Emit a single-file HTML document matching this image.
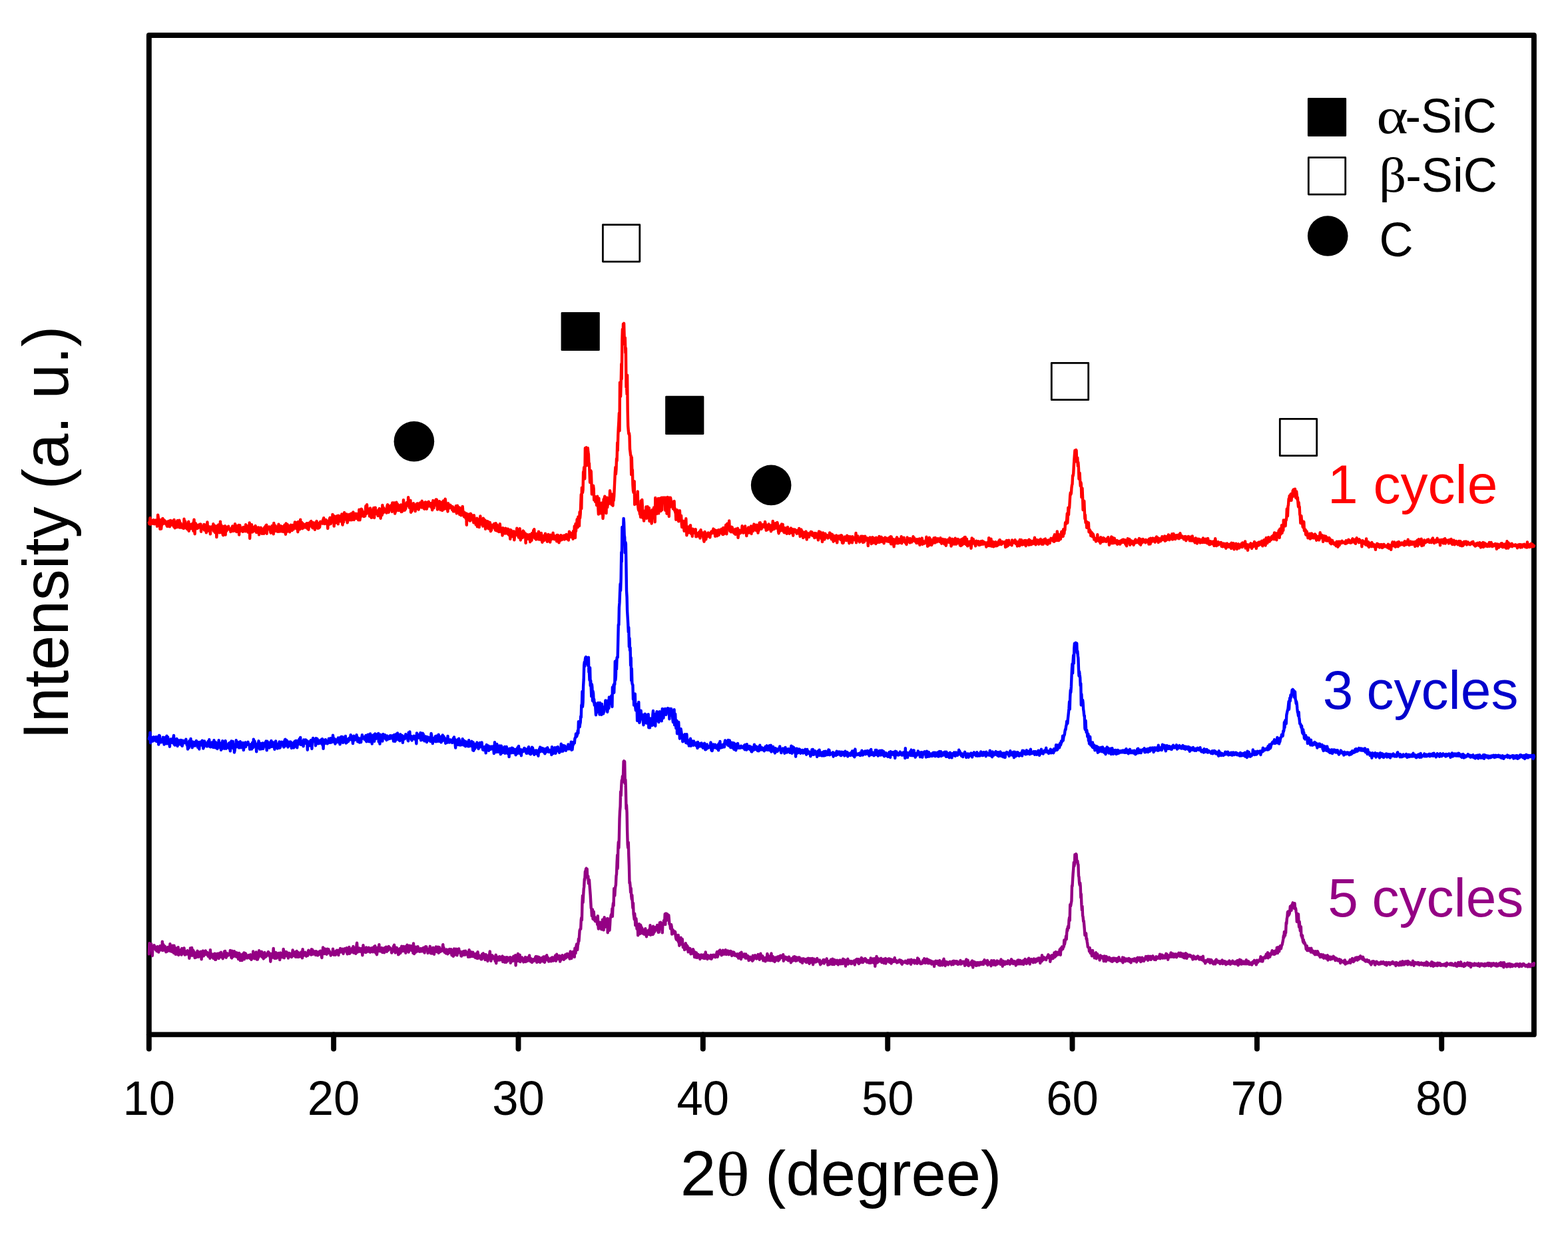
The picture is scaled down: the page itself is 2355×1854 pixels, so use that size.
<!DOCTYPE html>
<html lang="en">
<head>
<meta charset="utf-8">
<title>XRD patterns</title>
<style>
html,body{margin:0;padding:0;background:#fff;}
body{width:2355px;height:1854px;overflow:hidden;}
svg{display:block;}
text{font-family:'Liberation Sans', sans-serif;fill:#000;}
.sym{font-family:'Liberation Serif', serif;}
</style>
</head>
<body>
<svg width="2355" height="1854" viewBox="0 0 2355 1854">
<rect width="2355" height="1854" fill="#fff"/>

<g fill="none" stroke="#000" stroke-width="7.9" stroke-linecap="round" stroke-linejoin="round">
<rect x="223.8" y="53.0" width="2080.1" height="1501.4"/>
<line x1="223.8" y1="1554.4" x2="223.8" y2="1575.8"/>
<line x1="501.1" y1="1554.4" x2="501.1" y2="1575.8"/>
<line x1="778.5" y1="1554.4" x2="778.5" y2="1575.8"/>
<line x1="1055.8" y1="1554.4" x2="1055.8" y2="1575.8"/>
<line x1="1333.2" y1="1554.4" x2="1333.2" y2="1575.8"/>
<line x1="1610.5" y1="1554.4" x2="1610.5" y2="1575.8"/>
<line x1="1887.9" y1="1554.4" x2="1887.9" y2="1575.8"/>
<line x1="2165.2" y1="1554.4" x2="2165.2" y2="1575.8"/>
</g>
<g>
<text transform="translate(223.8,1674.8) scale(1,1.035)" font-size="70.7" text-anchor="middle">10</text>
<text transform="translate(501.1,1674.8) scale(1,1.035)" font-size="70.7" text-anchor="middle">20</text>
<text transform="translate(778.5,1674.8) scale(1,1.035)" font-size="70.7" text-anchor="middle">30</text>
<text transform="translate(1055.8,1674.8) scale(1,1.035)" font-size="70.7" text-anchor="middle">40</text>
<text transform="translate(1333.2,1674.8) scale(1,1.035)" font-size="70.7" text-anchor="middle">50</text>
<text transform="translate(1610.5,1674.8) scale(1,1.035)" font-size="70.7" text-anchor="middle">60</text>
<text transform="translate(1887.9,1674.8) scale(1,1.035)" font-size="70.7" text-anchor="middle">70</text>
<text transform="translate(2165.2,1674.8) scale(1,1.035)" font-size="70.7" text-anchor="middle">80</text>
</g>
<text transform="translate(1021.7,1796.2)" font-size="94"><tspan font-size="96.6">2</tspan><tspan class="sym" x="53.6" y="0.2" font-size="92.9" textLength="50.8" lengthAdjust="spacingAndGlyphs">θ</tspan><tspan x="101.3" y="0"> (degree)</tspan></text>
<text transform="translate(101.5,800.5) rotate(-90) scale(1,1.02)" font-size="94" text-anchor="middle">Intensity (a. u.)</text>
<g>
<path d="M223.8,1433.4 224.4,1417.3 224.9,1427.4 225.5,1423.8 226.0,1424.0 226.6,1424.6 227.1,1418.1 227.7,1424.1 228.2,1421.7 228.8,1436.0 229.3,1425.1 229.9,1422.9 230.5,1423.0 231.0,1421.6 231.6,1420.2 232.1,1422.4 232.7,1425.4 233.2,1422.9 233.8,1427.0 234.3,1423.0 234.9,1423.8 235.4,1429.1 236.0,1425.7 236.6,1422.1 237.1,1423.2 237.7,1425.7 238.2,1430.6 238.8,1423.0 239.3,1423.2 239.9,1427.5 240.4,1421.1 241.0,1423.2 241.6,1427.3 242.1,1426.3 242.7,1424.7 243.2,1426.8 243.8,1414.8 244.3,1428.1 244.9,1421.4 245.4,1419.1 246.0,1425.9 246.5,1427.4 247.1,1423.6 247.7,1421.5 248.2,1425.4 248.8,1425.2 249.3,1430.3 249.9,1428.2 250.4,1426.4 251.0,1429.6 251.5,1425.2 252.1,1422.9 252.6,1428.1 253.2,1428.3 253.8,1425.6 254.3,1423.8 254.9,1427.4 255.4,1418.2 256.0,1429.2 256.5,1428.6 257.1,1421.4 257.6,1427.4 258.2,1424.0 258.7,1430.0 259.3,1420.6 259.9,1424.5 260.4,1430.2 261.0,1431.8 261.5,1420.6 262.1,1426.4 262.6,1429.3 263.2,1426.2 263.7,1433.9 264.3,1424.5 264.8,1429.8 265.4,1425.2 266.0,1433.6 266.5,1428.9 267.1,1427.8 267.6,1423.3 268.2,1435.0 268.7,1431.9 269.3,1432.0 269.8,1433.4 270.4,1430.8 270.9,1427.5 271.5,1427.0 272.1,1427.1 272.6,1434.5 273.2,1425.0 273.7,1428.0 274.3,1429.0 274.8,1430.9 275.4,1432.1 275.9,1426.0 276.5,1424.4 277.1,1430.4 277.6,1434.6 278.2,1433.1 278.7,1431.3 279.3,1429.5 279.8,1431.7 280.4,1429.9 280.9,1433.6 281.5,1428.2 282.0,1431.4 282.6,1430.6 283.2,1432.9 283.7,1431.9 284.3,1439.9 284.8,1436.3 285.4,1436.4 285.9,1424.4 286.5,1430.3 287.0,1429.4 287.6,1433.4 288.1,1423.9 288.7,1435.7 289.3,1435.3 289.8,1427.4 290.4,1428.5 290.9,1429.2 291.5,1432.1 292.0,1434.2 292.6,1439.0 293.1,1431.5 293.7,1434.8 294.2,1432.8 294.8,1438.3 295.4,1434.9 295.9,1437.1 296.5,1428.8 297.0,1431.9 297.6,1429.8 298.1,1437.7 298.7,1434.9 299.2,1431.7 299.8,1431.3 300.3,1434.5 300.9,1430.5 301.5,1429.8 302.0,1434.6 302.6,1441.4 303.1,1432.3 303.7,1431.3 304.2,1429.2 304.8,1428.7 305.3,1435.1 305.9,1436.2 306.4,1433.4 307.0,1434.6 307.6,1433.9 308.1,1434.0 308.7,1428.4 309.2,1432.1 309.8,1434.1 310.3,1431.1 310.9,1432.1 311.4,1431.0 312.0,1432.7 312.6,1436.8 313.1,1432.5 313.7,1433.4 314.2,1436.7 314.8,1436.2 315.3,1439.8 315.9,1427.1 316.4,1437.0 317.0,1432.5 317.5,1434.7 318.1,1437.1 318.7,1437.9 319.2,1437.8 319.8,1434.9 320.3,1439.8 320.9,1433.4 321.4,1433.9 322.0,1437.1 322.5,1432.6 323.1,1441.8 323.6,1438.0 324.2,1441.9 324.8,1434.5 325.3,1433.3 325.9,1435.2 326.4,1437.1 327.0,1432.7 327.5,1435.9 328.1,1434.6 328.6,1440.1 329.2,1432.5 329.7,1438.2 330.3,1432.6 330.9,1431.5 331.4,1432.4 332.0,1430.8 332.5,1435.3 333.1,1438.3 333.6,1435.4 334.2,1436.9 334.7,1440.3 335.3,1435.8 335.8,1435.5 336.4,1434.0 337.0,1429.5 337.5,1437.4 338.1,1429.0 338.6,1437.1 339.2,1434.9 339.7,1438.7 340.3,1434.7 340.8,1432.2 341.4,1436.2 341.9,1433.1 342.5,1434.4 343.1,1435.2 343.6,1434.6 344.2,1434.4 344.7,1432.3 345.3,1434.4 345.8,1427.9 346.4,1434.6 346.9,1431.1 347.5,1438.9 348.1,1439.4 348.6,1428.6 349.2,1435.6 349.7,1434.7 350.3,1431.7 350.8,1437.0 351.4,1433.6 351.9,1429.3 352.5,1434.3 353.0,1434.7 353.6,1435.6 354.2,1431.1 354.7,1437.3 355.3,1437.7 355.8,1431.4 356.4,1433.1 356.9,1435.0 357.5,1433.4 358.0,1441.1 358.6,1436.0 359.1,1431.9 359.7,1432.7 360.3,1435.1 360.8,1443.0 361.4,1434.7 361.9,1435.8 362.5,1437.1 363.0,1435.2 363.6,1443.0 364.1,1433.6 364.7,1437.9 365.2,1435.9 365.8,1437.5 366.4,1431.5 366.9,1441.3 367.5,1435.0 368.0,1435.5 368.6,1432.3 369.1,1433.0 369.7,1437.3 370.2,1438.7 370.8,1437.9 371.3,1439.5 371.9,1437.8 372.5,1435.6 373.0,1438.2 373.6,1437.4 374.1,1435.1 374.7,1437.9 375.2,1439.7 375.8,1436.3 376.3,1434.3 376.9,1437.9 377.5,1441.8 378.0,1434.8 378.6,1435.2 379.1,1435.0 379.7,1439.5 380.2,1429.4 380.8,1436.7 381.3,1439.4 381.9,1432.8 382.4,1440.4 383.0,1437.3 383.6,1433.7 384.1,1436.2 384.7,1430.4 385.2,1433.6 385.8,1441.5 386.3,1432.5 386.9,1441.6 387.4,1435.2 388.0,1438.8 388.5,1435.6 389.1,1428.1 389.7,1433.6 390.2,1436.1 390.8,1431.7 391.3,1431.0 391.9,1436.6 392.4,1433.3 393.0,1429.8 393.5,1433.2 394.1,1438.2 394.6,1433.8 395.2,1438.5 395.8,1440.4 396.3,1435.5 396.9,1431.6 397.4,1431.0 398.0,1435.2 398.5,1438.2 399.1,1436.2 399.6,1437.1 400.2,1433.8 400.7,1436.2 401.3,1433.7 401.9,1434.1 402.4,1430.9 403.0,1430.0 403.5,1433.6 404.1,1431.5 404.6,1432.0 405.2,1437.3 405.7,1434.7 406.3,1444.7 406.8,1438.1 407.4,1432.9 408.0,1437.6 408.5,1436.2 409.1,1432.7 409.6,1438.6 410.2,1432.4 410.7,1424.9 411.3,1437.5 411.8,1432.8 412.4,1439.7 413.0,1432.7 413.5,1430.9 414.1,1439.9 414.6,1431.2 415.2,1435.4 415.7,1439.5 416.3,1435.1 416.8,1434.4 417.4,1435.0 417.9,1437.4 418.5,1431.9 419.1,1436.6 419.6,1436.4 420.2,1442.1 420.7,1433.4 421.3,1431.5 421.8,1436.8 422.4,1433.1 422.9,1435.3 423.5,1434.8 424.0,1438.2 424.6,1432.1 425.2,1434.0 425.7,1425.9 426.3,1431.3 426.8,1439.2 427.4,1431.9 427.9,1431.8 428.5,1430.1 429.0,1436.0 429.6,1434.6 430.1,1430.2 430.7,1436.2 431.3,1434.8 431.8,1436.4 432.4,1431.8 432.9,1439.6 433.5,1435.2 434.0,1433.5 434.6,1432.1 435.1,1433.0 435.7,1436.6 436.2,1432.9 436.8,1437.2 437.4,1435.6 437.9,1438.1 438.5,1436.3 439.0,1433.4 439.6,1427.4 440.1,1434.5 440.7,1436.1 441.2,1434.1 441.8,1435.3 442.3,1431.9 442.9,1432.2 443.5,1430.3 444.0,1437.8 444.6,1433.9 445.1,1431.7 445.7,1429.0 446.2,1432.8 446.8,1437.9 447.3,1434.7 447.9,1430.8 448.5,1437.8 449.0,1437.8 449.6,1436.3 450.1,1435.6 450.7,1436.8 451.2,1434.8 451.8,1435.5 452.3,1430.4 452.9,1437.8 453.4,1433.6 454.0,1439.4 454.6,1426.2 455.1,1435.1 455.7,1435.9 456.2,1431.6 456.8,1434.1 457.3,1435.1 457.9,1434.5 458.4,1430.8 459.0,1432.1 459.5,1435.8 460.1,1436.6 460.7,1432.7 461.2,1432.6 461.8,1433.0 462.3,1435.7 462.9,1428.8 463.4,1427.9 464.0,1432.6 464.5,1428.6 465.1,1430.2 465.6,1432.4 466.2,1433.6 466.8,1428.5 467.3,1434.6 467.9,1426.2 468.4,1433.6 469.0,1426.7 469.5,1427.7 470.1,1433.8 470.6,1430.4 471.2,1429.1 471.7,1430.2 472.3,1433.1 472.9,1431.4 473.4,1431.4 474.0,1434.9 474.5,1429.1 475.1,1429.9 475.6,1429.7 476.2,1435.1 476.7,1434.5 477.3,1435.4 477.8,1431.1 478.4,1430.7 479.0,1433.9 479.5,1429.8 480.1,1433.7 480.6,1433.3 481.2,1428.7 481.7,1430.7 482.3,1430.5 482.8,1436.4 483.4,1439.1 484.0,1430.5 484.5,1430.8 485.1,1423.4 485.6,1431.3 486.2,1430.6 486.7,1427.1 487.3,1433.1 487.8,1425.5 488.4,1429.8 488.9,1430.9 489.5,1426.4 490.1,1433.1 490.6,1433.7 491.2,1425.8 491.7,1425.7 492.3,1432.1 492.8,1430.1 493.4,1426.2 493.9,1429.1 494.5,1429.7 495.0,1429.5 495.6,1432.6 496.2,1431.2 496.7,1435.6 497.3,1434.2 497.8,1432.0 498.4,1433.2 498.9,1434.0 499.5,1431.9 500.0,1425.7 500.6,1432.3 501.1,1429.8 501.7,1434.7 502.3,1429.7 502.8,1431.1 503.4,1430.4 503.9,1434.7 504.5,1429.8 505.0,1428.4 505.6,1430.2 506.1,1427.7 506.7,1429.6 507.2,1429.0 507.8,1429.9 508.4,1435.1 508.9,1427.6 509.5,1429.0 510.0,1428.2 510.6,1430.9 511.1,1424.9 511.7,1426.4 512.2,1428.5 512.8,1430.3 513.3,1428.4 513.9,1426.9 514.5,1425.7 515.0,1430.0 515.6,1432.9 516.1,1429.3 516.7,1428.8 517.2,1429.6 517.8,1425.2 518.3,1427.1 518.9,1427.2 519.5,1429.0 520.0,1427.9 520.6,1424.1 521.1,1431.5 521.7,1433.3 522.2,1427.0 522.8,1429.1 523.3,1428.6 523.9,1430.2 524.4,1423.0 525.0,1432.8 525.6,1426.2 526.1,1431.6 526.7,1427.9 527.2,1426.3 527.8,1427.1 528.3,1430.4 528.9,1424.8 529.4,1426.3 530.0,1425.9 530.5,1422.0 531.1,1431.6 531.7,1429.2 532.2,1427.3 532.8,1431.1 533.3,1424.3 533.9,1427.1 534.4,1432.8 535.0,1430.4 535.5,1420.2 536.1,1416.7 536.6,1424.0 537.2,1430.6 537.8,1425.7 538.3,1426.5 538.9,1429.1 539.4,1424.4 540.0,1427.9 540.5,1429.7 541.1,1428.6 541.6,1428.4 542.2,1425.2 542.7,1428.8 543.3,1425.8 543.9,1431.2 544.4,1435.2 545.0,1424.7 545.5,1420.2 546.1,1425.7 546.6,1428.2 547.2,1430.3 547.7,1430.4 548.3,1424.5 548.9,1424.5 549.4,1431.0 550.0,1423.5 550.5,1430.4 551.1,1426.2 551.6,1429.3 552.2,1429.1 552.7,1429.4 553.3,1429.5 553.8,1423.8 554.4,1427.8 555.0,1426.9 555.5,1427.8 556.1,1430.7 556.6,1426.0 557.2,1424.6 557.7,1424.5 558.3,1425.8 558.8,1429.1 559.4,1424.2 559.9,1430.4 560.5,1427.7 561.1,1426.0 561.6,1422.5 562.2,1427.5 562.7,1428.9 563.3,1421.1 563.8,1430.4 564.4,1431.9 564.9,1427.7 565.5,1428.2 566.0,1434.2 566.6,1430.5 567.2,1423.8 567.7,1426.6 568.3,1426.1 568.8,1426.1 569.4,1419.2 569.9,1429.0 570.5,1424.6 571.0,1427.1 571.6,1426.1 572.1,1429.3 572.7,1425.6 573.3,1424.0 573.8,1428.2 574.4,1430.9 574.9,1425.5 575.5,1430.8 576.0,1427.3 576.6,1424.8 577.1,1431.3 577.7,1423.9 578.2,1429.6 578.8,1424.9 579.4,1427.9 579.9,1422.6 580.5,1423.8 581.0,1429.8 581.6,1427.0 582.1,1426.5 582.7,1425.0 583.2,1427.8 583.8,1422.0 584.4,1422.9 584.9,1425.9 585.5,1423.8 586.0,1424.2 586.6,1426.2 587.1,1425.9 587.7,1425.7 588.2,1431.6 588.8,1429.5 589.3,1430.2 589.9,1426.3 590.5,1424.8 591.0,1421.8 591.6,1425.3 592.1,1419.8 592.7,1424.5 593.2,1428.7 593.8,1431.4 594.3,1429.3 594.9,1423.6 595.4,1427.9 596.0,1423.9 596.6,1428.9 597.1,1426.0 597.7,1429.0 598.2,1434.3 598.8,1429.2 599.3,1433.6 599.9,1426.9 600.4,1425.3 601.0,1430.5 601.5,1431.7 602.1,1424.6 602.7,1426.5 603.2,1421.8 603.8,1425.7 604.3,1429.1 604.9,1426.0 605.4,1424.5 606.0,1421.9 606.5,1427.4 607.1,1428.8 607.6,1428.2 608.2,1427.1 608.8,1422.3 609.3,1431.8 609.9,1426.1 610.4,1425.9 611.0,1428.6 611.5,1419.6 612.1,1426.1 612.6,1425.9 613.2,1427.5 613.7,1430.5 614.3,1427.8 614.9,1420.7 615.4,1425.3 616.0,1427.0 616.5,1426.8 617.1,1422.4 617.6,1421.2 618.2,1428.1 618.7,1427.5 619.3,1426.4 619.9,1421.1 620.4,1431.9 621.0,1417.5 621.5,1425.4 622.1,1433.0 622.6,1426.0 623.2,1427.2 623.7,1422.9 624.3,1430.7 624.8,1422.6 625.4,1427.4 626.0,1427.0 626.5,1423.4 627.1,1429.4 627.6,1422.3 628.2,1424.5 628.7,1426.6 629.3,1425.4 629.8,1428.1 630.4,1429.6 630.9,1425.8 631.5,1425.1 632.1,1425.2 632.6,1425.7 633.2,1429.3 633.7,1426.2 634.3,1428.1 634.8,1426.6 635.4,1424.3 635.9,1429.6 636.5,1423.7 637.0,1427.0 637.6,1431.5 638.2,1423.6 638.7,1426.8 639.3,1422.1 639.8,1425.5 640.4,1422.5 640.9,1426.0 641.5,1425.5 642.0,1427.5 642.6,1432.0 643.1,1428.1 643.7,1429.2 644.3,1427.1 644.8,1426.5 645.4,1424.7 645.9,1421.8 646.5,1427.5 647.0,1432.4 647.6,1428.8 648.1,1425.8 648.7,1432.5 649.2,1426.1 649.8,1425.6 650.4,1423.8 650.9,1424.6 651.5,1426.8 652.0,1433.7 652.6,1427.0 653.1,1424.5 653.7,1425.8 654.2,1427.0 654.8,1422.5 655.4,1428.1 655.9,1429.9 656.5,1428.8 657.0,1429.7 657.6,1423.9 658.1,1422.7 658.7,1431.8 659.2,1431.3 659.8,1423.2 660.3,1428.6 660.9,1428.1 661.5,1429.7 662.0,1428.7 662.6,1426.6 663.1,1428.7 663.7,1428.7 664.2,1428.1 664.8,1422.6 665.3,1419.1 665.9,1425.9 666.4,1423.4 667.0,1429.2 667.6,1430.7 668.1,1429.3 668.7,1427.5 669.2,1428.8 669.8,1432.3 670.3,1426.5 670.9,1431.6 671.4,1431.0 672.0,1429.7 672.5,1433.4 673.1,1426.9 673.7,1432.0 674.2,1426.4 674.8,1426.9 675.3,1426.1 675.9,1430.7 676.4,1426.6 677.0,1429.7 677.5,1426.1 678.1,1432.9 678.6,1435.3 679.2,1430.5 679.8,1434.9 680.3,1431.7 680.9,1436.7 681.4,1430.4 682.0,1425.5 682.5,1434.8 683.1,1430.0 683.6,1427.3 684.2,1428.6 684.8,1425.7 685.3,1430.2 685.9,1427.6 686.4,1435.4 687.0,1433.0 687.5,1426.0 688.1,1426.6 688.6,1429.5 689.2,1425.5 689.7,1431.1 690.3,1431.4 690.9,1429.3 691.4,1430.0 692.0,1433.3 692.5,1436.2 693.1,1436.5 693.6,1432.2 694.2,1434.7 694.7,1430.0 695.3,1433.6 695.8,1429.5 696.4,1434.7 697.0,1428.9 697.5,1429.8 698.1,1432.8 698.6,1434.6 699.2,1428.6 699.7,1431.4 700.3,1433.6 700.8,1433.9 701.4,1430.8 701.9,1433.7 702.5,1432.7 703.1,1437.8 703.6,1435.4 704.2,1429.8 704.7,1427.2 705.3,1434.3 705.8,1437.6 706.4,1434.7 706.9,1436.9 707.5,1432.8 708.0,1430.3 708.6,1436.7 709.2,1434.8 709.7,1436.7 710.3,1430.6 710.8,1435.3 711.4,1433.0 711.9,1437.4 712.5,1433.3 713.0,1433.3 713.6,1433.4 714.1,1439.1 714.7,1435.4 715.3,1433.1 715.8,1432.4 716.4,1432.4 716.9,1440.0 717.5,1430.2 718.0,1433.2 718.6,1437.8 719.1,1439.4 719.7,1435.5 720.3,1438.4 720.8,1438.4 721.4,1439.2 721.9,1436.4 722.5,1441.3 723.0,1437.1 723.6,1441.2 724.1,1433.4 724.7,1439.6 725.2,1433.1 725.8,1432.4 726.4,1438.5 726.9,1434.6 727.5,1438.5 728.0,1434.1 728.6,1442.1 729.1,1437.5 729.7,1434.1 730.2,1438.1 730.8,1440.3 731.3,1435.5 731.9,1439.4 732.5,1444.0 733.0,1440.6 733.6,1438.1 734.1,1436.5 734.7,1440.0 735.2,1433.8 735.8,1429.4 736.3,1436.5 736.9,1435.3 737.4,1443.8 738.0,1439.1 738.6,1435.8 739.1,1435.4 739.7,1440.4 740.2,1436.5 740.8,1437.3 741.3,1438.9 741.9,1439.5 742.4,1439.5 743.0,1439.7 743.5,1443.3 744.1,1444.5 744.7,1434.6 745.2,1447.2 745.8,1440.0 746.3,1443.4 746.9,1437.6 747.4,1440.8 748.0,1440.5 748.5,1440.2 749.1,1442.5 749.6,1441.9 750.2,1437.1 750.8,1439.7 751.3,1442.3 751.9,1442.2 752.4,1439.2 753.0,1439.4 753.5,1439.8 754.1,1437.0 754.6,1436.5 755.2,1445.0 755.8,1439.2 756.3,1440.7 756.9,1438.2 757.4,1444.3 758.0,1445.7 758.5,1439.9 759.1,1442.1 759.6,1438.4 760.2,1445.8 760.7,1443.4 761.3,1438.2 761.9,1444.4 762.4,1441.8 763.0,1442.0 763.5,1441.9 764.1,1438.9 764.6,1439.3 765.2,1442.7 765.7,1440.8 766.3,1438.2 766.8,1446.9 767.4,1440.4 768.0,1439.4 768.5,1439.0 769.1,1443.1 769.6,1444.0 770.2,1441.9 770.7,1443.7 771.3,1436.8 771.8,1440.1 772.4,1439.9 772.9,1441.3 773.5,1442.7 774.1,1435.3 774.6,1450.5 775.2,1438.8 775.7,1442.4 776.3,1443.8 776.8,1443.9 777.4,1442.1 777.9,1433.0 778.5,1438.3 779.0,1443.7 779.6,1438.8 780.2,1438.5 780.7,1434.7 781.3,1445.1 781.8,1443.1 782.4,1439.0 782.9,1441.2 783.5,1441.3 784.0,1438.4 784.6,1440.9 785.1,1442.4 785.7,1443.3 786.3,1445.4 786.8,1441.8 787.4,1440.4 787.9,1442.9 788.5,1439.9 789.0,1438.1 789.6,1445.1 790.1,1440.7 790.7,1442.2 791.3,1443.7 791.8,1438.6 792.4,1443.7 792.9,1443.2 793.5,1441.6 794.0,1443.0 794.6,1439.7 795.1,1435.5 795.7,1441.1 796.2,1439.3 796.8,1444.5 797.4,1442.7 797.9,1440.4 798.5,1442.1 799.0,1445.9 799.6,1445.3 800.1,1443.1 800.7,1443.2 801.2,1441.2 801.8,1441.6 802.3,1443.7 802.9,1441.7 803.5,1442.9 804.0,1438.8 804.6,1437.2 805.1,1437.1 805.7,1440.8 806.2,1445.9 806.8,1445.5 807.3,1439.2 807.9,1437.6 808.4,1444.3 809.0,1443.4 809.6,1438.1 810.1,1445.1 810.7,1442.5 811.2,1445.8 811.8,1443.0 812.3,1444.5 812.9,1442.9 813.4,1439.2 814.0,1441.3 814.5,1440.0 815.1,1444.3 815.7,1439.0 816.2,1437.4 816.8,1443.7 817.3,1445.0 817.9,1445.9 818.4,1444.8 819.0,1437.3 819.5,1439.6 820.1,1440.0 820.7,1441.4 821.2,1435.3 821.8,1441.4 822.3,1442.1 822.9,1438.6 823.4,1441.6 824.0,1444.6 824.5,1441.3 825.1,1444.1 825.6,1443.9 826.2,1442.1 826.8,1442.0 827.3,1439.8 827.9,1444.3 828.4,1439.4 829.0,1438.7 829.5,1442.6 830.1,1438.4 830.6,1441.7 831.2,1443.4 831.7,1440.5 832.3,1440.5 832.9,1442.8 833.4,1442.2 834.0,1435.6 834.5,1436.2 835.1,1443.7 835.6,1440.9 836.2,1433.8 836.7,1435.8 837.3,1439.6 837.8,1436.7 838.4,1440.7 839.0,1439.6 839.5,1440.6 840.1,1435.9 840.6,1440.9 841.2,1444.6 841.7,1436.7 842.3,1442.6 842.8,1441.6 843.4,1440.5 843.9,1438.4 844.5,1435.2 845.1,1436.0 845.6,1440.5 846.2,1441.1 846.7,1441.7 847.3,1440.9 847.8,1440.6 848.4,1436.7 848.9,1434.4 849.5,1438.4 850.0,1439.1 850.6,1437.8 851.2,1433.1 851.7,1435.9 852.3,1432.9 852.8,1437.6 853.4,1433.9 853.9,1436.4 854.5,1437.7 855.0,1437.0 855.6,1440.5 856.2,1432.9 856.7,1429.4 857.3,1438.7 857.8,1440.0 858.4,1439.9 858.9,1436.1 859.5,1436.6 860.0,1435.0 860.6,1430.0 861.1,1431.7 861.7,1434.5 862.3,1430.1 862.8,1437.8 863.4,1424.8 863.9,1427.5 864.5,1432.1 865.0,1424.4 865.6,1421.0 866.1,1418.6 866.7,1419.5 867.2,1427.0 867.8,1420.2 868.4,1418.2 868.9,1410.6 869.5,1414.0 870.0,1407.1 870.6,1398.1 871.1,1396.6 871.7,1395.5 872.2,1395.7 872.8,1382.0 873.3,1378.8 873.9,1382.3 874.5,1355.8 875.0,1345.6 875.6,1356.0 876.1,1346.3 876.7,1335.8 877.2,1332.2 877.8,1320.7 878.3,1321.9 878.9,1309.3 879.4,1315.3 880.0,1305.5 880.6,1304.7 881.1,1307.5 881.7,1305.5 882.2,1318.4 882.8,1316.0 883.3,1316.3 883.9,1327.4 884.4,1325.9 885.0,1321.9 885.5,1329.8 886.1,1337.3 886.7,1345.0 887.2,1354.1 887.8,1364.3 888.3,1365.1 888.9,1376.1 889.4,1374.6 890.0,1366.5 890.5,1380.7 891.1,1379.0 891.7,1369.6 892.2,1376.0 892.8,1382.4 893.3,1378.0 893.9,1384.1 894.4,1381.3 895.0,1384.4 895.5,1379.3 896.1,1384.8 896.6,1381.6 897.2,1389.1 897.8,1376.1 898.3,1389.3 898.9,1395.6 899.4,1392.5 900.0,1389.6 900.5,1393.4 901.1,1385.7 901.6,1385.9 902.2,1388.6 902.7,1389.8 903.3,1396.2 903.9,1385.5 904.4,1396.4 905.0,1381.6 905.5,1386.1 906.1,1390.5 906.6,1397.3 907.2,1387.1 907.7,1378.3 908.3,1393.1 908.8,1390.5 909.4,1384.3 910.0,1384.3 910.5,1386.0 911.1,1390.2 911.6,1392.9 912.2,1379.9 912.7,1401.3 913.3,1386.9 913.8,1384.1 914.4,1389.5 914.9,1385.2 915.5,1397.7 916.1,1389.2 916.6,1379.2 917.2,1377.7 917.7,1375.1 918.3,1373.6 918.8,1377.2 919.4,1365.2 919.9,1376.8 920.5,1361.4 921.0,1356.9 921.6,1360.6 922.2,1335.0 922.7,1338.3 923.3,1345.7 923.8,1336.6 924.4,1331.6 924.9,1329.7 925.5,1315.9 926.0,1313.5 926.6,1296.6 927.2,1284.6 927.7,1304.9 928.3,1274.6 928.8,1265.1 929.4,1274.0 929.9,1258.7 930.5,1230.1 931.0,1218.7 931.6,1211.7 932.1,1189.5 932.7,1195.4 933.3,1180.4 933.8,1172.3 934.4,1173.2 934.9,1166.2 935.5,1174.5 936.0,1166.1 936.6,1144.2 937.1,1143.4 937.7,1144.2 938.2,1144.2 938.8,1177.4 939.4,1171.4 939.9,1186.8 940.5,1215.3 941.0,1209.5 941.6,1221.2 942.1,1247.7 942.7,1268.8 943.2,1273.7 943.8,1265.7 944.3,1285.6 944.9,1300.4 945.5,1327.0 946.0,1325.4 946.6,1331.7 947.1,1340.7 947.7,1334.7 948.2,1346.0 948.8,1351.0 949.3,1344.9 949.9,1356.1 950.4,1364.2 951.0,1357.0 951.6,1373.3 952.1,1376.4 952.7,1381.2 953.2,1372.6 953.8,1380.4 954.3,1390.4 954.9,1388.0 955.4,1380.2 956.0,1387.5 956.5,1395.7 957.1,1388.4 957.7,1392.1 958.2,1405.3 958.8,1391.8 959.3,1392.2 959.9,1388.1 960.4,1390.8 961.0,1403.0 961.5,1394.8 962.1,1389.8 962.7,1391.7 963.2,1397.2 963.8,1401.7 964.3,1394.3 964.9,1402.4 965.4,1396.6 966.0,1401.5 966.5,1402.7 967.1,1403.5 967.6,1398.6 968.2,1400.2 968.8,1403.9 969.3,1395.1 969.9,1402.6 970.4,1404.5 971.0,1407.3 971.5,1401.9 972.1,1401.1 972.6,1402.7 973.2,1398.3 973.7,1400.8 974.3,1403.8 974.9,1403.0 975.4,1396.1 976.0,1399.5 976.5,1390.3 977.1,1404.8 977.6,1397.8 978.2,1401.4 978.7,1394.3 979.3,1399.2 979.8,1401.6 980.4,1404.1 981.0,1391.7 981.5,1402.8 982.1,1397.3 982.6,1393.8 983.2,1400.0 983.7,1395.7 984.3,1395.3 984.8,1392.9 985.4,1397.4 985.9,1396.1 986.5,1394.6 987.1,1390.0 987.6,1392.0 988.2,1396.4 988.7,1400.7 989.3,1393.3 989.8,1400.6 990.4,1392.4 990.9,1386.1 991.5,1394.9 992.1,1385.7 992.6,1392.7 993.2,1395.8 993.7,1387.5 994.3,1388.0 994.8,1401.4 995.4,1388.0 995.9,1387.2 996.5,1389.2 997.0,1383.3 997.6,1382.4 998.2,1384.3 998.7,1373.3 999.3,1389.1 999.8,1373.9 1000.4,1372.5 1000.9,1383.0 1001.5,1380.1 1002.0,1373.3 1002.6,1382.1 1003.1,1374.9 1003.7,1378.5 1004.3,1375.0 1004.8,1380.1 1005.4,1388.4 1005.9,1388.1 1006.5,1390.5 1007.0,1395.2 1007.6,1391.3 1008.1,1389.2 1008.7,1392.5 1009.2,1403.6 1009.8,1396.2 1010.4,1398.7 1010.9,1397.6 1011.5,1400.4 1012.0,1402.3 1012.6,1401.2 1013.1,1401.6 1013.7,1399.6 1014.2,1400.4 1014.8,1407.3 1015.3,1409.9 1015.9,1411.6 1016.5,1408.5 1017.0,1405.4 1017.6,1412.8 1018.1,1413.5 1018.7,1404.9 1019.2,1415.7 1019.8,1415.4 1020.3,1420.7 1020.9,1409.5 1021.4,1409.5 1022.0,1418.8 1022.6,1408.7 1023.1,1413.7 1023.7,1412.9 1024.2,1413.8 1024.8,1410.9 1025.3,1418.0 1025.9,1423.3 1026.4,1421.7 1027.0,1422.3 1027.6,1419.7 1028.1,1427.0 1028.7,1424.0 1029.2,1426.4 1029.8,1417.3 1030.3,1424.7 1030.9,1419.8 1031.4,1425.7 1032.0,1425.6 1032.5,1421.4 1033.1,1426.4 1033.7,1430.3 1034.2,1428.4 1034.8,1429.2 1035.3,1424.8 1035.9,1425.9 1036.4,1425.0 1037.0,1429.5 1037.5,1433.3 1038.1,1431.3 1038.6,1430.4 1039.2,1427.3 1039.8,1432.6 1040.3,1430.8 1040.9,1426.2 1041.4,1427.1 1042.0,1431.6 1042.5,1430.3 1043.1,1438.0 1043.6,1433.5 1044.2,1430.6 1044.7,1432.4 1045.3,1438.5 1045.9,1431.5 1046.4,1436.5 1047.0,1435.8 1047.5,1438.8 1048.1,1436.4 1048.6,1434.0 1049.2,1436.7 1049.7,1435.6 1050.3,1438.2 1050.8,1435.5 1051.4,1441.1 1052.0,1435.7 1052.5,1437.3 1053.1,1434.5 1053.6,1436.7 1054.2,1436.6 1054.7,1437.1 1055.3,1439.0 1055.8,1435.4 1056.4,1434.7 1056.9,1439.8 1057.5,1436.3 1058.1,1435.4 1058.6,1440.1 1059.2,1439.2 1059.7,1430.5 1060.3,1436.3 1060.8,1439.2 1061.4,1439.3 1061.9,1435.9 1062.5,1441.1 1063.1,1435.2 1063.6,1436.5 1064.2,1437.4 1064.7,1437.0 1065.3,1439.0 1065.8,1439.4 1066.4,1436.7 1066.9,1440.2 1067.5,1434.9 1068.0,1436.0 1068.6,1440.7 1069.2,1436.5 1069.7,1438.9 1070.3,1435.0 1070.8,1435.3 1071.4,1435.5 1071.9,1436.1 1072.5,1434.7 1073.0,1435.5 1073.6,1437.0 1074.1,1438.2 1074.7,1435.3 1075.3,1436.5 1075.8,1436.9 1076.4,1431.7 1076.9,1430.1 1077.5,1437.8 1078.0,1436.6 1078.6,1433.1 1079.1,1433.5 1079.7,1429.8 1080.2,1428.4 1080.8,1432.3 1081.4,1427.5 1081.9,1433.2 1082.5,1428.9 1083.0,1431.2 1083.6,1435.2 1084.1,1435.0 1084.7,1429.6 1085.2,1432.9 1085.8,1427.7 1086.3,1428.8 1086.9,1431.2 1087.5,1433.7 1088.0,1428.8 1088.6,1431.6 1089.1,1430.5 1089.7,1427.1 1090.2,1429.9 1090.8,1434.0 1091.3,1430.0 1091.9,1431.5 1092.4,1432.3 1093.0,1428.4 1093.6,1433.3 1094.1,1434.0 1094.7,1434.2 1095.2,1433.6 1095.8,1429.3 1096.3,1429.2 1096.9,1428.9 1097.4,1428.9 1098.0,1429.5 1098.6,1434.3 1099.1,1435.9 1099.7,1431.1 1100.2,1435.2 1100.8,1430.5 1101.3,1433.2 1101.9,1432.0 1102.4,1430.8 1103.0,1435.3 1103.5,1435.6 1104.1,1434.7 1104.7,1434.6 1105.2,1433.6 1105.8,1435.8 1106.3,1434.7 1106.9,1436.8 1107.4,1433.3 1108.0,1436.9 1108.5,1437.7 1109.1,1439.6 1109.6,1439.1 1110.2,1437.1 1110.8,1435.0 1111.3,1432.2 1111.9,1436.8 1112.4,1440.3 1113.0,1441.0 1113.5,1430.6 1114.1,1435.1 1114.6,1436.1 1115.2,1434.5 1115.7,1437.5 1116.3,1437.2 1116.9,1435.9 1117.4,1437.1 1118.0,1433.3 1118.5,1434.9 1119.1,1435.1 1119.6,1439.6 1120.2,1433.4 1120.7,1436.9 1121.3,1439.4 1121.8,1437.3 1122.4,1439.5 1123.0,1435.9 1123.5,1438.6 1124.1,1439.8 1124.6,1443.1 1125.2,1439.4 1125.7,1441.2 1126.3,1437.7 1126.8,1438.0 1127.4,1441.6 1128.0,1439.2 1128.5,1441.3 1129.1,1439.6 1129.6,1443.0 1130.2,1443.7 1130.7,1435.8 1131.3,1442.5 1131.8,1439.0 1132.4,1439.1 1132.9,1437.7 1133.5,1439.8 1134.1,1435.3 1134.6,1436.3 1135.2,1436.2 1135.7,1438.8 1136.3,1440.4 1136.8,1440.0 1137.4,1439.1 1137.9,1436.8 1138.5,1434.0 1139.0,1439.3 1139.6,1438.7 1140.2,1439.2 1140.7,1441.8 1141.3,1437.9 1141.8,1437.9 1142.4,1432.8 1142.9,1439.8 1143.5,1438.4 1144.0,1436.7 1144.6,1439.5 1145.1,1436.1 1145.7,1437.3 1146.3,1443.4 1146.8,1440.5 1147.4,1441.0 1147.9,1440.6 1148.5,1440.3 1149.0,1439.3 1149.6,1444.4 1150.1,1438.7 1150.7,1440.7 1151.2,1438.4 1151.8,1438.1 1152.4,1433.0 1152.9,1434.3 1153.5,1442.8 1154.0,1442.6 1154.6,1438.0 1155.1,1439.0 1155.7,1440.6 1156.2,1436.7 1156.8,1443.4 1157.3,1436.6 1157.9,1437.4 1158.5,1432.5 1159.0,1442.9 1159.6,1439.4 1160.1,1443.2 1160.7,1436.9 1161.2,1440.1 1161.8,1439.5 1162.3,1439.8 1162.9,1444.4 1163.5,1444.9 1164.0,1442.8 1164.6,1438.5 1165.1,1441.6 1165.7,1442.7 1166.2,1440.9 1166.8,1440.9 1167.3,1440.7 1167.9,1437.4 1168.4,1440.2 1169.0,1443.5 1169.6,1437.3 1170.1,1439.9 1170.7,1441.7 1171.2,1436.4 1171.8,1439.4 1172.3,1435.7 1172.9,1438.3 1173.4,1436.4 1174.0,1437.7 1174.5,1438.7 1175.1,1439.2 1175.7,1439.4 1176.2,1434.2 1176.8,1443.8 1177.3,1439.3 1177.9,1437.4 1178.4,1438.5 1179.0,1440.8 1179.5,1437.7 1180.1,1439.1 1180.6,1439.0 1181.2,1441.5 1181.8,1438.4 1182.3,1441.3 1182.9,1441.1 1183.4,1440.0 1184.0,1443.3 1184.5,1440.4 1185.1,1437.6 1185.6,1441.2 1186.2,1440.8 1186.7,1440.4 1187.3,1441.1 1187.9,1446.2 1188.4,1441.2 1189.0,1441.8 1189.5,1440.1 1190.1,1443.9 1190.6,1440.6 1191.2,1438.9 1191.7,1437.9 1192.3,1442.2 1192.8,1442.7 1193.4,1437.2 1194.0,1439.3 1194.5,1442.6 1195.1,1443.6 1195.6,1438.1 1196.2,1440.3 1196.7,1443.3 1197.3,1440.1 1197.8,1440.4 1198.4,1440.2 1199.0,1438.5 1199.5,1441.8 1200.1,1442.4 1200.6,1438.5 1201.2,1442.1 1201.7,1444.6 1202.3,1442.5 1202.8,1444.3 1203.4,1440.8 1203.9,1445.5 1204.5,1440.4 1205.1,1446.8 1205.6,1441.4 1206.2,1440.8 1206.7,1440.4 1207.3,1441.7 1207.8,1441.5 1208.4,1441.1 1208.9,1442.1 1209.5,1444.5 1210.0,1445.1 1210.6,1442.2 1211.2,1446.0 1211.7,1440.8 1212.3,1440.8 1212.8,1440.6 1213.4,1444.8 1213.9,1439.8 1214.5,1440.2 1215.0,1446.6 1215.6,1447.7 1216.1,1446.8 1216.7,1440.2 1217.3,1443.8 1217.8,1445.8 1218.4,1444.1 1218.9,1440.1 1219.5,1443.2 1220.0,1440.0 1220.6,1441.1 1221.1,1449.2 1221.7,1445.7 1222.2,1440.7 1222.8,1440.7 1223.4,1445.3 1223.9,1442.8 1224.5,1445.6 1225.0,1442.8 1225.6,1443.8 1226.1,1444.9 1226.7,1441.9 1227.2,1439.9 1227.8,1441.6 1228.3,1442.8 1228.9,1444.0 1229.5,1444.3 1230.0,1444.3 1230.6,1445.7 1231.1,1442.4 1231.7,1447.8 1232.2,1449.2 1232.8,1445.4 1233.3,1445.0 1233.9,1447.5 1234.5,1446.1 1235.0,1445.1 1235.6,1444.3 1236.1,1443.0 1236.7,1442.0 1237.2,1446.3 1237.8,1447.5 1238.3,1442.3 1238.9,1444.6 1239.4,1445.3 1240.0,1443.8 1240.6,1443.1 1241.1,1443.9 1241.7,1440.3 1242.2,1444.7 1242.8,1444.2 1243.3,1449.8 1243.9,1447.1 1244.4,1444.1 1245.0,1444.9 1245.5,1449.0 1246.1,1448.7 1246.7,1445.4 1247.2,1444.7 1247.8,1441.7 1248.3,1444.3 1248.9,1444.7 1249.4,1443.4 1250.0,1449.1 1250.5,1440.7 1251.1,1444.8 1251.6,1446.1 1252.2,1446.1 1252.8,1449.1 1253.3,1441.9 1253.9,1443.4 1254.4,1445.4 1255.0,1445.5 1255.5,1444.3 1256.1,1443.4 1256.6,1447.7 1257.2,1442.8 1257.7,1443.9 1258.3,1448.6 1258.9,1449.3 1259.4,1447.3 1260.0,1443.3 1260.5,1443.3 1261.1,1443.2 1261.6,1442.7 1262.2,1444.3 1262.7,1448.2 1263.3,1445.8 1263.8,1443.6 1264.4,1443.5 1265.0,1442.6 1265.5,1448.1 1266.1,1440.7 1266.6,1446.0 1267.2,1442.0 1267.7,1442.9 1268.3,1441.9 1268.8,1447.6 1269.4,1445.1 1270.0,1451.6 1270.5,1443.0 1271.1,1442.8 1271.6,1446.7 1272.2,1446.6 1272.7,1444.7 1273.3,1440.7 1273.8,1448.6 1274.4,1446.6 1274.9,1446.2 1275.5,1443.9 1276.1,1446.7 1276.6,1443.9 1277.2,1445.3 1277.7,1444.8 1278.3,1448.0 1278.8,1444.1 1279.4,1444.3 1279.9,1447.6 1280.5,1445.6 1281.0,1445.0 1281.6,1444.5 1282.2,1447.1 1282.7,1443.5 1283.3,1446.0 1283.8,1449.5 1284.4,1445.7 1284.9,1443.0 1285.5,1442.0 1286.0,1445.1 1286.6,1441.9 1287.1,1441.0 1287.7,1442.9 1288.3,1442.1 1288.8,1446.5 1289.4,1441.2 1289.9,1448.0 1290.5,1442.7 1291.0,1444.6 1291.6,1445.8 1292.1,1444.8 1292.7,1445.9 1293.2,1441.9 1293.8,1439.0 1294.4,1443.6 1294.9,1440.2 1295.5,1442.7 1296.0,1446.1 1296.6,1443.5 1297.1,1442.5 1297.7,1441.3 1298.2,1443.1 1298.8,1443.3 1299.4,1440.1 1299.9,1444.3 1300.5,1441.2 1301.0,1444.1 1301.6,1442.5 1302.1,1445.7 1302.7,1445.4 1303.2,1443.4 1303.8,1443.1 1304.3,1444.3 1304.9,1446.4 1305.5,1445.7 1306.0,1443.6 1306.6,1443.9 1307.1,1446.8 1307.7,1439.5 1308.2,1444.4 1308.8,1441.1 1309.3,1446.2 1309.9,1442.0 1310.4,1442.8 1311.0,1440.6 1311.6,1443.1 1312.1,1444.8 1312.7,1446.8 1313.2,1440.2 1313.8,1442.0 1314.3,1451.8 1314.9,1445.1 1315.4,1443.0 1316.0,1444.2 1316.5,1437.0 1317.1,1446.6 1317.7,1443.3 1318.2,1439.7 1318.8,1445.6 1319.3,1441.6 1319.9,1440.7 1320.4,1444.2 1321.0,1443.9 1321.5,1442.0 1322.1,1442.9 1322.6,1440.0 1323.2,1439.8 1323.8,1445.1 1324.3,1446.0 1324.9,1444.0 1325.4,1443.9 1326.0,1442.2 1326.5,1442.8 1327.1,1441.0 1327.6,1447.1 1328.2,1441.9 1328.7,1444.1 1329.3,1443.2 1329.9,1440.0 1330.4,1447.5 1331.0,1442.4 1331.5,1441.5 1332.1,1443.5 1332.6,1441.2 1333.2,1443.3 1333.7,1441.1 1334.3,1444.6 1334.9,1443.4 1335.4,1440.3 1336.0,1445.7 1336.5,1443.8 1337.1,1440.9 1337.6,1444.2 1338.2,1444.4 1338.7,1447.6 1339.3,1441.6 1339.8,1445.4 1340.4,1443.3 1341.0,1444.9 1341.5,1443.0 1342.1,1443.5 1342.6,1444.7 1343.2,1441.0 1343.7,1439.0 1344.3,1443.6 1344.8,1442.7 1345.4,1443.9 1345.9,1445.2 1346.5,1443.3 1347.1,1446.4 1347.6,1443.7 1348.2,1444.1 1348.7,1445.7 1349.3,1445.2 1349.8,1443.7 1350.4,1444.2 1350.9,1442.2 1351.5,1442.6 1352.0,1444.2 1352.6,1445.8 1353.2,1443.0 1353.7,1445.9 1354.3,1448.3 1354.8,1448.8 1355.4,1444.1 1355.9,1446.4 1356.5,1445.5 1357.0,1445.9 1357.6,1446.0 1358.1,1445.4 1358.7,1446.0 1359.3,1444.7 1359.8,1443.7 1360.4,1444.9 1360.9,1445.4 1361.5,1447.0 1362.0,1445.2 1362.6,1446.0 1363.1,1447.5 1363.7,1442.4 1364.2,1443.9 1364.8,1445.7 1365.4,1444.5 1365.9,1442.3 1366.5,1446.7 1367.0,1444.4 1367.6,1442.4 1368.1,1448.8 1368.7,1441.8 1369.2,1444.6 1369.8,1443.2 1370.4,1444.9 1370.9,1445.9 1371.5,1442.9 1372.0,1444.5 1372.6,1444.5 1373.1,1442.6 1373.7,1447.4 1374.2,1445.2 1374.8,1444.2 1375.3,1443.4 1375.9,1444.1 1376.5,1445.2 1377.0,1443.9 1377.6,1447.7 1378.1,1439.4 1378.7,1440.3 1379.2,1444.4 1379.8,1441.0 1380.3,1444.9 1380.9,1443.6 1381.4,1446.4 1382.0,1446.0 1382.6,1448.0 1383.1,1447.2 1383.7,1447.9 1384.2,1446.4 1384.8,1447.6 1385.3,1446.3 1385.9,1444.0 1386.4,1442.6 1387.0,1442.7 1387.5,1446.4 1388.1,1440.2 1388.7,1445.8 1389.2,1443.8 1389.8,1447.0 1390.3,1445.9 1390.9,1443.8 1391.4,1445.5 1392.0,1440.6 1392.5,1446.1 1393.1,1446.6 1393.6,1441.6 1394.2,1447.4 1394.8,1445.3 1395.3,1446.0 1395.9,1442.6 1396.4,1447.0 1397.0,1446.9 1397.5,1445.7 1398.1,1443.6 1398.6,1447.4 1399.2,1448.5 1399.7,1446.6 1400.3,1448.0 1400.9,1444.6 1401.4,1446.2 1402.0,1446.7 1402.5,1446.2 1403.1,1452.0 1403.6,1446.8 1404.2,1444.7 1404.7,1447.8 1405.3,1443.7 1405.9,1446.8 1406.4,1447.7 1407.0,1445.0 1407.5,1445.4 1408.1,1444.1 1408.6,1446.4 1409.2,1444.7 1409.7,1449.9 1410.3,1447.6 1410.8,1445.7 1411.4,1443.1 1412.0,1450.6 1412.5,1449.0 1413.1,1447.3 1413.6,1446.7 1414.2,1446.6 1414.7,1445.3 1415.3,1450.3 1415.8,1446.7 1416.4,1443.2 1416.9,1444.9 1417.5,1440.8 1418.1,1447.8 1418.6,1448.0 1419.2,1450.2 1419.7,1450.9 1420.3,1444.7 1420.8,1447.4 1421.4,1448.6 1421.9,1448.1 1422.5,1445.4 1423.0,1448.2 1423.6,1447.5 1424.2,1449.4 1424.7,1446.4 1425.3,1446.0 1425.8,1445.4 1426.4,1445.7 1426.9,1444.9 1427.5,1445.8 1428.0,1447.6 1428.6,1447.5 1429.1,1449.4 1429.7,1448.9 1430.3,1447.9 1430.8,1444.1 1431.4,1447.8 1431.9,1449.1 1432.5,1443.8 1433.0,1444.2 1433.6,1444.6 1434.1,1444.4 1434.7,1446.0 1435.3,1444.7 1435.8,1447.5 1436.4,1444.1 1436.9,1446.4 1437.5,1445.6 1438.0,1444.6 1438.6,1448.9 1439.1,1446.8 1439.7,1447.9 1440.2,1446.0 1440.8,1448.2 1441.4,1448.0 1441.9,1446.4 1442.5,1443.0 1443.0,1448.5 1443.6,1448.2 1444.1,1447.2 1444.7,1447.3 1445.2,1447.1 1445.8,1447.2 1446.3,1444.7 1446.9,1446.7 1447.5,1447.5 1448.0,1445.6 1448.6,1444.8 1449.1,1450.8 1449.7,1448.2 1450.2,1446.3 1450.8,1445.9 1451.3,1441.4 1451.9,1443.9 1452.4,1446.4 1453.0,1449.7 1453.6,1442.6 1454.1,1445.5 1454.7,1451.0 1455.2,1448.4 1455.8,1447.9 1456.3,1449.5 1456.9,1446.8 1457.4,1446.6 1458.0,1448.5 1458.5,1448.8 1459.1,1444.8 1459.7,1450.3 1460.2,1443.4 1460.8,1445.6 1461.3,1453.5 1461.9,1446.0 1462.4,1448.5 1463.0,1445.0 1463.5,1446.4 1464.1,1445.6 1464.6,1446.3 1465.2,1448.5 1465.8,1450.8 1466.3,1449.0 1466.9,1450.4 1467.4,1446.1 1468.0,1450.2 1468.5,1448.3 1469.1,1450.0 1469.6,1446.3 1470.2,1446.7 1470.8,1450.0 1471.3,1448.4 1471.9,1447.4 1472.4,1445.8 1473.0,1447.0 1473.5,1448.2 1474.1,1448.7 1474.6,1446.0 1475.2,1446.5 1475.7,1448.1 1476.3,1444.9 1476.9,1449.1 1477.4,1447.1 1478.0,1446.9 1478.5,1442.1 1479.1,1443.8 1479.6,1445.0 1480.2,1445.9 1480.7,1444.8 1481.3,1447.9 1481.8,1447.4 1482.4,1446.5 1483.0,1442.9 1483.5,1450.0 1484.1,1446.5 1484.6,1448.3 1485.2,1445.7 1485.7,1447.1 1486.3,1448.5 1486.8,1447.6 1487.4,1449.1 1487.9,1446.7 1488.5,1451.2 1489.1,1443.2 1489.6,1445.9 1490.2,1449.1 1490.7,1446.5 1491.3,1446.1 1491.8,1443.4 1492.4,1449.5 1492.9,1443.1 1493.5,1448.0 1494.0,1447.4 1494.6,1448.8 1495.2,1450.0 1495.7,1445.5 1496.3,1445.3 1496.8,1446.3 1497.4,1443.4 1497.9,1448.6 1498.5,1446.0 1499.0,1447.2 1499.6,1444.5 1500.1,1446.8 1500.7,1445.5 1501.3,1446.6 1501.8,1444.5 1502.4,1448.8 1502.9,1445.4 1503.5,1441.4 1504.0,1448.0 1504.6,1446.0 1505.1,1444.8 1505.7,1451.7 1506.3,1446.4 1506.8,1443.8 1507.4,1445.2 1507.9,1447.3 1508.5,1446.0 1509.0,1449.0 1509.6,1448.6 1510.1,1444.8 1510.7,1446.4 1511.2,1447.6 1511.8,1445.5 1512.4,1445.3 1512.9,1448.0 1513.5,1447.1 1514.0,1443.3 1514.6,1445.0 1515.1,1445.3 1515.7,1445.9 1516.2,1444.6 1516.8,1448.8 1517.3,1444.0 1517.9,1443.8 1518.5,1446.4 1519.0,1441.3 1519.6,1443.8 1520.1,1447.1 1520.7,1443.1 1521.2,1444.1 1521.8,1448.0 1522.3,1446.7 1522.9,1445.8 1523.4,1446.2 1524.0,1444.3 1524.6,1446.2 1525.1,1445.2 1525.7,1450.6 1526.2,1446.6 1526.8,1444.8 1527.3,1445.3 1527.9,1445.5 1528.4,1442.6 1529.0,1443.7 1529.5,1448.4 1530.1,1442.4 1530.7,1444.0 1531.2,1447.2 1531.8,1448.2 1532.3,1443.0 1532.9,1448.0 1533.4,1444.3 1534.0,1448.3 1534.5,1446.0 1535.1,1444.3 1535.6,1446.3 1536.2,1446.0 1536.8,1443.2 1537.3,1449.1 1537.9,1444.0 1538.4,1447.0 1539.0,1443.7 1539.5,1440.9 1540.1,1442.3 1540.6,1444.3 1541.2,1445.8 1541.8,1448.0 1542.3,1444.5 1542.9,1443.8 1543.4,1441.8 1544.0,1444.2 1544.5,1444.8 1545.1,1439.7 1545.6,1446.7 1546.2,1446.4 1546.7,1448.6 1547.3,1442.1 1547.9,1444.0 1548.4,1443.9 1549.0,1441.1 1549.5,1442.0 1550.1,1441.7 1550.6,1444.6 1551.2,1444.4 1551.7,1446.2 1552.3,1442.6 1552.8,1440.5 1553.4,1444.1 1554.0,1443.9 1554.5,1444.5 1555.1,1445.6 1555.6,1441.7 1556.2,1444.5 1556.7,1440.7 1557.3,1443.0 1557.8,1444.0 1558.4,1442.3 1558.9,1442.9 1559.5,1439.4 1560.1,1440.9 1560.6,1442.5 1561.2,1439.5 1561.7,1440.1 1562.3,1447.0 1562.8,1442.3 1563.4,1439.8 1563.9,1439.3 1564.5,1444.4 1565.0,1435.2 1565.6,1440.3 1566.2,1442.3 1566.7,1439.6 1567.3,1441.8 1567.8,1438.2 1568.4,1440.4 1568.9,1440.3 1569.5,1440.1 1570.0,1440.3 1570.6,1439.9 1571.2,1442.2 1571.7,1439.0 1572.3,1438.1 1572.8,1438.6 1573.4,1438.4 1573.9,1435.5 1574.5,1434.4 1575.0,1435.5 1575.6,1439.1 1576.1,1436.8 1576.7,1437.2 1577.3,1444.7 1577.8,1440.5 1578.4,1437.2 1578.9,1436.0 1579.5,1440.6 1580.0,1435.3 1580.6,1439.9 1581.1,1438.2 1581.7,1439.9 1582.2,1434.6 1582.8,1438.3 1583.4,1431.4 1583.9,1435.1 1584.5,1437.9 1585.0,1436.7 1585.6,1430.1 1586.1,1436.0 1586.7,1435.1 1587.2,1433.4 1587.8,1431.3 1588.3,1432.1 1588.9,1430.9 1589.5,1434.4 1590.0,1432.7 1590.6,1433.8 1591.1,1432.3 1591.7,1426.4 1592.2,1429.7 1592.8,1434.7 1593.3,1424.8 1593.9,1427.9 1594.4,1424.0 1595.0,1422.6 1595.6,1424.8 1596.1,1425.9 1596.7,1424.2 1597.2,1422.0 1597.8,1422.3 1598.3,1412.5 1598.9,1419.0 1599.4,1416.1 1600.0,1412.5 1600.5,1411.3 1601.1,1406.2 1601.7,1411.2 1602.2,1401.4 1602.8,1395.7 1603.3,1398.3 1603.9,1392.6 1604.4,1391.2 1605.0,1394.2 1605.5,1382.5 1606.1,1378.5 1606.7,1383.0 1607.2,1359.2 1607.8,1361.8 1608.3,1360.0 1608.9,1356.0 1609.4,1353.8 1610.0,1330.8 1610.5,1331.5 1611.1,1320.9 1611.6,1312.8 1612.2,1305.8 1612.8,1295.6 1613.3,1301.4 1613.9,1298.8 1614.4,1283.9 1615.0,1290.4 1615.5,1283.9 1616.1,1283.1 1616.6,1283.9 1617.2,1293.7 1617.7,1295.3 1618.3,1293.6 1618.9,1298.8 1619.4,1298.9 1620.0,1316.0 1620.5,1317.6 1621.1,1326.4 1621.6,1329.8 1622.2,1326.5 1622.7,1331.8 1623.3,1348.7 1623.8,1343.3 1624.4,1359.2 1625.0,1367.5 1625.5,1361.6 1626.1,1375.8 1626.6,1377.4 1627.2,1384.2 1627.7,1383.5 1628.3,1390.3 1628.8,1396.0 1629.4,1405.1 1629.9,1403.8 1630.5,1405.8 1631.1,1402.1 1631.6,1410.8 1632.2,1410.0 1632.7,1414.6 1633.3,1418.1 1633.8,1422.5 1634.4,1423.2 1634.9,1423.6 1635.5,1424.3 1636.0,1429.4 1636.6,1423.9 1637.2,1427.4 1637.7,1432.0 1638.3,1428.4 1638.8,1431.9 1639.4,1432.8 1639.9,1436.2 1640.5,1434.6 1641.0,1428.0 1641.6,1432.8 1642.2,1434.0 1642.7,1435.8 1643.3,1435.1 1643.8,1439.2 1644.4,1437.6 1644.9,1432.5 1645.5,1434.1 1646.0,1431.1 1646.6,1440.2 1647.1,1436.1 1647.7,1436.3 1648.3,1433.3 1648.8,1436.1 1649.4,1438.3 1649.9,1436.6 1650.5,1436.9 1651.0,1436.6 1651.6,1442.5 1652.1,1437.1 1652.7,1435.4 1653.2,1437.6 1653.8,1438.1 1654.4,1438.9 1654.9,1438.7 1655.5,1437.0 1656.0,1439.1 1656.6,1440.5 1657.1,1436.9 1657.7,1444.1 1658.2,1443.6 1658.8,1436.4 1659.3,1439.5 1659.9,1442.5 1660.5,1443.2 1661.0,1444.2 1661.6,1436.9 1662.1,1438.4 1662.7,1439.7 1663.2,1441.9 1663.8,1438.7 1664.3,1441.8 1664.9,1441.8 1665.4,1442.4 1666.0,1438.4 1666.6,1441.4 1667.1,1441.2 1667.7,1440.3 1668.2,1443.8 1668.8,1440.6 1669.3,1444.1 1669.9,1440.1 1670.4,1444.7 1671.0,1444.6 1671.5,1439.8 1672.1,1442.1 1672.7,1442.1 1673.2,1439.6 1673.8,1443.1 1674.3,1442.8 1674.9,1439.9 1675.4,1441.8 1676.0,1443.4 1676.5,1441.4 1677.1,1440.3 1677.7,1445.0 1678.2,1439.9 1678.8,1442.5 1679.3,1444.0 1679.9,1443.4 1680.4,1438.3 1681.0,1441.3 1681.5,1441.7 1682.1,1441.6 1682.6,1443.2 1683.2,1443.1 1683.8,1442.3 1684.3,1442.6 1684.9,1444.1 1685.4,1444.5 1686.0,1438.5 1686.5,1446.3 1687.1,1441.1 1687.6,1443.7 1688.2,1439.1 1688.7,1441.3 1689.3,1439.9 1689.9,1444.3 1690.4,1444.0 1691.0,1442.3 1691.5,1442.0 1692.1,1443.0 1692.6,1440.6 1693.2,1441.2 1693.7,1440.9 1694.3,1443.9 1694.8,1442.4 1695.4,1440.0 1696.0,1443.0 1696.5,1443.3 1697.1,1445.0 1697.6,1441.3 1698.2,1443.1 1698.7,1446.3 1699.3,1441.8 1699.8,1441.7 1700.4,1443.3 1700.9,1441.4 1701.5,1442.4 1702.1,1441.4 1702.6,1440.9 1703.2,1443.9 1703.7,1441.6 1704.3,1440.4 1704.8,1441.7 1705.4,1441.9 1705.9,1442.7 1706.5,1443.9 1707.0,1445.4 1707.6,1439.8 1708.2,1441.5 1708.7,1438.6 1709.3,1442.3 1709.8,1442.8 1710.4,1440.6 1710.9,1440.0 1711.5,1439.8 1712.0,1438.9 1712.6,1442.7 1713.2,1445.0 1713.7,1439.3 1714.3,1444.4 1714.8,1441.1 1715.4,1438.7 1715.9,1442.2 1716.5,1442.5 1717.0,1441.8 1717.6,1440.5 1718.1,1444.0 1718.7,1440.3 1719.3,1441.9 1719.8,1441.9 1720.4,1438.9 1720.9,1437.1 1721.5,1437.3 1722.0,1439.6 1722.6,1440.9 1723.1,1436.9 1723.7,1438.8 1724.2,1442.9 1724.8,1436.7 1725.4,1440.8 1725.9,1440.5 1726.5,1441.2 1727.0,1437.0 1727.6,1440.2 1728.1,1437.0 1728.7,1441.9 1729.2,1437.8 1729.8,1440.0 1730.3,1437.8 1730.9,1439.4 1731.5,1436.3 1732.0,1439.5 1732.6,1440.1 1733.1,1438.9 1733.7,1441.8 1734.2,1439.4 1734.8,1440.1 1735.3,1439.6 1735.9,1442.0 1736.4,1437.3 1737.0,1437.9 1737.6,1438.0 1738.1,1439.4 1738.7,1438.7 1739.2,1439.7 1739.8,1438.6 1740.3,1437.1 1740.9,1437.8 1741.4,1438.6 1742.0,1433.6 1742.6,1440.2 1743.1,1436.6 1743.7,1436.9 1744.2,1437.9 1744.8,1436.9 1745.3,1434.6 1745.9,1436.8 1746.4,1439.6 1747.0,1438.9 1747.5,1439.2 1748.1,1435.8 1748.7,1436.4 1749.2,1438.6 1749.8,1439.3 1750.3,1436.6 1750.9,1434.7 1751.4,1432.8 1752.0,1438.8 1752.5,1433.4 1753.1,1436.9 1753.6,1437.6 1754.2,1441.8 1754.8,1436.2 1755.3,1435.6 1755.9,1436.5 1756.4,1436.6 1757.0,1438.0 1757.5,1436.7 1758.1,1434.0 1758.6,1431.5 1759.2,1435.8 1759.7,1434.0 1760.3,1437.7 1760.9,1432.7 1761.4,1435.4 1762.0,1433.7 1762.5,1433.4 1763.1,1438.0 1763.6,1435.2 1764.2,1434.5 1764.7,1436.2 1765.3,1433.4 1765.8,1434.1 1766.4,1433.6 1767.0,1438.3 1767.5,1435.3 1768.1,1435.8 1768.6,1436.7 1769.2,1434.4 1769.7,1434.4 1770.3,1431.7 1770.8,1435.6 1771.4,1435.2 1771.9,1434.0 1772.5,1437.0 1773.1,1431.6 1773.6,1435.7 1774.2,1432.5 1774.7,1432.9 1775.3,1434.7 1775.8,1437.6 1776.4,1433.0 1776.9,1433.5 1777.5,1433.2 1778.1,1439.1 1778.6,1436.5 1779.2,1436.3 1779.7,1439.4 1780.3,1436.2 1780.8,1432.1 1781.4,1435.1 1781.9,1433.9 1782.5,1439.9 1783.0,1433.7 1783.6,1437.0 1784.2,1435.6 1784.7,1435.8 1785.3,1436.8 1785.8,1436.6 1786.4,1435.7 1786.9,1434.8 1787.5,1436.0 1788.0,1435.4 1788.6,1435.8 1789.1,1437.8 1789.7,1437.4 1790.3,1438.6 1790.8,1437.5 1791.4,1441.5 1791.9,1436.8 1792.5,1436.4 1793.0,1440.2 1793.6,1437.2 1794.1,1438.8 1794.7,1440.4 1795.2,1438.6 1795.8,1438.2 1796.4,1440.7 1796.9,1439.7 1797.5,1438.3 1798.0,1437.2 1798.6,1438.8 1799.1,1436.6 1799.7,1438.2 1800.2,1437.9 1800.8,1440.6 1801.3,1441.5 1801.9,1439.1 1802.5,1439.7 1803.0,1438.6 1803.6,1438.3 1804.1,1440.1 1804.7,1442.1 1805.2,1442.1 1805.8,1442.4 1806.3,1441.0 1806.9,1436.8 1807.4,1443.5 1808.0,1444.3 1808.6,1443.8 1809.1,1443.9 1809.7,1444.4 1810.2,1447.4 1810.8,1443.3 1811.3,1445.6 1811.9,1444.4 1812.4,1444.3 1813.0,1443.0 1813.6,1442.8 1814.1,1441.5 1814.7,1444.7 1815.2,1443.2 1815.8,1441.7 1816.3,1442.6 1816.9,1441.9 1817.4,1446.9 1818.0,1443.7 1818.5,1444.4 1819.1,1442.1 1819.7,1442.5 1820.2,1446.2 1820.8,1444.0 1821.3,1444.9 1821.9,1447.8 1822.4,1448.3 1823.0,1445.8 1823.5,1445.5 1824.1,1445.1 1824.6,1444.3 1825.2,1448.4 1825.8,1442.7 1826.3,1444.8 1826.9,1441.6 1827.4,1442.8 1828.0,1445.8 1828.5,1445.9 1829.1,1445.7 1829.6,1444.6 1830.2,1444.0 1830.7,1444.3 1831.3,1444.6 1831.9,1447.3 1832.4,1448.0 1833.0,1446.2 1833.5,1444.5 1834.1,1443.9 1834.6,1446.1 1835.2,1445.2 1835.7,1442.4 1836.3,1448.1 1836.8,1445.7 1837.4,1445.2 1838.0,1444.2 1838.5,1444.3 1839.1,1447.4 1839.6,1444.2 1840.2,1446.1 1840.7,1447.0 1841.3,1449.2 1841.8,1447.0 1842.4,1446.0 1842.9,1445.3 1843.5,1447.6 1844.1,1447.9 1844.6,1445.4 1845.2,1447.2 1845.7,1445.9 1846.3,1443.4 1846.8,1444.5 1847.4,1447.7 1847.9,1448.8 1848.5,1447.5 1849.1,1446.0 1849.6,1445.1 1850.2,1447.3 1850.7,1446.9 1851.3,1443.6 1851.8,1447.5 1852.4,1445.2 1852.9,1447.6 1853.5,1447.4 1854.0,1447.7 1854.6,1448.3 1855.2,1447.7 1855.7,1444.7 1856.3,1444.7 1856.8,1448.3 1857.4,1447.3 1857.9,1443.8 1858.5,1443.0 1859.0,1448.0 1859.6,1450.3 1860.1,1447.9 1860.7,1446.1 1861.3,1447.0 1861.8,1441.8 1862.4,1444.8 1862.9,1448.2 1863.5,1448.0 1864.0,1442.8 1864.6,1448.5 1865.1,1447.4 1865.7,1448.1 1866.2,1446.1 1866.8,1446.5 1867.4,1444.6 1867.9,1447.0 1868.5,1448.0 1869.0,1444.8 1869.6,1447.0 1870.1,1445.5 1870.7,1448.2 1871.2,1448.1 1871.8,1442.3 1872.3,1447.1 1872.9,1448.1 1873.5,1445.4 1874.0,1445.9 1874.6,1446.0 1875.1,1444.3 1875.7,1446.1 1876.2,1448.9 1876.8,1447.1 1877.3,1448.8 1877.9,1447.9 1878.5,1448.2 1879.0,1446.4 1879.6,1447.5 1880.1,1449.6 1880.7,1448.6 1881.2,1446.6 1881.8,1444.9 1882.3,1444.5 1882.9,1446.4 1883.4,1446.7 1884.0,1442.8 1884.6,1446.2 1885.1,1446.4 1885.7,1446.2 1886.2,1444.6 1886.8,1449.4 1887.3,1446.7 1887.9,1442.6 1888.4,1443.5 1889.0,1446.0 1889.5,1445.3 1890.1,1444.3 1890.7,1443.8 1891.2,1443.2 1891.8,1442.5 1892.3,1441.1 1892.9,1443.8 1893.4,1437.1 1894.0,1440.7 1894.5,1444.2 1895.1,1439.9 1895.6,1438.8 1896.2,1444.5 1896.8,1442.5 1897.3,1439.9 1897.9,1438.7 1898.4,1439.0 1899.0,1438.5 1899.5,1438.4 1900.1,1437.0 1900.6,1439.4 1901.2,1436.8 1901.7,1433.8 1902.3,1434.6 1902.9,1437.1 1903.4,1434.6 1904.0,1431.1 1904.5,1439.4 1905.1,1436.9 1905.6,1434.4 1906.2,1434.0 1906.7,1436.0 1907.3,1437.6 1907.8,1432.8 1908.4,1434.8 1909.0,1432.1 1909.5,1433.9 1910.1,1430.2 1910.6,1428.2 1911.2,1432.3 1911.7,1431.6 1912.3,1433.1 1912.8,1429.4 1913.4,1433.9 1914.0,1430.5 1914.5,1433.7 1915.1,1428.7 1915.6,1432.9 1916.2,1428.8 1916.7,1429.0 1917.3,1430.7 1917.8,1423.6 1918.4,1425.0 1918.9,1432.0 1919.5,1423.1 1920.1,1425.3 1920.6,1427.6 1921.2,1429.5 1921.7,1423.9 1922.3,1425.0 1922.8,1421.1 1923.4,1422.4 1923.9,1425.4 1924.5,1422.5 1925.0,1420.1 1925.6,1419.6 1926.2,1416.8 1926.7,1414.6 1927.3,1410.6 1927.8,1406.0 1928.4,1408.6 1928.9,1399.9 1929.5,1404.4 1930.0,1405.6 1930.6,1401.0 1931.1,1401.4 1931.7,1386.3 1932.3,1387.9 1932.8,1380.5 1933.4,1377.5 1933.9,1370.4 1934.5,1369.5 1935.0,1375.6 1935.6,1373.3 1936.1,1374.1 1936.7,1372.4 1937.2,1369.7 1937.8,1361.8 1938.4,1363.7 1938.9,1366.3 1939.5,1367.8 1940.0,1360.1 1940.6,1359.0 1941.1,1359.0 1941.7,1356.3 1942.2,1363.5 1942.8,1360.0 1943.3,1358.7 1943.9,1364.8 1944.5,1357.1 1945.0,1364.1 1945.6,1364.0 1946.1,1365.3 1946.7,1370.1 1947.2,1372.5 1947.8,1384.8 1948.3,1374.4 1948.9,1378.4 1949.5,1374.3 1950.0,1373.4 1950.6,1386.9 1951.1,1392.8 1951.7,1384.8 1952.2,1391.3 1952.8,1398.6 1953.3,1397.9 1953.9,1392.3 1954.4,1406.0 1955.0,1404.3 1955.6,1408.9 1956.1,1405.5 1956.7,1413.1 1957.2,1415.3 1957.8,1411.8 1958.3,1417.0 1958.9,1415.4 1959.4,1417.2 1960.0,1417.4 1960.5,1419.9 1961.1,1420.2 1961.7,1425.9 1962.2,1422.9 1962.8,1421.1 1963.3,1428.0 1963.9,1426.4 1964.4,1428.0 1965.0,1425.8 1965.5,1428.1 1966.1,1426.5 1966.6,1424.8 1967.2,1427.8 1967.8,1428.3 1968.3,1428.6 1968.9,1430.6 1969.4,1424.7 1970.0,1429.9 1970.5,1427.6 1971.1,1429.1 1971.6,1431.0 1972.2,1430.4 1972.7,1428.9 1973.3,1432.5 1973.9,1430.8 1974.4,1433.3 1975.0,1434.2 1975.5,1430.8 1976.1,1429.3 1976.6,1432.2 1977.2,1434.1 1977.7,1433.2 1978.3,1430.1 1978.8,1429.2 1979.4,1431.1 1980.0,1431.3 1980.5,1434.9 1981.1,1433.9 1981.6,1435.9 1982.2,1434.0 1982.7,1438.0 1983.3,1434.6 1983.8,1435.9 1984.4,1434.1 1985.0,1436.1 1985.5,1437.6 1986.1,1437.1 1986.6,1438.3 1987.2,1434.5 1987.7,1436.9 1988.3,1439.7 1988.8,1436.8 1989.4,1436.1 1989.9,1436.1 1990.5,1435.7 1991.1,1437.2 1991.6,1439.9 1992.2,1438.1 1992.7,1437.3 1993.3,1435.9 1993.8,1435.4 1994.4,1442.5 1994.9,1437.0 1995.5,1438.3 1996.0,1437.3 1996.6,1438.7 1997.2,1437.7 1997.7,1438.9 1998.3,1441.6 1998.8,1437.6 1999.4,1440.1 1999.9,1439.2 2000.5,1440.8 2001.0,1438.3 2001.6,1440.5 2002.1,1438.1 2002.7,1436.7 2003.3,1437.8 2003.8,1438.7 2004.4,1438.5 2004.9,1440.2 2005.5,1443.0 2006.0,1439.2 2006.6,1442.2 2007.1,1441.9 2007.7,1440.6 2008.2,1440.5 2008.8,1443.1 2009.4,1443.4 2009.9,1442.2 2010.5,1442.7 2011.0,1443.2 2011.6,1441.2 2012.1,1443.9 2012.7,1444.4 2013.2,1447.0 2013.8,1442.2 2014.4,1443.1 2014.9,1444.8 2015.5,1443.9 2016.0,1444.4 2016.6,1445.2 2017.1,1444.9 2017.7,1445.4 2018.2,1446.3 2018.8,1443.2 2019.3,1446.7 2019.9,1442.4 2020.5,1448.6 2021.0,1447.4 2021.6,1445.1 2022.1,1447.6 2022.7,1445.8 2023.2,1446.6 2023.8,1447.0 2024.3,1446.3 2024.9,1445.6 2025.4,1446.4 2026.0,1445.0 2026.6,1444.6 2027.1,1443.5 2027.7,1442.0 2028.2,1446.9 2028.8,1445.5 2029.3,1441.9 2029.9,1444.4 2030.4,1443.9 2031.0,1439.9 2031.5,1441.7 2032.1,1442.6 2032.7,1445.1 2033.2,1443.8 2033.8,1443.8 2034.3,1442.1 2034.9,1442.9 2035.4,1439.3 2036.0,1441.8 2036.5,1441.7 2037.1,1438.4 2037.6,1440.5 2038.2,1442.2 2038.8,1442.6 2039.3,1441.7 2039.9,1438.3 2040.4,1439.1 2041.0,1438.3 2041.5,1440.9 2042.1,1437.7 2042.6,1437.3 2043.2,1436.4 2043.7,1439.2 2044.3,1439.6 2044.9,1438.1 2045.4,1438.0 2046.0,1439.1 2046.5,1441.6 2047.1,1437.8 2047.6,1440.0 2048.2,1440.7 2048.7,1441.3 2049.3,1443.0 2049.9,1442.7 2050.4,1442.3 2051.0,1444.5 2051.5,1444.4 2052.1,1443.5 2052.6,1443.9 2053.2,1442.1 2053.7,1444.5 2054.3,1443.5 2054.8,1443.4 2055.4,1445.0 2056.0,1443.2 2056.5,1444.7 2057.1,1445.5 2057.6,1447.1 2058.2,1446.3 2058.7,1447.5 2059.3,1449.4 2059.8,1448.3 2060.4,1445.4 2060.9,1444.5 2061.5,1445.8 2062.1,1445.8 2062.6,1444.2 2063.2,1444.6 2063.7,1444.6 2064.3,1446.3 2064.8,1449.3 2065.4,1449.7 2065.9,1445.7 2066.5,1446.5 2067.0,1445.1 2067.6,1444.7 2068.2,1447.1 2068.7,1447.2 2069.3,1446.2 2069.8,1448.1 2070.4,1446.7 2070.9,1448.8 2071.5,1446.4 2072.0,1448.4 2072.6,1446.9 2073.1,1447.3 2073.7,1448.1 2074.3,1445.2 2074.8,1446.1 2075.4,1447.1 2075.9,1446.8 2076.5,1447.6 2077.0,1446.0 2077.6,1445.2 2078.1,1447.0 2078.7,1447.6 2079.2,1446.0 2079.8,1449.0 2080.4,1448.2 2080.9,1448.5 2081.5,1448.4 2082.0,1446.0 2082.6,1450.4 2083.1,1446.2 2083.7,1447.8 2084.2,1448.4 2084.8,1447.8 2085.4,1447.6 2085.9,1446.1 2086.5,1446.8 2087.0,1447.4 2087.6,1449.3 2088.1,1446.4 2088.7,1448.4 2089.2,1448.1 2089.8,1447.6 2090.3,1446.6 2090.9,1447.2 2091.5,1444.9 2092.0,1447.6 2092.6,1448.0 2093.1,1446.7 2093.7,1448.3 2094.2,1448.0 2094.8,1446.5 2095.3,1448.8 2095.9,1446.8 2096.4,1451.1 2097.0,1446.0 2097.6,1446.4 2098.1,1446.6 2098.7,1447.9 2099.2,1449.3 2099.8,1447.7 2100.3,1447.0 2100.9,1450.3 2101.4,1449.1 2102.0,1447.2 2102.5,1447.4 2103.1,1445.3 2103.7,1447.6 2104.2,1450.1 2104.8,1445.9 2105.3,1445.5 2105.9,1447.8 2106.4,1444.1 2107.0,1449.6 2107.5,1445.4 2108.1,1446.5 2108.6,1447.3 2109.2,1449.3 2109.8,1448.1 2110.3,1444.8 2110.9,1445.1 2111.4,1447.8 2112.0,1444.5 2112.5,1447.1 2113.1,1446.3 2113.6,1448.7 2114.2,1449.3 2114.7,1443.9 2115.3,1448.1 2115.9,1448.4 2116.4,1446.4 2117.0,1446.7 2117.5,1445.8 2118.1,1447.0 2118.6,1448.1 2119.2,1449.5 2119.7,1449.6 2120.3,1447.1 2120.9,1446.3 2121.4,1449.0 2122.0,1443.6 2122.5,1445.5 2123.1,1448.5 2123.6,1450.8 2124.2,1446.4 2124.7,1447.7 2125.3,1446.0 2125.8,1447.5 2126.4,1447.5 2127.0,1446.5 2127.5,1448.2 2128.1,1447.4 2128.6,1448.4 2129.2,1447.4 2129.7,1446.0 2130.3,1447.9 2130.8,1449.0 2131.4,1446.6 2131.9,1449.7 2132.5,1448.4 2133.1,1447.3 2133.6,1447.9 2134.2,1447.2 2134.7,1446.6 2135.3,1449.2 2135.8,1449.2 2136.4,1447.3 2136.9,1447.7 2137.5,1447.7 2138.0,1449.0 2138.6,1450.1 2139.2,1447.1 2139.7,1448.5 2140.3,1448.0 2140.8,1448.9 2141.4,1450.2 2141.9,1446.9 2142.5,1445.2 2143.0,1447.9 2143.6,1445.9 2144.1,1450.6 2144.7,1447.2 2145.3,1447.9 2145.8,1448.6 2146.4,1448.6 2146.9,1447.7 2147.5,1448.4 2148.0,1449.7 2148.6,1448.0 2149.1,1451.1 2149.7,1449.0 2150.2,1445.1 2150.8,1449.8 2151.4,1446.0 2151.9,1449.0 2152.5,1451.8 2153.0,1450.1 2153.6,1447.0 2154.1,1447.5 2154.7,1448.7 2155.2,1450.7 2155.8,1447.6 2156.4,1450.3 2156.9,1449.2 2157.5,1448.6 2158.0,1448.5 2158.6,1451.1 2159.1,1446.7 2159.7,1447.2 2160.2,1450.1 2160.8,1450.2 2161.3,1447.0 2161.9,1447.6 2162.5,1447.3 2163.0,1449.7 2163.6,1448.0 2164.1,1450.9 2164.7,1450.0 2165.2,1449.3 2165.8,1449.2 2166.3,1449.7 2166.9,1450.2 2167.4,1449.0 2168.0,1449.4 2168.6,1450.1 2169.1,1448.9 2169.7,1450.4 2170.2,1448.8 2170.8,1448.0 2171.3,1449.3 2171.9,1451.4 2172.4,1451.2 2173.0,1446.8 2173.5,1449.5 2174.1,1448.4 2174.7,1448.6 2175.2,1448.6 2175.8,1448.8 2176.3,1448.3 2176.9,1448.7 2177.4,1449.4 2178.0,1447.4 2178.5,1447.4 2179.1,1447.5 2179.6,1447.5 2180.2,1449.9 2180.8,1447.6 2181.3,1449.0 2181.9,1449.2 2182.4,1450.1 2183.0,1449.2 2183.5,1450.6 2184.1,1449.0 2184.6,1449.5 2185.2,1450.2 2185.8,1447.1 2186.3,1449.7 2186.9,1451.3 2187.4,1449.3 2188.0,1448.8 2188.5,1451.8 2189.1,1449.3 2189.6,1450.9 2190.2,1445.9 2190.7,1449.3 2191.3,1448.5 2191.9,1449.7 2192.4,1450.8 2193.0,1449.0 2193.5,1448.9 2194.1,1445.3 2194.6,1450.3 2195.2,1451.0 2195.7,1449.4 2196.3,1448.6 2196.8,1449.7 2197.4,1450.6 2198.0,1450.1 2198.5,1452.1 2199.1,1448.5 2199.6,1447.4 2200.2,1449.9 2200.7,1451.0 2201.3,1448.6 2201.8,1449.3 2202.4,1448.4 2202.9,1447.5 2203.5,1448.2 2204.1,1446.4 2204.6,1449.6 2205.2,1449.9 2205.7,1450.5 2206.3,1448.1 2206.8,1448.4 2207.4,1447.0 2207.9,1447.3 2208.5,1450.5 2209.0,1453.1 2209.6,1447.8 2210.2,1448.7 2210.7,1450.6 2211.3,1448.3 2211.8,1450.1 2212.4,1448.9 2212.9,1448.9 2213.5,1450.5 2214.0,1448.9 2214.6,1447.6 2215.1,1450.4 2215.7,1449.3 2216.3,1448.5 2216.8,1448.2 2217.4,1450.1 2217.9,1448.3 2218.5,1449.5 2219.0,1450.7 2219.6,1449.2 2220.1,1450.8 2220.7,1447.4 2221.3,1450.2 2221.8,1450.1 2222.4,1451.9 2222.9,1449.4 2223.5,1450.6 2224.0,1449.1 2224.6,1447.9 2225.1,1448.2 2225.7,1448.4 2226.2,1450.4 2226.8,1448.3 2227.4,1449.4 2227.9,1450.6 2228.5,1451.1 2229.0,1450.7 2229.6,1451.4 2230.1,1447.9 2230.7,1448.7 2231.2,1449.8 2231.8,1450.9 2232.3,1450.1 2232.9,1448.4 2233.5,1449.2 2234.0,1447.2 2234.6,1450.5 2235.1,1447.0 2235.7,1449.7 2236.2,1450.9 2236.8,1450.7 2237.3,1447.3 2237.9,1449.7 2238.4,1449.0 2239.0,1449.1 2239.6,1451.7 2240.1,1449.9 2240.7,1447.6 2241.2,1448.0 2241.8,1450.4 2242.3,1449.8 2242.9,1448.0 2243.4,1447.3 2244.0,1448.8 2244.5,1448.9 2245.1,1450.6 2245.7,1448.7 2246.2,1450.4 2246.8,1451.2 2247.3,1447.4 2247.9,1448.8 2248.4,1451.6 2249.0,1449.0 2249.5,1449.5 2250.1,1450.9 2250.6,1448.6 2251.2,1449.0 2251.8,1447.4 2252.3,1450.3 2252.9,1448.9 2253.4,1449.1 2254.0,1446.2 2254.5,1450.9 2255.1,1450.5 2255.6,1448.6 2256.2,1451.3 2256.8,1446.4 2257.3,1449.5 2257.9,1447.4 2258.4,1453.3 2259.0,1446.2 2259.5,1448.0 2260.1,1448.7 2260.6,1450.7 2261.2,1450.8 2261.7,1450.2 2262.3,1449.4 2262.9,1452.6 2263.4,1448.8 2264.0,1450.1 2264.5,1452.1 2265.1,1448.1 2265.6,1448.7 2266.2,1451.2 2266.7,1450.4 2267.3,1448.0 2267.8,1449.8 2268.4,1452.4 2269.0,1449.5 2269.5,1450.9 2270.1,1450.0 2270.6,1448.9 2271.2,1452.0 2271.7,1451.1 2272.3,1451.5 2272.8,1449.7 2273.4,1450.0 2273.9,1450.2 2274.5,1450.5 2275.1,1449.5 2275.6,1449.3 2276.2,1451.7 2276.7,1448.5 2277.3,1449.4 2277.8,1449.5 2278.4,1449.3 2278.9,1448.4 2279.5,1449.0 2280.0,1451.1 2280.6,1449.6 2281.2,1449.1 2281.7,1452.3 2282.3,1448.3 2282.8,1451.4 2283.4,1450.6 2283.9,1448.3 2284.5,1449.6 2285.0,1449.6 2285.6,1451.8 2286.1,1451.4 2286.7,1449.8 2287.3,1448.6 2287.8,1448.0 2288.4,1450.0 2288.9,1448.4 2289.5,1450.0 2290.0,1450.0 2290.6,1450.7 2291.1,1451.6 2291.7,1450.4 2292.3,1450.9 2292.8,1450.1 2293.4,1451.7 2293.9,1451.4 2294.5,1452.4 2295.0,1452.2 2295.6,1449.4 2296.1,1448.5 2296.7,1451.2 2297.2,1451.9 2297.8,1449.5 2298.4,1452.4 2298.9,1450.6 2299.5,1450.4 2300.0,1450.9 2300.6,1448.7 2301.1,1448.4 2301.7,1450.1 2302.2,1449.0 2302.8,1450.5 2303.3,1450.5 2303.9,1447.2" fill="none" stroke="#940084" stroke-width="4.4" stroke-linejoin="round" stroke-linecap="round"/>
<path d="M223.8,1110.1 224.4,1107.5 224.9,1108.0 225.5,1100.6 226.0,1116.2 226.6,1113.9 227.1,1108.6 227.7,1112.7 228.2,1110.9 228.8,1107.9 229.3,1113.6 229.9,1108.9 230.5,1108.9 231.0,1107.3 231.6,1112.0 232.1,1110.0 232.7,1112.4 233.2,1108.3 233.8,1111.0 234.3,1107.3 234.9,1113.8 235.4,1111.4 236.0,1112.0 236.6,1112.4 237.1,1107.2 237.7,1113.9 238.2,1118.6 238.8,1105.1 239.3,1104.9 239.9,1105.8 240.4,1114.4 241.0,1111.9 241.6,1115.4 242.1,1114.2 242.7,1112.4 243.2,1112.7 243.8,1111.1 244.3,1115.0 244.9,1107.7 245.4,1110.4 246.0,1112.9 246.5,1118.6 247.1,1109.3 247.7,1108.2 248.2,1110.2 248.8,1115.9 249.3,1111.5 249.9,1117.3 250.4,1105.7 251.0,1116.7 251.5,1116.4 252.1,1107.5 252.6,1113.3 253.2,1117.3 253.8,1113.2 254.3,1116.6 254.9,1121.7 255.4,1114.1 256.0,1112.2 256.5,1110.4 257.1,1115.7 257.6,1112.7 258.2,1112.8 258.7,1113.2 259.3,1116.0 259.9,1109.8 260.4,1108.2 261.0,1105.0 261.5,1118.3 262.1,1114.2 262.6,1119.5 263.2,1114.1 263.7,1111.5 264.3,1116.0 264.8,1114.1 265.4,1109.9 266.0,1111.3 266.5,1121.0 267.1,1116.0 267.6,1116.3 268.2,1113.8 268.7,1112.4 269.3,1118.2 269.8,1114.7 270.4,1112.4 270.9,1114.7 271.5,1112.0 272.1,1116.1 272.6,1119.6 273.2,1112.5 273.7,1120.8 274.3,1113.3 274.8,1116.3 275.4,1112.8 275.9,1115.1 276.5,1116.2 277.1,1114.5 277.6,1113.6 278.2,1113.8 278.7,1113.3 279.3,1110.7 279.8,1115.5 280.4,1117.9 280.9,1119.8 281.5,1119.0 282.0,1125.6 282.6,1117.9 283.2,1115.2 283.7,1123.6 284.3,1113.1 284.8,1120.5 285.4,1113.6 285.9,1118.4 286.5,1110.0 287.0,1120.5 287.6,1116.7 288.1,1113.8 288.7,1123.4 289.3,1120.2 289.8,1117.6 290.4,1114.8 290.9,1117.4 291.5,1117.0 292.0,1120.2 292.6,1120.5 293.1,1115.3 293.7,1115.7 294.2,1115.8 294.8,1112.9 295.4,1115.7 295.9,1117.5 296.5,1120.4 297.0,1122.7 297.6,1115.0 298.1,1120.0 298.7,1116.4 299.2,1125.5 299.8,1117.9 300.3,1119.9 300.9,1114.8 301.5,1115.3 302.0,1118.9 302.6,1116.9 303.1,1119.6 303.7,1112.7 304.2,1120.7 304.8,1115.1 305.3,1124.6 305.9,1117.4 306.4,1122.4 307.0,1113.5 307.6,1120.1 308.1,1115.4 308.7,1116.9 309.2,1118.7 309.8,1117.5 310.3,1119.6 310.9,1121.4 311.4,1121.1 312.0,1118.5 312.6,1113.9 313.1,1116.0 313.7,1118.2 314.2,1111.3 314.8,1121.6 315.3,1118.1 315.9,1118.1 316.4,1122.4 317.0,1121.5 317.5,1119.9 318.1,1115.5 318.7,1120.3 319.2,1120.4 319.8,1116.0 320.3,1123.0 320.9,1121.1 321.4,1112.2 322.0,1119.7 322.5,1114.8 323.1,1123.4 323.6,1122.3 324.2,1115.5 324.8,1116.3 325.3,1119.8 325.9,1118.6 326.4,1125.0 327.0,1122.2 327.5,1118.6 328.1,1121.7 328.6,1112.3 329.2,1120.7 329.7,1122.8 330.3,1119.0 330.9,1117.2 331.4,1121.8 332.0,1126.8 332.5,1120.5 333.1,1115.8 333.6,1125.0 334.2,1113.1 334.7,1121.7 335.3,1117.8 335.8,1123.2 336.4,1116.9 337.0,1124.7 337.5,1121.0 338.1,1113.8 338.6,1113.0 339.2,1118.9 339.7,1124.7 340.3,1120.5 340.8,1120.3 341.4,1119.3 341.9,1122.7 342.5,1121.5 343.1,1121.1 343.6,1116.7 344.2,1124.4 344.7,1125.0 345.3,1115.6 345.8,1128.4 346.4,1122.8 346.9,1118.5 347.5,1113.5 348.1,1122.6 348.6,1122.3 349.2,1118.2 349.7,1113.9 350.3,1124.3 350.8,1118.2 351.4,1118.7 351.9,1130.5 352.5,1127.9 353.0,1123.8 353.6,1118.8 354.2,1122.7 354.7,1112.3 355.3,1120.8 355.8,1117.7 356.4,1115.9 356.9,1114.8 357.5,1122.3 358.0,1120.8 358.6,1121.0 359.1,1123.5 359.7,1117.5 360.3,1116.1 360.8,1114.2 361.4,1119.3 361.9,1123.2 362.5,1120.0 363.0,1122.8 363.6,1116.3 364.1,1118.8 364.7,1117.8 365.2,1116.1 365.8,1127.1 366.4,1123.5 366.9,1117.8 367.5,1117.8 368.0,1120.3 368.6,1115.4 369.1,1122.0 369.7,1115.9 370.2,1119.2 370.8,1116.9 371.3,1118.8 371.9,1115.8 372.5,1114.9 373.0,1117.0 373.6,1118.0 374.1,1119.4 374.7,1120.7 375.2,1125.8 375.8,1123.3 376.3,1119.5 376.9,1123.0 377.5,1117.9 378.0,1125.5 378.6,1122.3 379.1,1115.6 379.7,1123.0 380.2,1123.2 380.8,1110.8 381.3,1117.7 381.9,1118.6 382.4,1113.5 383.0,1116.5 383.6,1116.9 384.1,1122.0 384.7,1121.3 385.2,1129.4 385.8,1118.8 386.3,1124.2 386.9,1120.4 387.4,1121.1 388.0,1116.0 388.5,1113.3 389.1,1117.4 389.7,1122.7 390.2,1125.6 390.8,1122.1 391.3,1121.7 391.9,1117.0 392.4,1125.3 393.0,1124.6 393.5,1118.0 394.1,1119.7 394.6,1116.4 395.2,1125.0 395.8,1121.2 396.3,1119.5 396.9,1121.2 397.4,1121.3 398.0,1118.3 398.5,1115.3 399.1,1115.2 399.6,1113.5 400.2,1121.3 400.7,1127.4 401.3,1113.6 401.9,1120.0 402.4,1121.0 403.0,1116.1 403.5,1120.2 404.1,1115.6 404.6,1123.6 405.2,1117.3 405.7,1119.7 406.3,1121.8 406.8,1117.8 407.4,1113.0 408.0,1117.4 408.5,1121.9 409.1,1118.9 409.6,1120.0 410.2,1115.4 410.7,1119.7 411.3,1121.7 411.8,1119.2 412.4,1125.8 413.0,1118.3 413.5,1115.4 414.1,1113.4 414.6,1123.0 415.2,1118.8 415.7,1122.5 416.3,1120.5 416.8,1124.6 417.4,1123.3 417.9,1117.5 418.5,1119.8 419.1,1122.6 419.6,1114.4 420.2,1123.8 420.7,1122.9 421.3,1122.1 421.8,1118.0 422.4,1119.7 422.9,1114.7 423.5,1118.8 424.0,1116.5 424.6,1118.8 425.2,1116.8 425.7,1119.5 426.3,1122.6 426.8,1113.9 427.4,1121.6 427.9,1111.4 428.5,1110.8 429.0,1117.9 429.6,1118.3 430.1,1119.8 430.7,1112.5 431.3,1118.0 431.8,1118.6 432.4,1122.5 432.9,1117.7 433.5,1119.9 434.0,1114.6 434.6,1117.3 435.1,1116.4 435.7,1120.4 436.2,1114.4 436.8,1114.9 437.4,1119.8 437.9,1124.0 438.5,1119.1 439.0,1118.8 439.6,1116.5 440.1,1121.4 440.7,1119.5 441.2,1123.6 441.8,1118.7 442.3,1114.2 442.9,1115.5 443.5,1114.0 444.0,1113.0 444.6,1121.7 445.1,1120.1 445.7,1113.0 446.2,1123.4 446.8,1118.0 447.3,1113.8 447.9,1118.4 448.5,1116.8 449.0,1114.4 449.6,1110.3 450.1,1117.1 450.7,1117.9 451.2,1107.9 451.8,1118.8 452.3,1118.9 452.9,1115.1 453.4,1117.1 454.0,1115.7 454.6,1113.7 455.1,1115.3 455.7,1121.2 456.2,1111.5 456.8,1117.3 457.3,1117.1 457.9,1113.9 458.4,1114.8 459.0,1111.5 459.5,1113.3 460.1,1116.3 460.7,1117.3 461.2,1113.0 461.8,1126.7 462.3,1114.1 462.9,1116.5 463.4,1115.2 464.0,1114.5 464.5,1120.4 465.1,1114.2 465.6,1120.4 466.2,1119.7 466.8,1112.1 467.3,1119.3 467.9,1113.4 468.4,1125.0 469.0,1114.2 469.5,1112.3 470.1,1108.9 470.6,1111.0 471.2,1113.4 471.7,1111.9 472.3,1111.1 472.9,1112.9 473.4,1114.5 474.0,1120.2 474.5,1109.3 475.1,1113.2 475.6,1111.8 476.2,1109.8 476.7,1110.6 477.3,1111.8 477.8,1117.4 478.4,1114.2 479.0,1113.0 479.5,1116.9 480.1,1115.7 480.6,1113.9 481.2,1116.0 481.7,1111.8 482.3,1116.7 482.8,1116.1 483.4,1113.1 484.0,1110.2 484.5,1119.6 485.1,1114.7 485.6,1124.8 486.2,1112.0 486.7,1117.1 487.3,1112.7 487.8,1115.0 488.4,1116.9 488.9,1111.3 489.5,1113.6 490.1,1114.5 490.6,1114.3 491.2,1115.9 491.7,1117.3 492.3,1116.6 492.8,1114.6 493.4,1112.5 493.9,1109.7 494.5,1111.0 495.0,1111.7 495.6,1115.8 496.2,1112.2 496.7,1109.1 497.3,1115.5 497.8,1110.5 498.4,1110.6 498.9,1112.4 499.5,1114.8 500.0,1104.8 500.6,1109.2 501.1,1113.6 501.7,1111.7 502.3,1109.9 502.8,1111.0 503.4,1117.5 503.9,1111.2 504.5,1115.2 505.0,1115.4 505.6,1111.1 506.1,1114.1 506.7,1111.0 507.2,1110.4 507.8,1108.6 508.4,1115.4 508.9,1111.0 509.5,1110.4 510.0,1108.4 510.6,1118.4 511.1,1114.7 511.7,1111.7 512.2,1109.7 512.8,1106.8 513.3,1113.0 513.9,1112.9 514.5,1107.1 515.0,1115.8 515.6,1114.4 516.1,1108.5 516.7,1109.8 517.2,1110.2 517.8,1112.2 518.3,1111.1 518.9,1105.9 519.5,1116.5 520.0,1112.5 520.6,1115.7 521.1,1115.6 521.7,1110.6 522.2,1112.4 522.8,1113.7 523.3,1113.8 523.9,1110.6 524.4,1109.0 525.0,1111.2 525.6,1108.3 526.1,1109.1 526.7,1104.1 527.2,1111.2 527.8,1107.4 528.3,1108.9 528.9,1110.6 529.4,1111.8 530.0,1117.1 530.5,1111.4 531.1,1105.8 531.7,1111.1 532.2,1108.6 532.8,1111.9 533.3,1108.2 533.9,1108.1 534.4,1108.7 535.0,1108.3 535.5,1104.2 536.1,1108.0 536.6,1110.2 537.2,1114.3 537.8,1109.2 538.3,1108.9 538.9,1112.1 539.4,1111.9 540.0,1115.5 540.5,1112.0 541.1,1109.9 541.6,1114.4 542.2,1115.1 542.7,1108.2 543.3,1110.3 543.9,1104.1 544.4,1108.5 545.0,1106.7 545.5,1108.9 546.1,1108.0 546.6,1109.0 547.2,1109.2 547.7,1111.1 548.3,1110.2 548.9,1107.5 549.4,1105.0 550.0,1113.5 550.5,1114.1 551.1,1107.7 551.6,1111.1 552.2,1104.0 552.7,1103.8 553.3,1108.2 553.8,1114.0 554.4,1105.5 555.0,1106.1 555.5,1114.3 556.1,1102.5 556.6,1111.0 557.2,1110.4 557.7,1108.1 558.3,1109.4 558.8,1117.5 559.4,1104.9 559.9,1107.6 560.5,1107.8 561.1,1106.2 561.6,1104.0 562.2,1113.8 562.7,1109.2 563.3,1102.5 563.8,1106.0 564.4,1109.7 564.9,1109.7 565.5,1103.4 566.0,1107.9 566.6,1109.1 567.2,1109.5 567.7,1109.5 568.3,1102.0 568.8,1114.3 569.4,1108.8 569.9,1114.1 570.5,1117.6 571.0,1107.5 571.6,1103.8 572.1,1110.8 572.7,1107.3 573.3,1106.4 573.8,1104.4 574.4,1113.5 574.9,1106.4 575.5,1103.1 576.0,1106.3 576.6,1103.9 577.1,1108.3 577.7,1106.3 578.2,1104.2 578.8,1109.7 579.4,1105.5 579.9,1110.1 580.5,1111.9 581.0,1106.4 581.6,1105.5 582.1,1108.3 582.7,1110.6 583.2,1107.6 583.8,1108.1 584.4,1107.5 584.9,1108.6 585.5,1109.7 586.0,1105.2 586.6,1106.0 587.1,1107.7 587.7,1105.4 588.2,1108.1 588.8,1109.4 589.3,1107.5 589.9,1105.6 590.5,1105.0 591.0,1113.5 591.6,1110.5 592.1,1103.9 592.7,1104.8 593.2,1113.9 593.8,1112.7 594.3,1108.1 594.9,1111.5 595.4,1102.7 596.0,1107.7 596.6,1110.1 597.1,1101.5 597.7,1105.1 598.2,1110.3 598.8,1111.5 599.3,1105.7 599.9,1108.7 600.4,1113.0 601.0,1106.5 601.5,1103.3 602.1,1107.5 602.7,1106.4 603.2,1112.1 603.8,1108.3 604.3,1105.1 604.9,1115.8 605.4,1106.1 606.0,1109.4 606.5,1110.1 607.1,1110.5 607.6,1108.4 608.2,1109.8 608.8,1107.7 609.3,1103.2 609.9,1107.2 610.4,1107.3 611.0,1107.3 611.5,1108.4 612.1,1105.9 612.6,1112.4 613.2,1113.2 613.7,1100.7 614.3,1108.1 614.9,1105.7 615.4,1099.4 616.0,1109.4 616.5,1106.0 617.1,1106.9 617.6,1106.0 618.2,1111.7 618.7,1112.3 619.3,1109.1 619.9,1110.5 620.4,1107.8 621.0,1108.7 621.5,1105.8 622.1,1108.4 622.6,1105.9 623.2,1109.5 623.7,1111.0 624.3,1109.3 624.8,1112.2 625.4,1117.2 626.0,1101.4 626.5,1108.4 627.1,1106.5 627.6,1106.9 628.2,1104.0 628.7,1108.6 629.3,1107.6 629.8,1106.4 630.4,1107.7 630.9,1106.6 631.5,1100.9 632.1,1112.2 632.6,1107.7 633.2,1105.5 633.7,1109.7 634.3,1106.6 634.8,1101.6 635.4,1111.7 635.9,1103.3 636.5,1108.2 637.0,1109.3 637.6,1113.4 638.2,1112.9 638.7,1109.6 639.3,1106.5 639.8,1107.7 640.4,1112.7 640.9,1115.1 641.5,1111.0 642.0,1107.1 642.6,1112.7 643.1,1108.1 643.7,1108.0 644.3,1108.5 644.8,1111.4 645.4,1110.4 645.9,1112.8 646.5,1113.9 647.0,1111.3 647.6,1102.0 648.1,1104.2 648.7,1110.3 649.2,1109.6 649.8,1117.0 650.4,1109.8 650.9,1109.5 651.5,1113.1 652.0,1113.6 652.6,1109.4 653.1,1111.7 653.7,1106.5 654.2,1107.2 654.8,1114.4 655.4,1105.8 655.9,1113.5 656.5,1112.7 657.0,1113.1 657.6,1113.6 658.1,1112.5 658.7,1103.7 659.2,1107.5 659.8,1108.9 660.3,1113.9 660.9,1107.3 661.5,1108.7 662.0,1109.9 662.6,1115.4 663.1,1106.5 663.7,1106.8 664.2,1113.4 664.8,1104.4 665.3,1112.5 665.9,1110.0 666.4,1106.4 667.0,1110.3 667.6,1108.4 668.1,1112.3 668.7,1113.0 669.2,1116.7 669.8,1111.9 670.3,1112.3 670.9,1110.2 671.4,1112.1 672.0,1115.6 672.5,1106.0 673.1,1114.5 673.7,1110.7 674.2,1112.7 674.8,1113.6 675.3,1115.4 675.9,1113.5 676.4,1111.5 677.0,1113.8 677.5,1112.9 678.1,1112.3 678.6,1113.7 679.2,1115.9 679.8,1113.6 680.3,1113.7 680.9,1109.1 681.4,1113.0 682.0,1107.4 682.5,1115.9 683.1,1110.6 683.6,1117.9 684.2,1123.6 684.8,1112.6 685.3,1118.3 685.9,1115.4 686.4,1112.4 687.0,1111.6 687.5,1116.2 688.1,1119.1 688.6,1115.8 689.2,1109.8 689.7,1111.5 690.3,1114.2 690.9,1119.5 691.4,1116.1 692.0,1116.4 692.5,1119.4 693.1,1114.9 693.6,1115.4 694.2,1115.2 694.7,1110.2 695.3,1117.6 695.8,1117.5 696.4,1119.5 697.0,1112.6 697.5,1113.9 698.1,1119.7 698.6,1117.9 699.2,1121.4 699.7,1114.3 700.3,1117.8 700.8,1115.1 701.4,1118.4 701.9,1116.0 702.5,1119.4 703.1,1121.3 703.6,1120.1 704.2,1112.2 704.7,1121.2 705.3,1119.8 705.8,1115.1 706.4,1115.7 706.9,1118.7 707.5,1120.7 708.0,1117.5 708.6,1113.8 709.2,1120.1 709.7,1119.8 710.3,1127.3 710.8,1115.4 711.4,1127.8 711.9,1125.4 712.5,1120.8 713.0,1125.3 713.6,1120.4 714.1,1123.3 714.7,1117.9 715.3,1120.6 715.8,1117.2 716.4,1115.5 716.9,1119.8 717.5,1118.6 718.0,1122.7 718.6,1125.0 719.1,1120.5 719.7,1121.3 720.3,1121.8 720.8,1115.9 721.4,1122.3 721.9,1121.5 722.5,1121.5 723.0,1118.2 723.6,1115.4 724.1,1121.1 724.7,1123.0 725.2,1126.4 725.8,1125.8 726.4,1126.9 726.9,1123.5 727.5,1126.1 728.0,1121.9 728.6,1124.6 729.1,1125.7 729.7,1131.4 730.2,1123.7 730.8,1118.9 731.3,1127.5 731.9,1120.6 732.5,1123.0 733.0,1122.4 733.6,1120.5 734.1,1127.8 734.7,1125.5 735.2,1121.7 735.8,1124.0 736.3,1122.4 736.9,1125.9 737.4,1122.8 738.0,1121.6 738.6,1122.1 739.1,1122.8 739.7,1125.3 740.2,1121.5 740.8,1124.2 741.3,1126.0 741.9,1132.1 742.4,1127.4 743.0,1115.3 743.5,1123.2 744.1,1123.7 744.7,1126.0 745.2,1130.1 745.8,1127.5 746.3,1117.9 746.9,1126.3 747.4,1125.7 748.0,1126.7 748.5,1129.8 749.1,1122.1 749.6,1129.1 750.2,1120.4 750.8,1125.9 751.3,1127.0 751.9,1133.2 752.4,1123.7 753.0,1120.6 753.5,1128.2 754.1,1124.0 754.6,1131.1 755.2,1124.0 755.8,1123.5 756.3,1130.3 756.9,1126.7 757.4,1129.7 758.0,1122.0 758.5,1131.8 759.1,1124.8 759.6,1129.3 760.2,1123.6 760.7,1121.9 761.3,1126.1 761.9,1127.5 762.4,1132.0 763.0,1128.2 763.5,1129.4 764.1,1129.3 764.6,1137.1 765.2,1124.7 765.7,1131.4 766.3,1127.0 766.8,1128.3 767.4,1125.8 768.0,1131.3 768.5,1123.7 769.1,1123.6 769.6,1127.1 770.2,1124.2 770.7,1130.1 771.3,1130.9 771.8,1125.6 772.4,1130.5 772.9,1126.0 773.5,1128.0 774.1,1128.2 774.6,1134.2 775.2,1128.3 775.7,1125.5 776.3,1125.5 776.8,1132.2 777.4,1123.2 777.9,1127.0 778.5,1127.4 779.0,1120.9 779.6,1127.2 780.2,1131.8 780.7,1129.4 781.3,1125.9 781.8,1130.9 782.4,1130.4 782.9,1135.2 783.5,1126.5 784.0,1127.7 784.6,1129.0 785.1,1128.5 785.7,1129.2 786.3,1128.6 786.8,1126.8 787.4,1123.9 787.9,1127.2 788.5,1124.6 789.0,1125.7 789.6,1127.3 790.1,1130.6 790.7,1131.7 791.3,1125.7 791.8,1129.9 792.4,1131.5 792.9,1128.8 793.5,1123.8 794.0,1122.2 794.6,1131.4 795.1,1131.8 795.7,1129.8 796.2,1125.6 796.8,1133.4 797.4,1132.7 797.9,1128.7 798.5,1128.2 799.0,1122.7 799.6,1131.2 800.1,1123.8 800.7,1130.9 801.2,1131.1 801.8,1129.1 802.3,1133.7 802.9,1127.7 803.5,1130.6 804.0,1131.2 804.6,1129.5 805.1,1127.4 805.7,1132.5 806.2,1130.0 806.8,1128.0 807.3,1128.1 807.9,1129.0 808.4,1135.7 809.0,1128.9 809.6,1127.8 810.1,1125.2 810.7,1124.7 811.2,1122.6 811.8,1129.2 812.3,1128.5 812.9,1125.2 813.4,1123.8 814.0,1127.4 814.5,1126.7 815.1,1124.2 815.7,1129.3 816.2,1128.7 816.8,1128.1 817.3,1130.6 817.9,1126.2 818.4,1132.4 819.0,1125.0 819.5,1129.7 820.1,1130.1 820.7,1127.3 821.2,1129.2 821.8,1124.0 822.3,1123.3 822.9,1127.4 823.4,1125.7 824.0,1129.8 824.5,1128.0 825.1,1129.8 825.6,1128.8 826.2,1128.5 826.8,1128.1 827.3,1126.6 827.9,1126.3 828.4,1134.0 829.0,1122.2 829.5,1127.1 830.1,1130.7 830.6,1128.9 831.2,1131.9 831.7,1129.2 832.3,1123.6 832.9,1126.4 833.4,1123.1 834.0,1130.4 834.5,1131.8 835.1,1125.9 835.6,1128.9 836.2,1125.9 836.7,1122.7 837.3,1125.7 837.8,1122.1 838.4,1125.2 839.0,1127.5 839.5,1129.1 840.1,1130.8 840.6,1125.7 841.2,1127.4 841.7,1127.9 842.3,1128.2 842.8,1117.6 843.4,1123.9 843.9,1128.7 844.5,1122.7 845.1,1126.8 845.6,1128.6 846.2,1120.0 846.7,1125.2 847.3,1126.4 847.8,1125.6 848.4,1120.8 848.9,1126.4 849.5,1123.5 850.0,1127.7 850.6,1126.3 851.2,1123.1 851.7,1125.1 852.3,1122.1 852.8,1121.7 853.4,1118.5 853.9,1122.4 854.5,1125.4 855.0,1122.7 855.6,1121.8 856.2,1119.2 856.7,1119.1 857.3,1123.0 857.8,1114.6 858.4,1126.8 858.9,1118.5 859.5,1126.2 860.0,1121.9 860.6,1115.1 861.1,1118.8 861.7,1116.1 862.3,1116.0 862.8,1116.5 863.4,1109.8 863.9,1108.4 864.5,1108.0 865.0,1102.4 865.6,1105.8 866.1,1106.5 866.7,1104.8 867.2,1102.7 867.8,1097.6 868.4,1101.5 868.9,1084.1 869.5,1090.4 870.0,1088.0 870.6,1092.3 871.1,1088.0 871.7,1085.4 872.2,1076.3 872.8,1077.7 873.3,1059.2 873.9,1061.0 874.5,1038.9 875.0,1061.7 875.6,1055.0 876.1,1031.0 876.7,1020.5 877.2,999.7 877.8,994.6 878.3,1000.9 878.9,990.7 879.4,987.8 880.0,987.0 880.6,987.8 881.1,992.1 881.7,996.8 882.2,990.8 882.8,997.6 883.3,1000.3 883.9,987.8 884.4,1009.8 885.0,1011.0 885.5,1022.0 886.1,1003.1 886.7,1030.2 887.2,1022.7 887.8,1034.6 888.3,1046.3 888.9,1028.3 889.4,1032.7 890.0,1053.0 890.5,1038.4 891.1,1041.7 891.7,1055.2 892.2,1050.7 892.8,1059.5 893.3,1057.3 893.9,1056.1 894.4,1064.6 895.0,1074.2 895.5,1058.7 896.1,1070.7 896.6,1068.9 897.2,1062.2 897.8,1065.2 898.3,1056.0 898.9,1058.8 899.4,1065.5 900.0,1063.8 900.5,1073.5 901.1,1056.0 901.6,1063.2 902.2,1061.1 902.7,1064.7 903.3,1073.8 903.9,1057.7 904.4,1071.7 905.0,1061.8 905.5,1063.5 906.1,1072.4 906.6,1063.5 907.2,1069.8 907.7,1065.8 908.3,1063.7 908.8,1062.1 909.4,1052.5 910.0,1059.0 910.5,1065.0 911.1,1064.9 911.6,1052.9 912.2,1069.7 912.7,1066.3 913.3,1052.7 913.8,1053.9 914.4,1064.1 914.9,1047.4 915.5,1053.8 916.1,1057.7 916.6,1055.9 917.2,1054.8 917.7,1056.2 918.3,1045.2 918.8,1045.1 919.4,1061.9 919.9,1032.5 920.5,1036.9 921.0,1038.3 921.6,1028.9 922.2,1040.7 922.7,1027.0 923.3,1028.3 923.8,993.7 924.4,1021.9 924.9,1015.9 925.5,992.1 926.0,1005.3 926.6,988.2 927.2,987.0 927.7,987.8 928.3,960.7 928.8,938.5 929.4,938.9 929.9,912.9 930.5,905.2 931.0,891.3 931.6,877.3 932.1,887.3 932.7,868.4 933.3,829.8 933.8,843.8 934.4,792.0 934.9,795.1 935.5,791.4 936.0,802.0 936.6,779.0 937.1,785.1 937.7,804.4 938.2,807.1 938.8,830.6 939.4,814.6 939.9,817.2 940.5,852.7 941.0,887.5 941.6,897.0 942.1,918.0 942.7,927.7 943.2,936.3 943.8,949.8 944.3,942.7 944.9,971.6 945.5,959.0 946.0,977.2 946.6,973.1 947.1,999.8 947.7,988.2 948.2,1022.2 948.8,1004.8 949.3,1025.6 949.9,1028.7 950.4,1028.8 951.0,1050.8 951.6,1042.1 952.1,1059.6 952.7,1044.0 953.2,1048.4 953.8,1042.5 954.3,1062.8 954.9,1067.3 955.4,1064.3 956.0,1063.4 956.5,1059.8 957.1,1082.9 957.7,1073.4 958.2,1057.6 958.8,1068.6 959.3,1054.9 959.9,1082.6 960.4,1085.9 961.0,1083.5 961.5,1074.7 962.1,1072.1 962.7,1067.8 963.2,1080.2 963.8,1072.9 964.3,1075.6 964.9,1074.3 965.4,1076.6 966.0,1084.2 966.5,1089.2 967.1,1080.2 967.6,1079.6 968.2,1073.1 968.8,1072.7 969.3,1073.9 969.9,1085.7 970.4,1082.1 971.0,1086.5 971.5,1083.5 972.1,1078.7 972.6,1073.9 973.2,1079.2 973.7,1073.1 974.3,1093.3 974.9,1083.2 975.4,1079.5 976.0,1093.4 976.5,1079.5 977.1,1085.0 977.6,1080.7 978.2,1083.7 978.7,1079.4 979.3,1084.4 979.8,1089.7 980.4,1073.8 981.0,1068.0 981.5,1088.9 982.1,1081.7 982.6,1085.7 983.2,1078.6 983.7,1089.3 984.3,1090.8 984.8,1072.7 985.4,1083.5 985.9,1075.6 986.5,1069.3 987.1,1076.9 987.6,1081.9 988.2,1069.9 988.7,1070.1 989.3,1085.0 989.8,1077.3 990.4,1079.1 990.9,1069.2 991.5,1071.6 992.1,1075.8 992.6,1075.7 993.2,1074.8 993.7,1083.3 994.3,1073.8 994.8,1064.9 995.4,1066.0 995.9,1070.6 996.5,1078.7 997.0,1065.6 997.6,1067.1 998.2,1069.0 998.7,1064.9 999.3,1064.9 999.8,1066.3 1000.4,1073.9 1000.9,1070.1 1001.5,1064.9 1002.0,1069.0 1002.6,1064.9 1003.1,1064.1 1003.7,1070.9 1004.3,1068.2 1004.8,1064.9 1005.4,1080.3 1005.9,1064.9 1006.5,1064.9 1007.0,1064.9 1007.6,1074.6 1008.1,1064.9 1008.7,1073.7 1009.2,1072.3 1009.8,1072.6 1010.4,1080.7 1010.9,1085.1 1011.5,1079.9 1012.0,1076.9 1012.6,1066.2 1013.1,1089.4 1013.7,1080.3 1014.2,1072.8 1014.8,1085.6 1015.3,1094.1 1015.9,1086.8 1016.5,1082.7 1017.0,1102.3 1017.6,1095.0 1018.1,1094.9 1018.7,1099.6 1019.2,1084.9 1019.8,1096.5 1020.3,1097.1 1020.9,1109.7 1021.4,1097.1 1022.0,1098.1 1022.6,1095.2 1023.1,1098.7 1023.7,1102.3 1024.2,1105.2 1024.8,1103.9 1025.3,1114.2 1025.9,1108.4 1026.4,1109.6 1027.0,1113.3 1027.6,1110.9 1028.1,1106.7 1028.7,1103.2 1029.2,1111.4 1029.8,1107.2 1030.3,1116.1 1030.9,1108.4 1031.4,1103.3 1032.0,1112.4 1032.5,1116.7 1033.1,1112.3 1033.7,1114.1 1034.2,1114.4 1034.8,1120.5 1035.3,1115.6 1035.9,1114.7 1036.4,1113.0 1037.0,1109.7 1037.5,1120.7 1038.1,1120.0 1038.6,1112.9 1039.2,1118.6 1039.8,1117.8 1040.3,1115.6 1040.9,1116.0 1041.4,1119.8 1042.0,1113.4 1042.5,1115.9 1043.1,1117.6 1043.6,1118.0 1044.2,1117.5 1044.7,1119.1 1045.3,1120.3 1045.9,1115.9 1046.4,1119.2 1047.0,1117.4 1047.5,1124.0 1048.1,1115.0 1048.6,1118.8 1049.2,1121.9 1049.7,1119.0 1050.3,1119.0 1050.8,1118.5 1051.4,1121.3 1052.0,1116.9 1052.5,1120.3 1053.1,1120.4 1053.6,1116.4 1054.2,1121.7 1054.7,1119.6 1055.3,1122.0 1055.8,1123.7 1056.4,1122.3 1056.9,1117.9 1057.5,1122.3 1058.1,1116.8 1058.6,1119.3 1059.2,1126.4 1059.7,1121.6 1060.3,1126.1 1060.8,1121.1 1061.4,1121.6 1061.9,1118.4 1062.5,1124.3 1063.1,1121.0 1063.6,1123.4 1064.2,1122.8 1064.7,1123.1 1065.3,1122.5 1065.8,1121.4 1066.4,1121.5 1066.9,1119.5 1067.5,1115.4 1068.0,1122.9 1068.6,1127.4 1069.2,1124.5 1069.7,1128.1 1070.3,1122.8 1070.8,1118.6 1071.4,1118.5 1071.9,1123.4 1072.5,1122.2 1073.0,1120.7 1073.6,1123.3 1074.1,1118.6 1074.7,1122.6 1075.3,1120.3 1075.8,1121.5 1076.4,1124.4 1076.9,1120.5 1077.5,1124.8 1078.0,1124.6 1078.6,1118.6 1079.1,1127.4 1079.7,1117.1 1080.2,1120.3 1080.8,1122.7 1081.4,1114.0 1081.9,1123.4 1082.5,1123.6 1083.0,1119.9 1083.6,1120.9 1084.1,1120.7 1084.7,1119.3 1085.2,1122.9 1085.8,1118.6 1086.3,1119.4 1086.9,1120.4 1087.5,1121.6 1088.0,1122.2 1088.6,1114.5 1089.1,1112.5 1089.7,1117.5 1090.2,1117.1 1090.8,1113.6 1091.3,1117.0 1091.9,1117.4 1092.4,1116.3 1093.0,1119.6 1093.6,1111.9 1094.1,1114.9 1094.7,1120.6 1095.2,1117.3 1095.8,1112.5 1096.3,1116.7 1096.9,1120.0 1097.4,1123.1 1098.0,1119.7 1098.6,1121.7 1099.1,1115.8 1099.7,1118.8 1100.2,1123.5 1100.8,1117.9 1101.3,1120.8 1101.9,1116.1 1102.4,1125.9 1103.0,1121.4 1103.5,1123.5 1104.1,1117.7 1104.7,1118.3 1105.2,1127.3 1105.8,1121.3 1106.3,1120.8 1106.9,1123.9 1107.4,1124.0 1108.0,1117.0 1108.5,1119.8 1109.1,1122.8 1109.6,1122.8 1110.2,1123.8 1110.8,1121.6 1111.3,1122.1 1111.9,1123.6 1112.4,1121.1 1113.0,1120.7 1113.5,1121.6 1114.1,1123.2 1114.6,1122.8 1115.2,1121.9 1115.7,1122.6 1116.3,1123.2 1116.9,1124.2 1117.4,1124.4 1118.0,1119.8 1118.5,1126.2 1119.1,1119.0 1119.6,1125.0 1120.2,1121.5 1120.7,1125.2 1121.3,1126.6 1121.8,1118.3 1122.4,1125.3 1123.0,1124.4 1123.5,1122.4 1124.1,1124.8 1124.6,1122.4 1125.2,1124.1 1125.7,1120.9 1126.3,1126.1 1126.8,1125.5 1127.4,1126.0 1128.0,1122.1 1128.5,1129.1 1129.1,1129.5 1129.6,1123.8 1130.2,1122.9 1130.7,1123.0 1131.3,1126.1 1131.8,1127.1 1132.4,1122.2 1132.9,1118.7 1133.5,1125.6 1134.1,1124.3 1134.6,1124.9 1135.2,1125.9 1135.7,1121.4 1136.3,1124.7 1136.8,1123.7 1137.4,1125.7 1137.9,1128.0 1138.5,1124.7 1139.0,1122.3 1139.6,1128.2 1140.2,1126.7 1140.7,1124.2 1141.3,1119.8 1141.8,1122.4 1142.4,1125.3 1142.9,1126.5 1143.5,1123.5 1144.0,1126.2 1144.6,1123.3 1145.1,1123.9 1145.7,1126.6 1146.3,1124.4 1146.8,1125.5 1147.4,1127.6 1147.9,1128.3 1148.5,1123.6 1149.0,1124.6 1149.6,1121.7 1150.1,1121.8 1150.7,1126.2 1151.2,1124.0 1151.8,1120.3 1152.4,1126.9 1152.9,1123.2 1153.5,1124.7 1154.0,1126.7 1154.6,1126.7 1155.1,1125.5 1155.7,1120.2 1156.2,1127.3 1156.8,1124.1 1157.3,1121.9 1157.9,1119.8 1158.5,1129.5 1159.0,1126.3 1159.6,1126.2 1160.1,1127.6 1160.7,1125.8 1161.2,1122.0 1161.8,1127.9 1162.3,1128.9 1162.9,1127.6 1163.5,1130.4 1164.0,1131.4 1164.6,1124.1 1165.1,1125.1 1165.7,1128.8 1166.2,1126.9 1166.8,1127.0 1167.3,1129.0 1167.9,1128.5 1168.4,1125.3 1169.0,1126.9 1169.6,1124.7 1170.1,1126.1 1170.7,1123.7 1171.2,1121.4 1171.8,1125.4 1172.3,1125.2 1172.9,1129.3 1173.4,1131.1 1174.0,1127.0 1174.5,1128.2 1175.1,1125.3 1175.7,1124.5 1176.2,1126.3 1176.8,1126.3 1177.3,1128.0 1177.9,1127.5 1178.4,1131.7 1179.0,1126.7 1179.5,1122.9 1180.1,1127.7 1180.6,1125.6 1181.2,1128.0 1181.8,1130.5 1182.3,1125.8 1182.9,1127.3 1183.4,1129.0 1184.0,1125.1 1184.5,1128.2 1185.1,1129.2 1185.6,1129.9 1186.2,1130.7 1186.7,1129.3 1187.3,1128.9 1187.9,1124.2 1188.4,1120.7 1189.0,1125.4 1189.5,1131.8 1190.1,1128.4 1190.6,1122.0 1191.2,1127.0 1191.7,1129.1 1192.3,1123.3 1192.8,1129.8 1193.4,1125.2 1194.0,1131.1 1194.5,1128.5 1195.1,1136.7 1195.6,1124.9 1196.2,1129.3 1196.7,1124.6 1197.3,1131.7 1197.8,1129.0 1198.4,1131.1 1199.0,1129.0 1199.5,1125.6 1200.1,1127.0 1200.6,1125.5 1201.2,1126.1 1201.7,1129.3 1202.3,1131.8 1202.8,1131.3 1203.4,1130.4 1203.9,1127.6 1204.5,1130.5 1205.1,1126.9 1205.6,1129.8 1206.2,1131.5 1206.7,1128.8 1207.3,1128.1 1207.8,1128.3 1208.4,1131.1 1208.9,1128.7 1209.5,1125.8 1210.0,1128.5 1210.6,1126.8 1211.2,1133.7 1211.7,1129.8 1212.3,1125.9 1212.8,1130.6 1213.4,1131.8 1213.9,1131.0 1214.5,1129.1 1215.0,1130.5 1215.6,1130.9 1216.1,1132.9 1216.7,1131.2 1217.3,1136.3 1217.8,1129.8 1218.4,1134.5 1218.9,1130.5 1219.5,1126.1 1220.0,1127.5 1220.6,1125.9 1221.1,1126.2 1221.7,1133.9 1222.2,1129.1 1222.8,1132.5 1223.4,1128.6 1223.9,1131.0 1224.5,1128.3 1225.0,1133.4 1225.6,1130.5 1226.1,1130.0 1226.7,1130.8 1227.2,1137.0 1227.8,1132.5 1228.3,1133.6 1228.9,1128.2 1229.5,1129.8 1230.0,1132.3 1230.6,1126.7 1231.1,1135.1 1231.7,1132.4 1232.2,1131.7 1232.8,1131.2 1233.3,1131.2 1233.9,1130.5 1234.5,1135.5 1235.0,1133.7 1235.6,1135.2 1236.1,1131.2 1236.7,1129.7 1237.2,1135.6 1237.8,1128.9 1238.3,1130.5 1238.9,1134.0 1239.4,1135.0 1240.0,1128.8 1240.6,1131.5 1241.1,1132.3 1241.7,1131.9 1242.2,1130.0 1242.8,1134.1 1243.3,1131.0 1243.9,1131.7 1244.4,1126.5 1245.0,1132.1 1245.5,1127.3 1246.1,1134.2 1246.7,1133.7 1247.2,1131.1 1247.8,1132.8 1248.3,1132.7 1248.9,1132.0 1249.4,1133.3 1250.0,1132.1 1250.5,1131.2 1251.1,1130.3 1251.6,1136.7 1252.2,1132.9 1252.8,1132.3 1253.3,1134.3 1253.9,1131.4 1254.4,1131.4 1255.0,1134.1 1255.5,1135.0 1256.1,1134.1 1256.6,1128.6 1257.2,1132.5 1257.7,1132.3 1258.3,1133.6 1258.9,1130.1 1259.4,1129.7 1260.0,1132.1 1260.5,1130.1 1261.1,1129.6 1261.6,1132.2 1262.2,1134.8 1262.7,1132.7 1263.3,1135.2 1263.8,1129.8 1264.4,1134.2 1265.0,1132.3 1265.5,1130.1 1266.1,1131.3 1266.6,1130.2 1267.2,1131.8 1267.7,1130.5 1268.3,1135.6 1268.8,1131.5 1269.4,1128.7 1270.0,1131.9 1270.5,1133.4 1271.1,1131.6 1271.6,1134.6 1272.2,1130.1 1272.7,1130.2 1273.3,1136.5 1273.8,1132.4 1274.4,1133.8 1274.9,1133.6 1275.5,1133.8 1276.1,1132.5 1276.6,1131.9 1277.2,1135.1 1277.7,1131.1 1278.3,1132.7 1278.8,1134.1 1279.4,1131.4 1279.9,1128.5 1280.5,1133.5 1281.0,1135.1 1281.6,1133.0 1282.2,1128.2 1282.7,1134.0 1283.3,1137.3 1283.8,1128.5 1284.4,1125.6 1284.9,1131.8 1285.5,1132.6 1286.0,1134.4 1286.6,1134.4 1287.1,1132.6 1287.7,1133.8 1288.3,1133.2 1288.8,1132.7 1289.4,1132.3 1289.9,1132.0 1290.5,1134.2 1291.0,1133.4 1291.6,1131.3 1292.1,1135.1 1292.7,1130.6 1293.2,1131.8 1293.8,1132.7 1294.4,1127.7 1294.9,1131.5 1295.5,1134.5 1296.0,1134.4 1296.6,1129.4 1297.1,1130.3 1297.7,1129.7 1298.2,1131.8 1298.8,1132.2 1299.4,1128.4 1299.9,1133.2 1300.5,1132.6 1301.0,1132.2 1301.6,1130.7 1302.1,1131.9 1302.7,1128.0 1303.2,1132.9 1303.8,1132.9 1304.3,1132.1 1304.9,1129.5 1305.5,1135.5 1306.0,1135.1 1306.6,1127.7 1307.1,1133.4 1307.7,1132.7 1308.2,1126.0 1308.8,1133.6 1309.3,1133.9 1309.9,1134.1 1310.4,1132.7 1311.0,1130.7 1311.6,1131.1 1312.1,1133.6 1312.7,1135.2 1313.2,1131.1 1313.8,1131.6 1314.3,1134.0 1314.9,1127.0 1315.4,1133.4 1316.0,1131.7 1316.5,1126.9 1317.1,1134.1 1317.7,1130.0 1318.2,1134.2 1318.8,1135.6 1319.3,1129.2 1319.9,1129.3 1320.4,1132.2 1321.0,1127.9 1321.5,1134.0 1322.1,1132.7 1322.6,1134.6 1323.2,1127.7 1323.8,1132.7 1324.3,1133.3 1324.9,1127.8 1325.4,1134.4 1326.0,1128.8 1326.5,1132.6 1327.1,1129.0 1327.6,1134.1 1328.2,1136.3 1328.7,1132.3 1329.3,1132.2 1329.9,1135.3 1330.4,1131.1 1331.0,1132.3 1331.5,1134.2 1332.1,1133.2 1332.6,1136.0 1333.2,1135.1 1333.7,1136.9 1334.3,1132.1 1334.9,1134.9 1335.4,1130.2 1336.0,1134.4 1336.5,1136.5 1337.1,1137.9 1337.6,1129.2 1338.2,1131.8 1338.7,1134.0 1339.3,1130.1 1339.8,1133.6 1340.4,1133.6 1341.0,1131.1 1341.5,1130.9 1342.1,1130.0 1342.6,1133.0 1343.2,1135.3 1343.7,1132.9 1344.3,1139.0 1344.8,1128.7 1345.4,1130.8 1345.9,1133.9 1346.5,1129.5 1347.1,1133.1 1347.6,1134.2 1348.2,1132.7 1348.7,1131.7 1349.3,1134.5 1349.8,1133.2 1350.4,1134.0 1350.9,1133.6 1351.5,1130.6 1352.0,1129.6 1352.6,1131.3 1353.2,1132.7 1353.7,1131.8 1354.3,1134.5 1354.8,1132.9 1355.4,1134.6 1355.9,1132.6 1356.5,1130.5 1357.0,1134.3 1357.6,1133.5 1358.1,1130.3 1358.7,1131.3 1359.3,1139.1 1359.8,1124.2 1360.4,1135.1 1360.9,1132.5 1361.5,1132.2 1362.0,1131.6 1362.6,1131.1 1363.1,1138.1 1363.7,1131.3 1364.2,1131.7 1364.8,1134.3 1365.4,1133.3 1365.9,1132.0 1366.5,1131.7 1367.0,1129.2 1367.6,1135.1 1368.1,1129.9 1368.7,1126.6 1369.2,1135.0 1369.8,1134.3 1370.4,1133.4 1370.9,1131.3 1371.5,1135.4 1372.0,1130.0 1372.6,1127.3 1373.1,1133.0 1373.7,1134.6 1374.2,1134.1 1374.8,1137.7 1375.3,1134.7 1375.9,1132.1 1376.5,1132.3 1377.0,1134.9 1377.6,1132.6 1378.1,1132.4 1378.7,1128.5 1379.2,1132.1 1379.8,1129.7 1380.3,1133.4 1380.9,1133.2 1381.4,1134.6 1382.0,1137.2 1382.6,1132.5 1383.1,1136.4 1383.7,1130.2 1384.2,1133.4 1384.8,1135.3 1385.3,1137.7 1385.9,1130.4 1386.4,1132.5 1387.0,1133.4 1387.5,1132.9 1388.1,1130.8 1388.7,1129.2 1389.2,1130.2 1389.8,1133.0 1390.3,1130.0 1390.9,1137.5 1391.4,1136.2 1392.0,1128.7 1392.5,1132.1 1393.1,1136.5 1393.6,1136.8 1394.2,1136.0 1394.8,1129.9 1395.3,1132.5 1395.9,1136.5 1396.4,1133.6 1397.0,1132.3 1397.5,1134.6 1398.1,1135.8 1398.6,1133.8 1399.2,1134.1 1399.7,1136.1 1400.3,1132.1 1400.9,1131.3 1401.4,1135.4 1402.0,1130.7 1402.5,1134.7 1403.1,1131.8 1403.6,1135.6 1404.2,1130.7 1404.7,1136.3 1405.3,1134.3 1405.9,1132.9 1406.4,1131.5 1407.0,1133.2 1407.5,1131.4 1408.1,1130.7 1408.6,1136.2 1409.2,1135.0 1409.7,1136.6 1410.3,1130.4 1410.8,1129.0 1411.4,1129.8 1412.0,1135.2 1412.5,1135.5 1413.1,1129.2 1413.6,1136.1 1414.2,1132.6 1414.7,1130.8 1415.3,1133.4 1415.8,1135.0 1416.4,1133.1 1416.9,1133.2 1417.5,1131.6 1418.1,1130.2 1418.6,1132.7 1419.2,1129.7 1419.7,1135.0 1420.3,1131.6 1420.8,1136.7 1421.4,1129.8 1421.9,1136.9 1422.5,1131.5 1423.0,1131.5 1423.6,1134.3 1424.2,1135.7 1424.7,1133.5 1425.3,1132.7 1425.8,1138.3 1426.4,1134.8 1426.9,1130.7 1427.5,1132.9 1428.0,1137.6 1428.6,1134.3 1429.1,1135.5 1429.7,1138.4 1430.3,1132.1 1430.8,1134.4 1431.4,1132.0 1431.9,1133.5 1432.5,1134.8 1433.0,1130.4 1433.6,1133.9 1434.1,1133.9 1434.7,1136.0 1435.3,1132.1 1435.8,1130.5 1436.4,1134.5 1436.9,1130.9 1437.5,1133.9 1438.0,1134.8 1438.6,1131.4 1439.1,1133.2 1439.7,1131.1 1440.2,1126.8 1440.8,1130.1 1441.4,1128.6 1441.9,1133.5 1442.5,1131.0 1443.0,1133.1 1443.6,1133.3 1444.1,1135.9 1444.7,1132.6 1445.2,1132.5 1445.8,1134.6 1446.3,1137.2 1446.9,1133.2 1447.5,1134.2 1448.0,1133.0 1448.6,1131.8 1449.1,1129.8 1449.7,1133.2 1450.2,1132.8 1450.8,1132.8 1451.3,1138.0 1451.9,1132.6 1452.4,1134.2 1453.0,1132.6 1453.6,1136.1 1454.1,1132.7 1454.7,1137.7 1455.2,1132.8 1455.8,1135.2 1456.3,1135.7 1456.9,1132.8 1457.4,1135.3 1458.0,1133.5 1458.5,1131.6 1459.1,1131.8 1459.7,1134.1 1460.2,1137.5 1460.8,1132.2 1461.3,1134.6 1461.9,1131.4 1462.4,1133.9 1463.0,1130.3 1463.5,1131.5 1464.1,1133.3 1464.6,1131.5 1465.2,1132.7 1465.8,1135.6 1466.3,1133.0 1466.9,1131.6 1467.4,1130.4 1468.0,1132.0 1468.5,1135.9 1469.1,1133.1 1469.6,1132.9 1470.2,1134.9 1470.8,1135.2 1471.3,1135.5 1471.9,1132.4 1472.4,1131.1 1473.0,1129.4 1473.5,1131.6 1474.1,1132.3 1474.6,1134.9 1475.2,1133.9 1475.7,1131.9 1476.3,1135.2 1476.9,1130.3 1477.4,1130.7 1478.0,1130.4 1478.5,1130.6 1479.1,1132.5 1479.6,1131.2 1480.2,1131.4 1480.7,1136.2 1481.3,1129.7 1481.8,1130.7 1482.4,1132.5 1483.0,1134.1 1483.5,1134.2 1484.1,1132.5 1484.6,1132.2 1485.2,1132.4 1485.7,1134.8 1486.3,1130.9 1486.8,1127.7 1487.4,1133.5 1487.9,1130.3 1488.5,1132.9 1489.1,1136.2 1489.6,1133.2 1490.2,1137.2 1490.7,1129.4 1491.3,1133.5 1491.8,1133.9 1492.4,1134.8 1492.9,1131.3 1493.5,1133.3 1494.0,1133.2 1494.6,1133.1 1495.2,1129.8 1495.7,1129.0 1496.3,1134.1 1496.8,1133.7 1497.4,1133.0 1497.9,1134.3 1498.5,1135.3 1499.0,1130.2 1499.6,1134.6 1500.1,1136.2 1500.7,1135.1 1501.3,1134.2 1501.8,1134.4 1502.4,1129.5 1502.9,1131.7 1503.5,1135.1 1504.0,1136.1 1504.6,1133.8 1505.1,1131.7 1505.7,1132.4 1506.3,1134.7 1506.8,1137.3 1507.4,1134.5 1507.9,1131.5 1508.5,1134.1 1509.0,1133.7 1509.6,1138.1 1510.1,1134.0 1510.7,1132.7 1511.2,1132.5 1511.8,1129.9 1512.4,1130.2 1512.9,1131.5 1513.5,1130.8 1514.0,1133.0 1514.6,1132.8 1515.1,1134.7 1515.7,1135.9 1516.2,1132.9 1516.8,1132.0 1517.3,1128.3 1517.9,1133.3 1518.5,1133.9 1519.0,1130.7 1519.6,1131.5 1520.1,1130.8 1520.7,1134.7 1521.2,1133.7 1521.8,1135.0 1522.3,1129.6 1522.9,1138.2 1523.4,1130.3 1524.0,1129.9 1524.6,1132.6 1525.1,1131.0 1525.7,1136.2 1526.2,1131.2 1526.8,1130.6 1527.3,1134.3 1527.9,1134.8 1528.4,1130.2 1529.0,1131.0 1529.5,1131.2 1530.1,1131.6 1530.7,1135.8 1531.2,1134.7 1531.8,1134.3 1532.3,1134.7 1532.9,1131.9 1533.4,1133.8 1534.0,1131.6 1534.5,1130.1 1535.1,1135.5 1535.6,1127.8 1536.2,1131.7 1536.8,1130.4 1537.3,1128.0 1537.9,1130.8 1538.4,1131.7 1539.0,1132.6 1539.5,1129.7 1540.1,1133.2 1540.6,1132.2 1541.2,1133.2 1541.8,1127.2 1542.3,1130.4 1542.9,1130.0 1543.4,1132.6 1544.0,1129.7 1544.5,1130.1 1545.1,1128.7 1545.6,1128.6 1546.2,1129.1 1546.7,1133.3 1547.3,1128.8 1547.9,1125.7 1548.4,1131.7 1549.0,1130.0 1549.5,1132.2 1550.1,1132.1 1550.6,1130.3 1551.2,1130.0 1551.7,1129.7 1552.3,1130.8 1552.8,1129.1 1553.4,1131.2 1554.0,1133.8 1554.5,1129.3 1555.1,1129.3 1555.6,1129.3 1556.2,1132.0 1556.7,1132.0 1557.3,1133.7 1557.8,1132.1 1558.4,1130.8 1558.9,1131.5 1559.5,1127.6 1560.1,1131.7 1560.6,1130.8 1561.2,1134.9 1561.7,1133.4 1562.3,1128.5 1562.8,1129.0 1563.4,1132.2 1563.9,1125.6 1564.5,1128.1 1565.0,1130.9 1565.6,1131.5 1566.2,1130.4 1566.7,1132.6 1567.3,1129.3 1567.8,1130.1 1568.4,1129.4 1568.9,1127.4 1569.5,1129.8 1570.0,1128.4 1570.6,1129.8 1571.2,1123.7 1571.7,1129.7 1572.3,1128.2 1572.8,1128.0 1573.4,1129.4 1573.9,1128.2 1574.5,1131.2 1575.0,1131.9 1575.6,1131.0 1576.1,1131.1 1576.7,1129.6 1577.3,1128.8 1577.8,1125.7 1578.4,1127.7 1578.9,1131.2 1579.5,1130.1 1580.0,1127.1 1580.6,1128.3 1581.1,1130.4 1581.7,1127.3 1582.2,1131.3 1582.8,1125.3 1583.4,1128.8 1583.9,1128.2 1584.5,1126.6 1585.0,1126.6 1585.6,1126.8 1586.1,1119.3 1586.7,1125.7 1587.2,1127.0 1587.8,1124.7 1588.3,1126.1 1588.9,1119.4 1589.5,1121.9 1590.0,1122.3 1590.6,1120.0 1591.1,1123.3 1591.7,1120.5 1592.2,1116.6 1592.8,1119.5 1593.3,1118.5 1593.9,1113.5 1594.4,1115.7 1595.0,1113.7 1595.6,1112.3 1596.1,1105.6 1596.7,1112.8 1597.2,1109.3 1597.8,1105.3 1598.3,1105.0 1598.9,1103.2 1599.4,1098.9 1600.0,1095.8 1600.5,1096.3 1601.1,1091.2 1601.7,1089.1 1602.2,1083.6 1602.8,1084.5 1603.3,1087.1 1603.9,1080.0 1604.4,1075.4 1605.0,1069.5 1605.5,1064.5 1606.1,1054.1 1606.7,1065.6 1607.2,1047.6 1607.8,1036.9 1608.3,1040.2 1608.9,1031.2 1609.4,1018.1 1610.0,1004.0 1610.5,997.4 1611.1,1011.4 1611.6,994.2 1612.2,984.5 1612.8,996.8 1613.3,974.2 1613.9,966.8 1614.4,974.0 1615.0,970.3 1615.5,965.6 1616.1,966.4 1616.6,971.6 1617.2,966.4 1617.7,980.9 1618.3,978.1 1618.9,985.2 1619.4,989.1 1620.0,1005.4 1620.5,1015.5 1621.1,1009.3 1621.6,1013.8 1622.2,1018.0 1622.7,1030.2 1623.3,1026.8 1623.8,1059.2 1624.4,1043.0 1625.0,1058.8 1625.5,1055.0 1626.1,1051.9 1626.6,1055.8 1627.2,1066.1 1627.7,1069.2 1628.3,1075.6 1628.8,1075.4 1629.4,1094.3 1629.9,1096.3 1630.5,1082.7 1631.1,1094.9 1631.6,1100.3 1632.2,1096.9 1632.7,1099.8 1633.3,1106.8 1633.8,1106.9 1634.4,1102.8 1634.9,1112.8 1635.5,1108.7 1636.0,1117.5 1636.6,1109.7 1637.2,1106.8 1637.7,1115.3 1638.3,1119.6 1638.8,1118.5 1639.4,1118.4 1639.9,1116.3 1640.5,1122.2 1641.0,1115.4 1641.6,1123.3 1642.2,1118.6 1642.7,1120.7 1643.3,1119.4 1643.8,1120.8 1644.4,1127.2 1644.9,1120.7 1645.5,1124.4 1646.0,1122.2 1646.6,1126.9 1647.1,1121.3 1647.7,1124.8 1648.3,1127.2 1648.8,1130.7 1649.4,1122.6 1649.9,1123.5 1650.5,1125.7 1651.0,1129.4 1651.6,1123.7 1652.1,1128.2 1652.7,1125.0 1653.2,1124.2 1653.8,1123.0 1654.4,1127.1 1654.9,1129.2 1655.5,1126.8 1656.0,1122.4 1656.6,1126.0 1657.1,1129.6 1657.7,1129.4 1658.2,1128.2 1658.8,1131.0 1659.3,1124.9 1659.9,1125.1 1660.5,1133.2 1661.0,1129.4 1661.6,1127.5 1662.1,1127.0 1662.7,1122.4 1663.2,1130.0 1663.8,1123.6 1664.3,1123.9 1664.9,1128.1 1665.4,1131.5 1666.0,1127.4 1666.6,1129.1 1667.1,1127.4 1667.7,1129.2 1668.2,1124.8 1668.8,1133.0 1669.3,1126.4 1669.9,1129.7 1670.4,1124.1 1671.0,1132.4 1671.5,1129.5 1672.1,1132.9 1672.7,1127.2 1673.2,1130.9 1673.8,1128.3 1674.3,1128.7 1674.9,1131.6 1675.4,1126.9 1676.0,1130.4 1676.5,1133.0 1677.1,1132.6 1677.7,1131.2 1678.2,1129.6 1678.8,1126.9 1679.3,1132.0 1679.9,1127.6 1680.4,1131.6 1681.0,1128.4 1681.5,1129.1 1682.1,1129.1 1682.6,1130.4 1683.2,1128.2 1683.8,1129.5 1684.3,1128.1 1684.9,1130.3 1685.4,1129.8 1686.0,1130.1 1686.5,1127.5 1687.1,1129.9 1687.6,1129.4 1688.2,1130.5 1688.7,1129.4 1689.3,1127.3 1689.9,1130.8 1690.4,1127.9 1691.0,1129.9 1691.5,1125.1 1692.1,1130.4 1692.6,1130.7 1693.2,1127.5 1693.7,1130.6 1694.3,1128.6 1694.8,1132.2 1695.4,1130.7 1696.0,1126.8 1696.5,1129.0 1697.1,1125.8 1697.6,1128.7 1698.2,1130.5 1698.7,1131.1 1699.3,1129.2 1699.8,1128.9 1700.4,1129.7 1700.9,1128.2 1701.5,1130.0 1702.1,1131.6 1702.6,1129.7 1703.2,1131.0 1703.7,1127.7 1704.3,1128.2 1704.8,1129.9 1705.4,1133.3 1705.9,1131.2 1706.5,1132.5 1707.0,1129.1 1707.6,1131.5 1708.2,1125.5 1708.7,1129.9 1709.3,1124.6 1709.8,1131.2 1710.4,1129.6 1710.9,1130.9 1711.5,1129.3 1712.0,1127.4 1712.6,1126.8 1713.2,1128.6 1713.7,1131.2 1714.3,1129.3 1714.8,1126.9 1715.4,1126.8 1715.9,1126.4 1716.5,1127.3 1717.0,1127.4 1717.6,1126.5 1718.1,1127.4 1718.7,1124.2 1719.3,1130.3 1719.8,1127.6 1720.4,1130.1 1720.9,1127.5 1721.5,1126.4 1722.0,1126.9 1722.6,1127.1 1723.1,1125.2 1723.7,1125.7 1724.2,1130.1 1724.8,1128.1 1725.4,1125.1 1725.9,1127.1 1726.5,1124.3 1727.0,1128.7 1727.6,1123.8 1728.1,1127.5 1728.7,1125.7 1729.2,1125.6 1729.8,1123.8 1730.3,1124.9 1730.9,1123.8 1731.5,1123.5 1732.0,1126.0 1732.6,1130.0 1733.1,1124.3 1733.7,1126.9 1734.2,1124.8 1734.8,1123.4 1735.3,1127.4 1735.9,1125.9 1736.4,1126.9 1737.0,1124.8 1737.6,1124.8 1738.1,1122.9 1738.7,1123.9 1739.2,1127.7 1739.8,1119.8 1740.3,1125.0 1740.9,1127.1 1741.4,1125.7 1742.0,1125.8 1742.6,1123.5 1743.1,1126.2 1743.7,1126.2 1744.2,1123.8 1744.8,1127.1 1745.3,1122.8 1745.9,1118.8 1746.4,1123.6 1747.0,1123.4 1747.5,1121.9 1748.1,1122.6 1748.7,1122.4 1749.2,1119.8 1749.8,1125.7 1750.3,1123.3 1750.9,1128.4 1751.4,1123.1 1752.0,1123.9 1752.5,1120.1 1753.1,1125.0 1753.6,1120.8 1754.2,1124.0 1754.8,1124.7 1755.3,1124.3 1755.9,1121.2 1756.4,1121.2 1757.0,1124.2 1757.5,1125.0 1758.1,1125.4 1758.6,1122.5 1759.2,1122.4 1759.7,1126.0 1760.3,1121.4 1760.9,1123.9 1761.4,1121.9 1762.0,1119.7 1762.5,1120.3 1763.1,1123.3 1763.6,1122.8 1764.2,1123.3 1764.7,1121.7 1765.3,1121.4 1765.8,1122.9 1766.4,1122.0 1767.0,1119.3 1767.5,1121.5 1768.1,1125.6 1768.6,1120.9 1769.2,1123.4 1769.7,1122.3 1770.3,1123.8 1770.8,1120.8 1771.4,1120.1 1771.9,1123.4 1772.5,1121.3 1773.1,1122.6 1773.6,1122.1 1774.2,1124.6 1774.7,1123.3 1775.3,1123.1 1775.8,1121.1 1776.4,1120.0 1776.9,1121.5 1777.5,1124.7 1778.1,1124.5 1778.6,1124.4 1779.2,1122.6 1779.7,1121.5 1780.3,1125.7 1780.8,1123.9 1781.4,1124.7 1781.9,1122.0 1782.5,1122.6 1783.0,1125.2 1783.6,1125.4 1784.2,1122.2 1784.7,1124.7 1785.3,1122.1 1785.8,1126.7 1786.4,1125.7 1786.9,1128.8 1787.5,1127.5 1788.0,1123.5 1788.6,1125.2 1789.1,1124.0 1789.7,1125.3 1790.3,1126.6 1790.8,1125.2 1791.4,1125.4 1791.9,1122.9 1792.5,1126.6 1793.0,1125.5 1793.6,1126.8 1794.1,1127.7 1794.7,1125.9 1795.2,1127.2 1795.8,1124.8 1796.4,1127.8 1796.9,1126.1 1797.5,1125.1 1798.0,1125.9 1798.6,1123.8 1799.1,1125.3 1799.7,1125.8 1800.2,1126.7 1800.8,1126.6 1801.3,1125.7 1801.9,1126.6 1802.5,1123.1 1803.0,1127.4 1803.6,1128.3 1804.1,1128.9 1804.7,1129.5 1805.2,1127.2 1805.8,1127.6 1806.3,1127.0 1806.9,1127.1 1807.4,1128.3 1808.0,1130.6 1808.6,1125.2 1809.1,1127.5 1809.7,1129.0 1810.2,1126.8 1810.8,1129.5 1811.3,1126.3 1811.9,1128.3 1812.4,1126.0 1813.0,1129.7 1813.6,1127.8 1814.1,1130.6 1814.7,1128.9 1815.2,1127.8 1815.8,1128.9 1816.3,1130.0 1816.9,1129.9 1817.4,1129.5 1818.0,1129.5 1818.5,1130.2 1819.1,1131.8 1819.7,1129.3 1820.2,1131.3 1820.8,1128.2 1821.3,1132.3 1821.9,1131.4 1822.4,1130.2 1823.0,1130.3 1823.5,1127.9 1824.1,1131.3 1824.6,1130.7 1825.2,1128.7 1825.8,1130.5 1826.3,1132.4 1826.9,1131.8 1827.4,1132.0 1828.0,1130.6 1828.5,1133.2 1829.1,1131.6 1829.6,1133.3 1830.2,1135.8 1830.7,1128.2 1831.3,1131.0 1831.9,1131.9 1832.4,1130.6 1833.0,1133.8 1833.5,1131.4 1834.1,1135.1 1834.6,1133.4 1835.2,1132.9 1835.7,1132.1 1836.3,1133.7 1836.8,1133.1 1837.4,1134.9 1838.0,1133.1 1838.5,1134.2 1839.1,1133.1 1839.6,1133.0 1840.2,1129.7 1840.7,1132.5 1841.3,1133.2 1841.8,1130.5 1842.4,1130.1 1842.9,1132.1 1843.5,1133.2 1844.1,1129.6 1844.6,1133.2 1845.2,1134.4 1845.7,1132.3 1846.3,1133.2 1846.8,1133.6 1847.4,1131.6 1847.9,1133.9 1848.5,1133.7 1849.1,1130.7 1849.6,1133.8 1850.2,1134.5 1850.7,1131.0 1851.3,1134.5 1851.8,1132.5 1852.4,1130.6 1852.9,1131.2 1853.5,1131.5 1854.0,1134.0 1854.6,1132.2 1855.2,1132.4 1855.7,1130.8 1856.3,1133.1 1856.8,1130.9 1857.4,1131.9 1857.9,1134.2 1858.5,1134.3 1859.0,1132.2 1859.6,1133.0 1860.1,1134.0 1860.7,1133.1 1861.3,1135.2 1861.8,1135.5 1862.4,1132.9 1862.9,1130.9 1863.5,1132.8 1864.0,1135.5 1864.6,1135.1 1865.1,1135.2 1865.7,1135.1 1866.2,1132.2 1866.8,1133.6 1867.4,1135.0 1867.9,1133.5 1868.5,1134.6 1869.0,1131.3 1869.6,1130.9 1870.1,1136.6 1870.7,1134.4 1871.2,1134.1 1871.8,1135.6 1872.3,1136.9 1872.9,1138.1 1873.5,1128.8 1874.0,1133.7 1874.6,1134.8 1875.1,1129.6 1875.7,1129.9 1876.2,1132.7 1876.8,1136.3 1877.3,1134.6 1877.9,1136.7 1878.5,1133.4 1879.0,1134.8 1879.6,1135.6 1880.1,1133.7 1880.7,1132.9 1881.2,1133.1 1881.8,1126.4 1882.3,1133.4 1882.9,1129.6 1883.4,1131.4 1884.0,1134.0 1884.6,1133.4 1885.1,1129.1 1885.7,1133.4 1886.2,1133.7 1886.8,1132.6 1887.3,1133.3 1887.9,1133.0 1888.4,1128.7 1889.0,1131.2 1889.5,1130.9 1890.1,1129.0 1890.7,1130.9 1891.2,1129.2 1891.8,1130.4 1892.3,1128.6 1892.9,1132.0 1893.4,1134.0 1894.0,1128.4 1894.5,1129.4 1895.1,1129.1 1895.6,1129.6 1896.2,1128.2 1896.8,1123.8 1897.3,1128.7 1897.9,1127.4 1898.4,1125.2 1899.0,1126.7 1899.5,1125.7 1900.1,1126.9 1900.6,1125.3 1901.2,1125.0 1901.7,1125.4 1902.3,1125.3 1902.9,1124.4 1903.4,1126.5 1904.0,1124.0 1904.5,1121.3 1905.1,1126.4 1905.6,1122.3 1906.2,1125.2 1906.7,1118.7 1907.3,1122.0 1907.8,1124.3 1908.4,1122.8 1909.0,1119.5 1909.5,1117.4 1910.1,1116.9 1910.6,1117.5 1911.2,1115.1 1911.7,1115.3 1912.3,1114.2 1912.8,1113.8 1913.4,1116.6 1914.0,1111.2 1914.5,1115.8 1915.1,1116.9 1915.6,1112.4 1916.2,1112.2 1916.7,1114.3 1917.3,1113.8 1917.8,1116.1 1918.4,1108.0 1918.9,1112.8 1919.5,1116.3 1920.1,1112.4 1920.6,1116.6 1921.2,1117.3 1921.7,1109.4 1922.3,1114.4 1922.8,1111.2 1923.4,1109.1 1923.9,1107.6 1924.5,1106.9 1925.0,1103.7 1925.6,1104.4 1926.2,1106.1 1926.7,1105.3 1927.3,1098.3 1927.8,1099.1 1928.4,1096.8 1928.9,1085.1 1929.5,1093.1 1930.0,1084.0 1930.6,1082.0 1931.1,1086.7 1931.7,1087.3 1932.3,1074.2 1932.8,1072.1 1933.4,1068.8 1933.9,1067.3 1934.5,1064.9 1935.0,1060.1 1935.6,1054.0 1936.1,1065.7 1936.7,1053.0 1937.2,1048.8 1937.8,1053.0 1938.4,1044.3 1938.9,1048.1 1939.5,1044.3 1940.0,1043.1 1940.6,1036.6 1941.1,1038.9 1941.7,1035.8 1942.2,1036.6 1942.8,1037.7 1943.3,1037.7 1943.9,1047.7 1944.5,1042.9 1945.0,1039.1 1945.6,1050.4 1946.1,1052.0 1946.7,1057.1 1947.2,1054.2 1947.8,1058.4 1948.3,1064.5 1948.9,1069.9 1949.5,1071.4 1950.0,1075.5 1950.6,1070.0 1951.1,1077.5 1951.7,1081.9 1952.2,1087.3 1952.8,1087.4 1953.3,1088.1 1953.9,1090.8 1954.4,1092.9 1955.0,1090.4 1955.6,1096.8 1956.1,1100.9 1956.7,1102.2 1957.2,1096.1 1957.8,1103.2 1958.3,1100.3 1958.9,1109.2 1959.4,1108.8 1960.0,1110.4 1960.5,1107.6 1961.1,1105.0 1961.7,1108.1 1962.2,1110.4 1962.8,1107.8 1963.3,1109.5 1963.9,1117.1 1964.4,1109.5 1965.0,1114.6 1965.5,1108.8 1966.1,1114.4 1966.6,1116.2 1967.2,1115.5 1967.8,1117.6 1968.3,1119.3 1968.9,1111.6 1969.4,1115.9 1970.0,1116.7 1970.5,1116.7 1971.1,1119.7 1971.6,1116.7 1972.2,1119.1 1972.7,1119.1 1973.3,1116.9 1973.9,1118.0 1974.4,1115.0 1975.0,1117.8 1975.5,1117.7 1976.1,1117.1 1976.6,1116.5 1977.2,1120.1 1977.7,1117.8 1978.3,1123.6 1978.8,1121.6 1979.4,1120.5 1980.0,1117.7 1980.5,1121.4 1981.1,1119.9 1981.6,1120.0 1982.2,1117.6 1982.7,1121.7 1983.3,1121.3 1983.8,1120.0 1984.4,1119.8 1985.0,1121.0 1985.5,1119.0 1986.1,1121.0 1986.6,1125.5 1987.2,1121.4 1987.7,1128.0 1988.3,1120.6 1988.8,1126.0 1989.4,1126.3 1989.9,1126.7 1990.5,1125.8 1991.1,1121.6 1991.6,1127.5 1992.2,1127.6 1992.7,1125.8 1993.3,1121.4 1993.8,1128.4 1994.4,1124.7 1994.9,1126.3 1995.5,1129.4 1996.0,1129.8 1996.6,1128.2 1997.2,1126.7 1997.7,1131.1 1998.3,1130.3 1998.8,1128.0 1999.4,1126.7 1999.9,1129.2 2000.5,1126.3 2001.0,1132.1 2001.6,1130.0 2002.1,1128.5 2002.7,1130.0 2003.3,1126.4 2003.8,1129.3 2004.4,1128.4 2004.9,1126.8 2005.5,1128.6 2006.0,1130.4 2006.6,1127.4 2007.1,1129.6 2007.7,1127.5 2008.2,1130.5 2008.8,1127.1 2009.4,1131.5 2009.9,1131.5 2010.5,1131.8 2011.0,1133.6 2011.6,1130.8 2012.1,1130.8 2012.7,1131.7 2013.2,1130.0 2013.8,1127.6 2014.4,1128.8 2014.9,1128.9 2015.5,1131.3 2016.0,1130.0 2016.6,1130.4 2017.1,1132.1 2017.7,1131.5 2018.2,1134.5 2018.8,1131.2 2019.3,1129.8 2019.9,1133.4 2020.5,1130.7 2021.0,1131.3 2021.6,1133.1 2022.1,1131.8 2022.7,1132.7 2023.2,1130.5 2023.8,1131.1 2024.3,1132.6 2024.9,1130.7 2025.4,1131.0 2026.0,1131.6 2026.6,1134.2 2027.1,1134.0 2027.7,1132.0 2028.2,1131.6 2028.8,1130.2 2029.3,1133.3 2029.9,1131.6 2030.4,1132.2 2031.0,1128.1 2031.5,1131.4 2032.1,1130.0 2032.7,1130.7 2033.2,1130.8 2033.8,1128.8 2034.3,1127.8 2034.9,1129.2 2035.4,1125.8 2036.0,1129.7 2036.5,1127.7 2037.1,1125.1 2037.6,1128.6 2038.2,1127.9 2038.8,1128.6 2039.3,1127.6 2039.9,1126.7 2040.4,1125.7 2041.0,1124.1 2041.5,1127.0 2042.1,1126.7 2042.6,1125.2 2043.2,1126.8 2043.7,1124.5 2044.3,1127.6 2044.9,1126.3 2045.4,1126.5 2046.0,1125.0 2046.5,1127.7 2047.1,1126.6 2047.6,1125.5 2048.2,1127.1 2048.7,1126.3 2049.3,1128.3 2049.9,1124.4 2050.4,1125.1 2051.0,1130.3 2051.5,1126.5 2052.1,1128.4 2052.6,1127.3 2053.2,1128.8 2053.7,1133.1 2054.3,1126.3 2054.8,1130.9 2055.4,1130.7 2056.0,1131.3 2056.5,1130.5 2057.1,1130.8 2057.6,1135.0 2058.2,1134.1 2058.7,1131.7 2059.3,1133.9 2059.8,1132.0 2060.4,1138.7 2060.9,1134.8 2061.5,1131.3 2062.1,1135.7 2062.6,1135.2 2063.2,1134.8 2063.7,1134.6 2064.3,1133.4 2064.8,1134.0 2065.4,1131.2 2065.9,1136.4 2066.5,1137.6 2067.0,1135.2 2067.6,1135.4 2068.2,1132.3 2068.7,1133.8 2069.3,1132.3 2069.8,1132.5 2070.4,1135.4 2070.9,1136.8 2071.5,1134.5 2072.0,1138.5 2072.6,1135.9 2073.1,1131.1 2073.7,1134.0 2074.3,1136.7 2074.8,1134.9 2075.4,1136.3 2075.9,1132.1 2076.5,1136.7 2077.0,1132.9 2077.6,1135.3 2078.1,1138.1 2078.7,1134.9 2079.2,1134.4 2079.8,1136.0 2080.4,1133.5 2080.9,1133.4 2081.5,1136.4 2082.0,1132.5 2082.6,1132.9 2083.1,1137.6 2083.7,1133.0 2084.2,1135.6 2084.8,1136.7 2085.4,1134.9 2085.9,1133.3 2086.5,1136.3 2087.0,1133.5 2087.6,1138.3 2088.1,1138.5 2088.7,1133.4 2089.2,1135.9 2089.8,1133.9 2090.3,1135.6 2090.9,1134.6 2091.5,1133.5 2092.0,1135.9 2092.6,1132.5 2093.1,1135.6 2093.7,1134.8 2094.2,1133.9 2094.8,1136.5 2095.3,1135.2 2095.9,1134.6 2096.4,1134.9 2097.0,1134.8 2097.6,1136.6 2098.1,1134.7 2098.7,1130.6 2099.2,1130.3 2099.8,1133.5 2100.3,1133.2 2100.9,1134.7 2101.4,1133.1 2102.0,1133.9 2102.5,1137.2 2103.1,1133.1 2103.7,1136.5 2104.2,1135.0 2104.8,1137.2 2105.3,1136.6 2105.9,1135.3 2106.4,1136.9 2107.0,1135.6 2107.5,1133.5 2108.1,1136.0 2108.6,1136.0 2109.2,1135.1 2109.8,1135.7 2110.3,1134.6 2110.9,1135.8 2111.4,1134.9 2112.0,1132.9 2112.5,1134.9 2113.1,1137.7 2113.6,1136.6 2114.2,1137.6 2114.7,1135.3 2115.3,1134.7 2115.9,1133.7 2116.4,1135.5 2117.0,1136.9 2117.5,1136.6 2118.1,1136.4 2118.6,1134.5 2119.2,1135.5 2119.7,1134.1 2120.3,1136.6 2120.9,1136.2 2121.4,1134.3 2122.0,1135.5 2122.5,1131.8 2123.1,1136.4 2123.6,1134.0 2124.2,1134.7 2124.7,1136.2 2125.3,1136.3 2125.8,1134.3 2126.4,1137.7 2127.0,1138.3 2127.5,1137.5 2128.1,1137.2 2128.6,1135.3 2129.2,1137.3 2129.7,1133.9 2130.3,1133.5 2130.8,1135.4 2131.4,1135.6 2131.9,1133.9 2132.5,1137.9 2133.1,1132.9 2133.6,1132.0 2134.2,1134.5 2134.7,1137.6 2135.3,1136.2 2135.8,1135.6 2136.4,1135.2 2136.9,1135.9 2137.5,1135.5 2138.0,1135.1 2138.6,1134.8 2139.2,1132.5 2139.7,1136.4 2140.3,1134.3 2140.8,1135.4 2141.4,1135.6 2141.9,1136.4 2142.5,1133.6 2143.0,1136.0 2143.6,1136.1 2144.1,1134.6 2144.7,1134.7 2145.3,1134.9 2145.8,1133.2 2146.4,1134.0 2146.9,1132.9 2147.5,1136.4 2148.0,1133.4 2148.6,1133.0 2149.1,1134.8 2149.7,1135.3 2150.2,1134.0 2150.8,1133.1 2151.4,1135.1 2151.9,1135.7 2152.5,1132.0 2153.0,1135.8 2153.6,1131.7 2154.1,1135.4 2154.7,1133.7 2155.2,1134.0 2155.8,1135.4 2156.4,1136.4 2156.9,1137.4 2157.5,1136.3 2158.0,1135.3 2158.6,1132.2 2159.1,1133.6 2159.7,1134.4 2160.2,1133.3 2160.8,1135.0 2161.3,1133.8 2161.9,1136.8 2162.5,1133.9 2163.0,1132.2 2163.6,1133.3 2164.1,1133.0 2164.7,1135.1 2165.2,1136.2 2165.8,1135.6 2166.3,1135.6 2166.9,1133.0 2167.4,1132.4 2168.0,1132.9 2168.6,1134.1 2169.1,1133.5 2169.7,1134.5 2170.2,1135.6 2170.8,1134.2 2171.3,1136.6 2171.9,1132.9 2172.4,1135.0 2173.0,1134.0 2173.5,1135.6 2174.1,1134.1 2174.7,1133.3 2175.2,1133.9 2175.8,1132.8 2176.3,1132.5 2176.9,1135.3 2177.4,1133.3 2178.0,1136.0 2178.5,1137.9 2179.1,1133.7 2179.6,1135.6 2180.2,1134.2 2180.8,1131.5 2181.3,1134.2 2181.9,1136.5 2182.4,1132.6 2183.0,1134.2 2183.5,1134.2 2184.1,1132.4 2184.6,1135.0 2185.2,1134.3 2185.8,1135.4 2186.3,1134.7 2186.9,1132.6 2187.4,1134.9 2188.0,1135.6 2188.5,1134.4 2189.1,1135.6 2189.6,1135.6 2190.2,1131.7 2190.7,1135.8 2191.3,1132.0 2191.9,1133.1 2192.4,1134.8 2193.0,1133.6 2193.5,1133.9 2194.1,1136.7 2194.6,1133.6 2195.2,1136.9 2195.7,1137.9 2196.3,1137.3 2196.8,1133.7 2197.4,1133.1 2198.0,1135.4 2198.5,1138.5 2199.1,1135.1 2199.6,1134.7 2200.2,1135.3 2200.7,1136.6 2201.3,1137.3 2201.8,1135.6 2202.4,1135.5 2202.9,1136.4 2203.5,1135.8 2204.1,1135.2 2204.6,1133.2 2205.2,1136.0 2205.7,1135.0 2206.3,1135.6 2206.8,1135.5 2207.4,1134.7 2207.9,1136.8 2208.5,1137.6 2209.0,1136.8 2209.6,1135.1 2210.2,1136.4 2210.7,1137.1 2211.3,1136.0 2211.8,1137.2 2212.4,1134.2 2212.9,1135.9 2213.5,1138.3 2214.0,1137.7 2214.6,1136.1 2215.1,1136.5 2215.7,1139.4 2216.3,1137.9 2216.8,1135.3 2217.4,1136.8 2217.9,1135.7 2218.5,1135.5 2219.0,1134.7 2219.6,1137.4 2220.1,1139.6 2220.7,1137.6 2221.3,1134.5 2221.8,1137.2 2222.4,1134.3 2222.9,1136.8 2223.5,1137.9 2224.0,1138.6 2224.6,1136.6 2225.1,1136.9 2225.7,1136.5 2226.2,1136.2 2226.8,1138.7 2227.4,1135.1 2227.9,1134.2 2228.5,1139.0 2229.0,1139.7 2229.6,1134.2 2230.1,1137.8 2230.7,1137.7 2231.2,1135.9 2231.8,1135.2 2232.3,1136.7 2232.9,1136.1 2233.5,1137.7 2234.0,1135.6 2234.6,1138.2 2235.1,1135.7 2235.7,1138.9 2236.2,1137.8 2236.8,1138.2 2237.3,1136.0 2237.9,1136.2 2238.4,1136.4 2239.0,1138.2 2239.6,1135.6 2240.1,1135.5 2240.7,1136.3 2241.2,1137.1 2241.8,1136.5 2242.3,1136.5 2242.9,1134.8 2243.4,1135.7 2244.0,1135.1 2244.5,1138.1 2245.1,1136.6 2245.7,1137.6 2246.2,1134.8 2246.8,1136.6 2247.3,1137.1 2247.9,1135.1 2248.4,1135.7 2249.0,1135.9 2249.5,1136.8 2250.1,1137.0 2250.6,1134.7 2251.2,1137.1 2251.8,1136.9 2252.3,1137.1 2252.9,1135.4 2253.4,1136.6 2254.0,1138.4 2254.5,1138.3 2255.1,1135.8 2255.6,1138.9 2256.2,1136.1 2256.8,1135.4 2257.3,1138.2 2257.9,1137.1 2258.4,1139.9 2259.0,1136.4 2259.5,1136.9 2260.1,1137.7 2260.6,1137.1 2261.2,1136.1 2261.7,1136.7 2262.3,1136.7 2262.9,1136.7 2263.4,1136.7 2264.0,1134.6 2264.5,1137.9 2265.1,1135.9 2265.6,1136.4 2266.2,1135.6 2266.7,1136.4 2267.3,1138.1 2267.8,1138.5 2268.4,1137.2 2269.0,1137.0 2269.5,1136.0 2270.1,1136.3 2270.6,1137.1 2271.2,1136.5 2271.7,1135.4 2272.3,1136.8 2272.8,1135.3 2273.4,1139.6 2273.9,1137.2 2274.5,1136.0 2275.1,1137.4 2275.6,1135.7 2276.2,1136.4 2276.7,1138.9 2277.3,1138.5 2277.8,1135.1 2278.4,1135.2 2278.9,1136.1 2279.5,1139.9 2280.0,1136.9 2280.6,1137.1 2281.2,1136.1 2281.7,1138.6 2282.3,1138.1 2282.8,1134.4 2283.4,1135.6 2283.9,1134.3 2284.5,1135.2 2285.0,1135.7 2285.6,1135.0 2286.1,1135.9 2286.7,1137.7 2287.3,1138.3 2287.8,1136.9 2288.4,1137.8 2288.9,1134.9 2289.5,1138.8 2290.0,1139.9 2290.6,1136.6 2291.1,1137.6 2291.7,1137.3 2292.3,1133.8 2292.8,1138.2 2293.4,1137.4 2293.9,1134.6 2294.5,1136.2 2295.0,1138.4 2295.6,1137.6 2296.1,1134.9 2296.7,1136.0 2297.2,1135.9 2297.8,1137.0 2298.4,1135.8 2298.9,1136.9 2299.5,1136.6 2300.0,1134.8 2300.6,1137.3 2301.1,1137.1 2301.7,1135.9 2302.2,1137.8 2302.8,1139.9 2303.3,1134.6 2303.9,1137.1" fill="none" stroke="#0000ff" stroke-width="4.4" stroke-linejoin="round" stroke-linecap="round"/>
<path d="M223.8,785.1 224.4,787.2 224.9,785.1 225.5,778.2 226.0,787.8 226.6,785.9 227.1,781.7 227.7,786.6 228.2,785.7 228.8,785.5 229.3,784.4 229.9,786.7 230.5,781.3 231.0,783.8 231.6,782.5 232.1,787.2 232.7,784.9 233.2,783.5 233.8,781.5 234.3,783.8 234.9,785.0 235.4,783.9 236.0,790.7 236.6,789.5 237.1,773.6 237.7,777.2 238.2,784.6 238.8,783.6 239.3,786.4 239.9,786.5 240.4,794.8 241.0,780.9 241.6,784.1 242.1,794.6 242.7,788.7 243.2,788.8 243.8,783.8 244.3,779.0 244.9,786.9 245.4,786.7 246.0,781.0 246.5,783.4 247.1,786.1 247.7,782.4 248.2,786.1 248.8,787.0 249.3,786.8 249.9,784.5 250.4,789.3 251.0,790.7 251.5,788.3 252.1,783.4 252.6,790.2 253.2,784.9 253.8,790.9 254.3,782.6 254.9,791.2 255.4,787.2 256.0,782.0 256.5,786.1 257.1,787.7 257.6,788.7 258.2,783.4 258.7,782.9 259.3,788.6 259.9,785.8 260.4,788.9 261.0,791.2 261.5,780.9 262.1,789.1 262.6,793.3 263.2,786.9 263.7,784.7 264.3,791.5 264.8,789.4 265.4,792.2 266.0,786.9 266.5,782.1 267.1,788.1 267.6,786.7 268.2,792.0 268.7,789.5 269.3,781.7 269.8,783.7 270.4,792.7 270.9,791.8 271.5,786.2 272.1,789.0 272.6,791.0 273.2,791.2 273.7,793.0 274.3,790.4 274.8,788.9 275.4,788.3 275.9,794.0 276.5,779.8 277.1,788.9 277.6,789.7 278.2,783.5 278.7,791.1 279.3,787.0 279.8,793.5 280.4,789.4 280.9,792.8 281.5,795.3 282.0,791.7 282.6,786.4 283.2,783.7 283.7,797.8 284.3,789.9 284.8,787.4 285.4,791.1 285.9,789.7 286.5,794.2 287.0,790.8 287.6,790.8 288.1,787.7 288.7,792.9 289.3,786.5 289.8,793.8 290.4,797.6 290.9,784.6 291.5,780.6 292.0,793.9 292.6,802.2 293.1,787.1 293.7,786.1 294.2,794.0 294.8,788.0 295.4,789.5 295.9,790.2 296.5,794.1 297.0,790.1 297.6,793.1 298.1,791.2 298.7,788.4 299.2,790.7 299.8,788.1 300.3,792.3 300.9,787.5 301.5,787.7 302.0,798.7 302.6,792.3 303.1,792.3 303.7,794.8 304.2,790.9 304.8,791.8 305.3,794.6 305.9,794.1 306.4,788.0 307.0,796.6 307.6,790.5 308.1,788.6 308.7,789.3 309.2,791.6 309.8,800.3 310.3,788.4 310.9,794.1 311.4,784.4 312.0,793.6 312.6,797.5 313.1,792.7 313.7,791.0 314.2,794.8 314.8,796.9 315.3,796.8 315.9,802.4 316.4,794.9 317.0,791.5 317.5,793.6 318.1,793.9 318.7,794.7 319.2,794.2 319.8,795.1 320.3,787.3 320.9,798.0 321.4,792.0 322.0,789.5 322.5,797.3 323.1,800.3 323.6,796.8 324.2,795.4 324.8,790.8 325.3,807.1 325.9,798.6 326.4,790.0 327.0,791.6 327.5,795.4 328.1,788.4 328.6,795.8 329.2,793.2 329.7,800.4 330.3,799.3 330.9,783.7 331.4,795.4 332.0,788.4 332.5,800.1 333.1,796.1 333.6,797.7 334.2,790.9 334.7,803.3 335.3,804.1 335.8,791.0 336.4,797.1 337.0,792.7 337.5,795.5 338.1,790.2 338.6,803.6 339.2,791.5 339.7,794.4 340.3,797.8 340.8,792.9 341.4,794.7 341.9,793.3 342.5,795.2 343.1,790.8 343.6,793.9 344.2,794.9 344.7,794.4 345.3,796.0 345.8,794.5 346.4,799.0 346.9,794.4 347.5,795.2 348.1,793.0 348.6,793.6 349.2,790.4 349.7,798.0 350.3,790.9 350.8,792.6 351.4,797.3 351.9,797.5 352.5,794.1 353.0,787.2 353.6,797.6 354.2,796.9 354.7,789.8 355.3,799.1 355.8,792.8 356.4,791.0 356.9,796.2 357.5,795.0 358.0,796.7 358.6,789.0 359.1,803.5 359.7,793.2 360.3,789.2 360.8,798.4 361.4,794.3 361.9,797.2 362.5,794.4 363.0,795.5 363.6,796.8 364.1,792.6 364.7,798.7 365.2,793.8 365.8,792.1 366.4,796.1 366.9,797.7 367.5,794.8 368.0,792.1 368.6,798.4 369.1,788.3 369.7,791.4 370.2,796.0 370.8,790.0 371.3,795.9 371.9,795.6 372.5,799.6 373.0,791.9 373.6,793.1 374.1,797.2 374.7,785.4 375.2,809.0 375.8,792.8 376.3,792.7 376.9,799.5 377.5,795.6 378.0,788.2 378.6,798.5 379.1,799.4 379.7,793.9 380.2,794.6 380.8,797.9 381.3,791.9 381.9,797.7 382.4,796.6 383.0,792.9 383.6,789.9 384.1,794.8 384.7,792.1 385.2,800.1 385.8,796.4 386.3,799.1 386.9,796.4 387.4,796.9 388.0,792.5 388.5,798.6 389.1,803.4 389.7,794.5 390.2,793.3 390.8,795.1 391.3,793.8 391.9,792.8 392.4,796.4 393.0,794.6 393.5,801.9 394.1,795.8 394.6,797.2 395.2,799.8 395.8,794.5 396.3,801.9 396.9,793.1 397.4,792.4 398.0,794.2 398.5,795.3 399.1,789.9 399.6,795.7 400.2,788.7 400.7,801.7 401.3,795.5 401.9,793.1 402.4,791.9 403.0,794.2 403.5,794.9 404.1,791.4 404.6,791.9 405.2,795.0 405.7,793.6 406.3,799.7 406.8,800.6 407.4,795.8 408.0,797.7 408.5,790.0 409.1,798.4 409.6,795.5 410.2,797.7 410.7,802.3 411.3,785.9 411.8,796.6 412.4,790.8 413.0,797.9 413.5,789.8 414.1,793.3 414.6,796.2 415.2,797.9 415.7,795.5 416.3,791.8 416.8,792.8 417.4,798.8 417.9,795.0 418.5,787.8 419.1,798.5 419.6,796.6 420.2,798.5 420.7,793.3 421.3,798.2 421.8,790.1 422.4,797.0 422.9,792.4 423.5,797.3 424.0,798.6 424.6,791.2 425.2,794.0 425.7,794.3 426.3,799.1 426.8,797.0 427.4,788.8 427.9,795.8 428.5,796.9 429.0,802.7 429.6,786.5 430.1,791.3 430.7,799.1 431.3,787.6 431.8,788.2 432.4,795.4 432.9,797.4 433.5,790.2 434.0,795.2 434.6,793.4 435.1,799.2 435.7,792.7 436.2,796.8 436.8,788.7 437.4,791.7 437.9,791.9 438.5,797.1 439.0,794.6 439.6,788.9 440.1,794.9 440.7,795.2 441.2,791.4 441.8,790.6 442.3,790.8 442.9,784.4 443.5,792.3 444.0,792.4 444.6,787.6 445.1,794.3 445.7,785.3 446.2,788.7 446.8,788.9 447.3,799.2 447.9,784.0 448.5,793.0 449.0,794.5 449.6,792.1 450.1,795.4 450.7,786.1 451.2,780.6 451.8,793.4 452.3,785.0 452.9,788.6 453.4,784.9 454.0,794.2 454.6,793.4 455.1,786.6 455.7,793.4 456.2,790.0 456.8,788.8 457.3,789.5 457.9,788.4 458.4,791.7 459.0,790.4 459.5,787.5 460.1,793.1 460.7,786.2 461.2,789.9 461.8,790.4 462.3,794.8 462.9,786.3 463.4,795.7 464.0,789.0 464.5,787.4 465.1,785.3 465.6,790.5 466.2,788.2 466.8,783.2 467.3,783.0 467.9,785.3 468.4,784.7 469.0,792.1 469.5,793.2 470.1,791.0 470.6,788.7 471.2,785.3 471.7,787.3 472.3,790.7 472.9,795.8 473.4,790.6 474.0,785.5 474.5,786.7 475.1,784.4 475.6,783.1 476.2,785.5 476.7,787.0 477.3,793.8 477.8,786.2 478.4,791.6 479.0,793.2 479.5,786.0 480.1,792.3 480.6,788.5 481.2,783.6 481.7,786.4 482.3,785.3 482.8,784.1 483.4,784.1 484.0,785.5 484.5,786.6 485.1,780.9 485.6,784.5 486.2,778.1 486.7,785.4 487.3,786.9 487.8,784.8 488.4,785.2 488.9,786.4 489.5,781.0 490.1,782.7 490.6,785.8 491.2,787.7 491.7,785.1 492.3,794.0 492.8,782.8 493.4,787.3 493.9,788.3 494.5,782.3 495.0,779.3 495.6,777.7 496.2,783.2 496.7,787.1 497.3,783.5 497.8,782.9 498.4,780.5 498.9,784.4 499.5,772.9 500.0,782.8 500.6,781.8 501.1,775.8 501.7,790.6 502.3,775.5 502.8,776.7 503.4,776.1 503.9,785.7 504.5,777.2 505.0,783.6 505.6,783.2 506.1,781.7 506.7,775.0 507.2,777.8 507.8,787.3 508.4,774.8 508.9,776.6 509.5,779.3 510.0,783.2 510.6,780.8 511.1,782.7 511.7,775.1 512.2,783.4 512.8,781.7 513.3,772.5 513.9,785.6 514.5,788.6 515.0,775.7 515.6,779.0 516.1,784.5 516.7,772.4 517.2,770.1 517.8,772.9 518.3,775.8 518.9,775.7 519.5,780.5 520.0,779.0 520.6,772.5 521.1,780.0 521.7,785.4 522.2,782.4 522.8,781.4 523.3,777.3 523.9,781.2 524.4,772.9 525.0,780.0 525.6,776.3 526.1,781.3 526.7,778.4 527.2,771.8 527.8,776.8 528.3,781.2 528.9,771.3 529.4,773.5 530.0,772.5 530.5,769.4 531.1,779.5 531.7,780.9 532.2,778.6 532.8,776.2 533.3,774.8 533.9,775.9 534.4,771.7 535.0,778.4 535.5,778.9 536.1,778.3 536.6,772.1 537.2,774.5 537.8,773.3 538.3,781.4 538.9,774.5 539.4,765.8 540.0,775.2 540.5,781.3 541.1,776.2 541.6,776.9 542.2,773.2 542.7,764.7 543.3,765.3 543.9,767.5 544.4,772.0 545.0,773.8 545.5,775.2 546.1,770.8 546.6,776.1 547.2,770.8 547.7,768.9 548.3,775.3 548.9,767.8 549.4,760.1 550.0,767.0 550.5,771.7 551.1,758.3 551.6,769.5 552.2,769.5 552.7,764.9 553.3,764.5 553.8,768.7 554.4,768.2 555.0,775.6 555.5,771.8 556.1,763.5 556.6,766.5 557.2,772.8 557.7,777.7 558.3,771.3 558.8,770.9 559.4,777.2 559.9,769.3 560.5,768.0 561.1,763.3 561.6,766.9 562.2,778.0 562.7,762.9 563.3,768.8 563.8,762.8 564.4,769.1 564.9,772.1 565.5,767.3 566.0,771.3 566.6,771.2 567.2,769.9 567.7,775.1 568.3,771.1 568.8,766.5 569.4,764.9 569.9,764.1 570.5,769.5 571.0,766.1 571.6,778.7 572.1,774.9 572.7,766.2 573.3,765.7 573.8,774.0 574.4,759.0 574.9,764.9 575.5,770.6 576.0,762.8 576.6,764.5 577.1,765.0 577.7,769.1 578.2,766.8 578.8,767.8 579.4,768.6 579.9,766.1 580.5,770.5 581.0,762.8 581.6,759.8 582.1,758.3 582.7,758.8 583.2,763.2 583.8,769.7 584.4,766.0 584.9,762.7 585.5,760.7 586.0,762.9 586.6,763.3 587.1,762.6 587.7,758.9 588.2,762.8 588.8,768.9 589.3,755.5 589.9,763.5 590.5,755.6 591.0,765.1 591.6,761.2 592.1,755.5 592.7,764.5 593.2,771.6 593.8,764.4 594.3,768.7 594.9,763.5 595.4,754.8 596.0,765.7 596.6,761.9 597.1,757.5 597.7,766.7 598.2,764.6 598.8,761.2 599.3,766.9 599.9,759.6 600.4,765.8 601.0,759.2 601.5,765.2 602.1,758.4 602.7,769.1 603.2,763.9 603.8,768.7 604.3,759.3 604.9,760.7 605.4,766.1 606.0,751.2 606.5,758.1 607.1,766.7 607.6,764.3 608.2,766.4 608.8,761.0 609.3,764.5 609.9,759.1 610.4,756.4 611.0,755.0 611.5,759.7 612.1,759.6 612.6,759.3 613.2,747.1 613.7,753.5 614.3,759.5 614.9,762.8 615.4,759.2 616.0,757.9 616.5,751.9 617.1,769.8 617.6,756.8 618.2,768.3 618.7,767.7 619.3,762.3 619.9,758.8 620.4,761.6 621.0,756.3 621.5,762.1 622.1,760.9 622.6,763.1 623.2,764.8 623.7,768.0 624.3,759.1 624.8,765.0 625.4,757.4 626.0,756.9 626.5,758.0 627.1,756.4 627.6,764.5 628.2,764.2 628.7,765.6 629.3,760.2 629.8,761.4 630.4,757.9 630.9,755.5 631.5,762.0 632.1,761.2 632.6,755.5 633.2,762.5 633.7,752.8 634.3,759.3 634.8,757.4 635.4,757.8 635.9,755.4 636.5,763.8 637.0,762.2 637.6,764.7 638.2,760.4 638.7,754.4 639.3,758.2 639.8,754.8 640.4,761.6 640.9,764.7 641.5,761.0 642.0,757.2 642.6,758.1 643.1,760.5 643.7,753.6 644.3,760.2 644.8,760.4 645.4,757.3 645.9,757.8 646.5,760.3 647.0,756.2 647.6,756.1 648.1,762.7 648.7,760.4 649.2,766.4 649.8,755.4 650.4,752.1 650.9,763.4 651.5,763.4 652.0,756.4 652.6,753.4 653.1,759.2 653.7,752.2 654.2,758.0 654.8,750.4 655.4,758.4 655.9,750.6 656.5,758.4 657.0,765.6 657.6,758.3 658.1,762.5 658.7,756.7 659.2,755.7 659.8,753.2 660.3,763.6 660.9,759.1 661.5,766.0 662.0,754.5 662.6,758.5 663.1,759.7 663.7,765.3 664.2,767.0 664.8,756.9 665.3,755.0 665.9,752.6 666.4,765.3 667.0,759.5 667.6,757.3 668.1,759.9 668.7,749.7 669.2,753.2 669.8,764.3 670.3,762.2 670.9,761.4 671.4,756.8 672.0,763.5 672.5,768.5 673.1,756.3 673.7,761.6 674.2,759.9 674.8,763.4 675.3,762.1 675.9,761.6 676.4,758.8 677.0,762.6 677.5,760.3 678.1,762.4 678.6,762.9 679.2,766.1 679.8,761.2 680.3,762.5 680.9,768.4 681.4,763.3 682.0,763.3 682.5,768.2 683.1,765.9 683.6,765.4 684.2,766.1 684.8,760.3 685.3,767.5 685.9,771.3 686.4,768.4 687.0,759.8 687.5,767.6 688.1,762.9 688.6,765.9 689.2,767.6 689.7,762.4 690.3,773.1 690.9,767.6 691.4,771.4 692.0,771.0 692.5,774.2 693.1,773.8 693.6,763.2 694.2,769.7 694.7,761.0 695.3,768.3 695.8,773.3 696.4,774.5 697.0,776.3 697.5,769.8 698.1,773.0 698.6,772.4 699.2,777.5 699.7,779.1 700.3,771.5 700.8,788.8 701.4,773.6 701.9,772.4 702.5,776.7 703.1,777.7 703.6,777.1 704.2,772.6 704.7,781.6 705.3,776.1 705.8,782.5 706.4,782.3 706.9,771.7 707.5,773.2 708.0,773.4 708.6,778.9 709.2,778.4 709.7,779.6 710.3,775.5 710.8,780.9 711.4,785.2 711.9,774.2 712.5,779.2 713.0,781.3 713.6,780.0 714.1,780.0 714.7,788.3 715.3,786.6 715.8,785.1 716.4,778.8 716.9,791.3 717.5,783.9 718.0,780.3 718.6,781.5 719.1,781.2 719.7,792.1 720.3,784.5 720.8,784.2 721.4,775.4 721.9,787.4 722.5,780.3 723.0,780.3 723.6,787.6 724.1,781.9 724.7,789.0 725.2,790.4 725.8,778.8 726.4,785.8 726.9,780.2 727.5,786.6 728.0,790.8 728.6,781.8 729.1,794.9 729.7,786.5 730.2,783.2 730.8,787.7 731.3,791.7 731.9,783.1 732.5,788.9 733.0,783.6 733.6,794.3 734.1,790.2 734.7,788.1 735.2,794.3 735.8,785.0 736.3,788.9 736.9,798.2 737.4,790.4 738.0,796.6 738.6,792.2 739.1,788.7 739.7,790.8 740.2,792.3 740.8,790.5 741.3,789.1 741.9,789.5 742.4,786.8 743.0,793.5 743.5,794.8 744.1,796.5 744.7,786.3 745.2,797.1 745.8,794.0 746.3,788.4 746.9,794.8 747.4,797.9 748.0,796.9 748.5,797.9 749.1,799.0 749.6,799.0 750.2,795.4 750.8,787.3 751.3,792.8 751.9,797.5 752.4,794.3 753.0,799.2 753.5,799.8 754.1,796.9 754.6,804.5 755.2,793.2 755.8,801.0 756.3,795.5 756.9,794.5 757.4,800.2 758.0,795.5 758.5,801.6 759.1,793.6 759.6,798.7 760.2,795.3 760.7,797.9 761.3,797.5 761.9,794.7 762.4,802.0 763.0,794.6 763.5,795.8 764.1,803.5 764.6,804.0 765.2,802.9 765.7,801.8 766.3,809.8 766.8,795.9 767.4,798.0 768.0,797.1 768.5,804.9 769.1,802.6 769.6,806.1 770.2,805.7 770.7,801.0 771.3,798.8 771.8,798.3 772.4,811.3 772.9,806.4 773.5,805.1 774.1,801.5 774.6,802.2 775.2,801.8 775.7,802.0 776.3,793.8 776.8,803.3 777.4,802.1 777.9,805.0 778.5,804.8 779.0,807.5 779.6,804.1 780.2,807.5 780.7,794.2 781.3,800.1 781.8,811.5 782.4,799.9 782.9,803.7 783.5,807.7 784.0,801.5 784.6,808.0 785.1,799.5 785.7,797.6 786.3,800.0 786.8,798.8 787.4,805.4 787.9,804.3 788.5,806.9 789.0,801.5 789.6,815.9 790.1,805.4 790.7,805.6 791.3,807.7 791.8,804.9 792.4,803.4 792.9,806.3 793.5,809.7 794.0,808.7 794.6,809.8 795.1,803.9 795.7,803.1 796.2,814.2 796.8,805.3 797.4,808.2 797.9,809.3 798.5,812.0 799.0,801.0 799.6,804.5 800.1,804.8 800.7,805.3 801.2,797.0 801.8,806.2 802.3,795.1 802.9,807.8 803.5,808.8 804.0,809.1 804.6,802.0 805.1,810.6 805.7,803.4 806.2,802.0 806.8,803.0 807.3,803.6 807.9,807.6 808.4,810.2 809.0,798.7 809.6,804.9 810.1,810.6 810.7,807.9 811.2,809.1 811.8,801.2 812.3,810.9 812.9,801.0 813.4,808.0 814.0,812.6 814.5,814.7 815.1,809.3 815.7,810.8 816.2,804.9 816.8,805.4 817.3,812.0 817.9,807.4 818.4,806.9 819.0,801.8 819.5,808.0 820.1,810.0 820.7,804.3 821.2,805.5 821.8,813.7 822.3,808.2 822.9,806.3 823.4,803.0 824.0,805.0 824.5,806.5 825.1,812.9 825.6,805.1 826.2,814.6 826.8,803.8 827.3,806.1 827.9,810.8 828.4,806.6 829.0,804.2 829.5,807.0 830.1,809.3 830.6,800.7 831.2,806.5 831.7,807.1 832.3,805.9 832.9,810.4 833.4,805.2 834.0,806.0 834.5,807.6 835.1,810.3 835.6,806.6 836.2,813.4 836.7,803.9 837.3,812.5 837.8,804.0 838.4,806.7 839.0,808.8 839.5,815.4 840.1,810.9 840.6,805.7 841.2,812.4 841.7,806.5 842.3,804.2 842.8,809.0 843.4,807.6 843.9,811.0 844.5,805.1 845.1,808.7 845.6,809.7 846.2,808.3 846.7,807.0 847.3,804.4 847.8,810.6 848.4,807.6 848.9,809.0 849.5,805.7 850.0,807.0 850.6,802.9 851.2,807.2 851.7,809.8 852.3,807.0 852.8,809.8 853.4,807.5 853.9,811.5 854.5,805.0 855.0,798.7 855.6,807.0 856.2,804.2 856.7,800.4 857.3,806.9 857.8,804.9 858.4,805.4 858.9,801.6 859.5,803.5 860.0,803.3 860.6,809.7 861.1,797.9 861.7,800.4 862.3,801.4 862.8,790.5 863.4,790.1 863.9,808.1 864.5,787.0 865.0,798.0 865.6,789.3 866.1,788.4 866.7,780.1 867.2,784.3 867.8,792.2 868.4,776.5 868.9,786.2 869.5,781.5 870.0,790.1 870.6,769.3 871.1,778.4 871.7,772.1 872.2,758.9 872.8,742.9 873.3,764.3 873.9,732.8 874.5,734.1 875.0,740.3 875.6,736.0 876.1,709.0 876.7,710.9 877.2,702.1 877.8,711.2 878.3,719.4 878.9,673.2 879.4,687.5 880.0,673.2 880.6,672.4 881.1,673.2 881.7,699.3 882.2,679.5 882.8,673.2 883.3,679.1 883.9,682.7 884.4,696.0 885.0,696.2 885.5,709.9 886.1,724.8 886.7,721.3 887.2,706.9 887.8,708.6 888.3,721.9 888.9,742.6 889.4,732.1 890.0,731.6 890.5,741.6 891.1,729.8 891.7,734.5 892.2,751.1 892.8,745.6 893.3,745.8 893.9,753.7 894.4,746.9 895.0,746.9 895.5,749.6 896.1,759.2 896.6,755.4 897.2,745.7 897.8,753.7 898.3,762.1 898.9,772.6 899.4,748.6 900.0,761.1 900.5,756.7 901.1,765.8 901.6,763.0 902.2,771.4 902.7,764.0 903.3,755.6 903.9,755.7 904.4,763.2 905.0,763.1 905.5,779.0 906.1,773.1 906.6,750.2 907.2,762.2 907.7,748.5 908.3,745.7 908.8,764.7 909.4,762.9 910.0,749.8 910.5,771.1 911.1,749.6 911.6,747.7 912.2,762.2 912.7,758.3 913.3,754.8 913.8,755.1 914.4,756.9 914.9,753.3 915.5,752.4 916.1,737.2 916.6,740.9 917.2,756.5 917.7,744.3 918.3,753.9 918.8,758.4 919.4,742.7 919.9,746.0 920.5,759.7 921.0,744.3 921.6,752.0 922.2,745.8 922.7,734.6 923.3,722.0 923.8,710.2 924.4,701.9 924.9,712.4 925.5,704.8 926.0,689.1 926.6,692.2 927.2,665.1 927.7,677.0 928.3,653.7 928.8,642.9 929.4,633.0 929.9,620.6 930.5,647.2 931.0,574.6 931.6,590.1 932.1,595.6 932.7,575.6 933.3,546.7 933.8,569.3 934.4,509.8 934.9,494.8 935.5,516.5 936.0,486.7 936.6,486.7 937.1,485.9 937.7,507.5 938.2,517.4 938.8,507.4 939.4,530.3 939.9,523.2 940.5,581.8 941.0,579.8 941.6,592.3 942.1,563.6 942.7,617.8 943.2,639.7 943.8,647.1 944.3,651.8 944.9,650.6 945.5,654.8 946.0,674.6 946.6,679.2 947.1,684.2 947.7,684.3 948.2,713.2 948.8,687.3 949.3,705.9 949.9,705.9 950.4,728.2 951.0,737.2 951.6,739.9 952.1,739.4 952.7,723.1 953.2,758.0 953.8,746.7 954.3,744.0 954.9,747.8 955.4,747.3 956.0,756.0 956.5,757.3 957.1,753.9 957.7,738.4 958.2,760.0 958.8,765.3 959.3,766.8 959.9,762.5 960.4,767.7 961.0,772.6 961.5,762.2 962.1,777.0 962.7,752.5 963.2,758.2 963.8,761.4 964.3,750.9 964.9,761.8 965.4,778.3 966.0,778.6 966.5,770.9 967.1,782.6 967.6,772.5 968.2,767.6 968.8,773.1 969.3,770.6 969.9,776.8 970.4,761.4 971.0,778.9 971.5,768.8 972.1,777.9 972.6,761.3 973.2,769.0 973.7,772.4 974.3,778.0 974.9,763.2 975.4,783.0 976.0,774.7 976.5,767.4 977.1,779.4 977.6,771.4 978.2,778.6 978.7,786.5 979.3,775.3 979.8,765.9 980.4,766.3 981.0,773.2 981.5,770.8 982.1,762.4 982.6,763.3 983.2,772.5 983.7,784.3 984.3,748.0 984.8,771.9 985.4,764.7 985.9,771.6 986.5,771.8 987.1,765.3 987.6,756.8 988.2,753.3 988.7,748.9 989.3,771.4 989.8,759.8 990.4,756.4 990.9,757.6 991.5,748.6 992.1,760.5 992.6,767.7 993.2,765.6 993.7,747.8 994.3,766.1 994.8,748.6 995.4,747.8 995.9,747.8 996.5,747.8 997.0,752.8 997.6,747.8 998.2,747.8 998.7,749.3 999.3,766.8 999.8,747.8 1000.4,754.1 1000.9,750.6 1001.5,771.7 1002.0,747.8 1002.6,747.0 1003.1,747.8 1003.7,747.8 1004.3,748.7 1004.8,776.0 1005.4,747.8 1005.9,747.8 1006.5,761.8 1007.0,747.8 1007.6,750.6 1008.1,753.2 1008.7,755.0 1009.2,753.7 1009.8,758.1 1010.4,759.9 1010.9,764.4 1011.5,755.5 1012.0,754.1 1012.6,753.0 1013.1,766.8 1013.7,763.6 1014.2,769.6 1014.8,771.1 1015.3,780.8 1015.9,772.2 1016.5,777.6 1017.0,766.2 1017.6,768.6 1018.1,774.9 1018.7,770.4 1019.2,783.3 1019.8,771.8 1020.3,781.3 1020.9,767.1 1021.4,776.1 1022.0,781.5 1022.6,782.8 1023.1,774.8 1023.7,786.4 1024.2,792.0 1024.8,790.8 1025.3,784.3 1025.9,785.3 1026.4,782.8 1027.0,793.0 1027.6,797.8 1028.1,788.1 1028.7,782.6 1029.2,792.9 1029.8,795.9 1030.3,779.3 1030.9,794.0 1031.4,804.3 1032.0,798.2 1032.5,797.3 1033.1,797.0 1033.7,800.5 1034.2,791.5 1034.8,792.4 1035.3,798.5 1035.9,793.9 1036.4,798.4 1037.0,789.1 1037.5,801.2 1038.1,801.9 1038.6,798.6 1039.2,799.4 1039.8,805.9 1040.3,794.7 1040.9,795.7 1041.4,795.3 1042.0,798.3 1042.5,796.2 1043.1,800.8 1043.6,798.3 1044.2,795.3 1044.7,795.2 1045.3,806.4 1045.9,801.6 1046.4,801.2 1047.0,802.4 1047.5,802.1 1048.1,805.5 1048.6,804.9 1049.2,800.7 1049.7,800.0 1050.3,799.2 1050.8,798.7 1051.4,808.6 1052.0,800.1 1052.5,796.2 1053.1,800.5 1053.6,800.7 1054.2,804.8 1054.7,800.3 1055.3,805.5 1055.8,804.9 1056.4,808.1 1056.9,811.3 1057.5,813.7 1058.1,808.2 1058.6,798.9 1059.2,801.6 1059.7,803.9 1060.3,810.4 1060.8,805.2 1061.4,807.0 1061.9,801.8 1062.5,804.5 1063.1,804.8 1063.6,800.4 1064.2,804.8 1064.7,805.7 1065.3,801.1 1065.8,805.2 1066.4,807.4 1066.9,801.5 1067.5,801.1 1068.0,799.8 1068.6,798.6 1069.2,801.3 1069.7,799.1 1070.3,799.3 1070.8,797.5 1071.4,794.6 1071.9,796.7 1072.5,801.2 1073.0,795.6 1073.6,797.5 1074.1,805.7 1074.7,803.7 1075.3,797.1 1075.8,801.7 1076.4,797.1 1076.9,805.3 1077.5,797.2 1078.0,799.6 1078.6,804.2 1079.1,796.2 1079.7,803.8 1080.2,796.1 1080.8,799.8 1081.4,797.8 1081.9,798.5 1082.5,799.3 1083.0,798.3 1083.6,794.8 1084.1,801.5 1084.7,800.9 1085.2,802.8 1085.8,803.0 1086.3,793.0 1086.9,802.3 1087.5,801.9 1088.0,794.8 1088.6,799.8 1089.1,800.6 1089.7,792.6 1090.2,788.8 1090.8,791.7 1091.3,802.3 1091.9,792.5 1092.4,786.8 1093.0,789.9 1093.6,787.1 1094.1,789.4 1094.7,791.5 1095.2,782.4 1095.8,793.5 1096.3,798.1 1096.9,793.1 1097.4,793.2 1098.0,799.3 1098.6,791.6 1099.1,792.3 1099.7,792.3 1100.2,797.1 1100.8,799.2 1101.3,797.6 1101.9,800.0 1102.4,801.1 1103.0,800.0 1103.5,795.4 1104.1,797.4 1104.7,802.9 1105.2,794.7 1105.8,797.6 1106.3,797.1 1106.9,798.0 1107.4,794.8 1108.0,793.9 1108.5,807.9 1109.1,802.2 1109.6,796.3 1110.2,798.7 1110.8,801.3 1111.3,797.7 1111.9,801.2 1112.4,796.8 1113.0,797.7 1113.5,798.7 1114.1,797.4 1114.6,790.3 1115.2,799.1 1115.7,799.9 1116.3,800.6 1116.9,795.3 1117.4,799.9 1118.0,799.3 1118.5,792.1 1119.1,790.4 1119.6,799.8 1120.2,794.5 1120.7,801.3 1121.3,805.1 1121.8,795.2 1122.4,794.6 1123.0,796.8 1123.5,799.0 1124.1,792.4 1124.6,800.6 1125.2,799.5 1125.7,798.0 1126.3,793.5 1126.8,798.5 1127.4,798.1 1128.0,790.5 1128.5,802.0 1129.1,793.3 1129.6,795.5 1130.2,792.2 1130.7,795.2 1131.3,797.8 1131.8,790.7 1132.4,787.6 1132.9,791.7 1133.5,788.5 1134.1,790.3 1134.6,792.3 1135.2,792.4 1135.7,797.0 1136.3,788.7 1136.8,793.4 1137.4,790.2 1137.9,796.6 1138.5,800.6 1139.0,792.6 1139.6,797.3 1140.2,789.4 1140.7,785.5 1141.3,786.6 1141.8,785.4 1142.4,787.5 1142.9,790.0 1143.5,794.8 1144.0,793.2 1144.6,792.3 1145.1,789.2 1145.7,788.2 1146.3,790.8 1146.8,791.2 1147.4,791.6 1147.9,792.0 1148.5,790.3 1149.0,784.0 1149.6,786.9 1150.1,787.9 1150.7,796.8 1151.2,789.3 1151.8,793.2 1152.4,796.0 1152.9,792.1 1153.5,789.6 1154.0,790.0 1154.6,787.4 1155.1,792.1 1155.7,795.1 1156.2,793.1 1156.8,793.9 1157.3,793.7 1157.9,798.3 1158.5,789.1 1159.0,791.9 1159.6,793.9 1160.1,795.8 1160.7,783.0 1161.2,789.7 1161.8,790.9 1162.3,788.0 1162.9,794.7 1163.5,792.5 1164.0,790.4 1164.6,786.1 1165.1,787.3 1165.7,788.5 1166.2,793.6 1166.8,787.8 1167.3,784.9 1167.9,787.2 1168.4,790.3 1169.0,798.4 1169.6,801.4 1170.1,791.1 1170.7,796.2 1171.2,798.0 1171.8,797.7 1172.3,793.0 1172.9,789.1 1173.4,792.1 1174.0,787.5 1174.5,795.0 1175.1,797.1 1175.7,787.9 1176.2,794.5 1176.8,795.9 1177.3,799.5 1177.9,800.1 1178.4,798.3 1179.0,793.2 1179.5,794.5 1180.1,800.2 1180.6,794.0 1181.2,796.1 1181.8,801.9 1182.3,797.0 1182.9,791.9 1183.4,795.8 1184.0,799.1 1184.5,796.4 1185.1,801.2 1185.6,801.7 1186.2,795.1 1186.7,795.7 1187.3,797.2 1187.9,793.5 1188.4,799.1 1189.0,797.3 1189.5,800.7 1190.1,796.0 1190.6,795.2 1191.2,804.7 1191.7,795.4 1192.3,796.5 1192.8,796.1 1193.4,797.7 1194.0,795.6 1194.5,798.8 1195.1,796.6 1195.6,797.7 1196.2,800.4 1196.7,801.7 1197.3,801.0 1197.8,796.9 1198.4,800.9 1199.0,799.2 1199.5,799.4 1200.1,793.9 1200.6,802.3 1201.2,799.5 1201.7,806.0 1202.3,802.4 1202.8,796.4 1203.4,795.7 1203.9,804.5 1204.5,797.6 1205.1,803.0 1205.6,799.7 1206.2,808.1 1206.7,801.2 1207.3,806.2 1207.8,805.7 1208.4,799.6 1208.9,800.1 1209.5,806.5 1210.0,801.5 1210.6,798.6 1211.2,805.8 1211.7,810.6 1212.3,801.7 1212.8,806.7 1213.4,801.5 1213.9,806.8 1214.5,801.4 1215.0,806.9 1215.6,804.2 1216.1,801.8 1216.7,803.4 1217.3,800.8 1217.8,798.9 1218.4,799.2 1218.9,802.7 1219.5,799.4 1220.0,804.6 1220.6,805.0 1221.1,804.9 1221.7,801.7 1222.2,803.6 1222.8,803.4 1223.4,808.1 1223.9,801.0 1224.5,802.5 1225.0,803.1 1225.6,803.5 1226.1,801.5 1226.7,802.0 1227.2,807.7 1227.8,802.1 1228.3,807.5 1228.9,811.4 1229.5,808.9 1230.0,798.5 1230.6,807.4 1231.1,806.4 1231.7,806.8 1232.2,799.5 1232.8,807.7 1233.3,801.5 1233.9,809.6 1234.5,809.0 1235.0,814.1 1235.6,804.2 1236.1,800.4 1236.7,809.2 1237.2,808.7 1237.8,804.5 1238.3,810.5 1238.9,808.3 1239.4,801.7 1240.0,804.9 1240.6,804.7 1241.1,805.9 1241.7,807.0 1242.2,804.1 1242.8,805.9 1243.3,808.6 1243.9,806.4 1244.4,805.8 1245.0,805.8 1245.5,806.6 1246.1,800.5 1246.7,807.6 1247.2,803.6 1247.8,807.5 1248.3,802.3 1248.9,810.4 1249.4,808.2 1250.0,802.9 1250.5,808.3 1251.1,805.0 1251.6,813.7 1252.2,809.4 1252.8,805.1 1253.3,808.6 1253.9,807.8 1254.4,812.1 1255.0,809.3 1255.5,809.9 1256.1,804.5 1256.6,811.0 1257.2,815.4 1257.7,810.6 1258.3,808.4 1258.9,809.2 1259.4,805.5 1260.0,809.4 1260.5,805.1 1261.1,809.0 1261.6,807.6 1262.2,806.2 1262.7,811.0 1263.3,804.1 1263.8,809.0 1264.4,804.8 1265.0,815.4 1265.5,815.9 1266.1,812.2 1266.6,815.8 1267.2,811.4 1267.7,811.3 1268.3,808.1 1268.8,806.6 1269.4,810.0 1270.0,807.9 1270.5,808.2 1271.1,812.1 1271.6,809.3 1272.2,804.6 1272.7,809.1 1273.3,807.3 1273.8,808.8 1274.4,806.2 1274.9,813.8 1275.5,816.2 1276.1,806.2 1276.6,812.1 1277.2,811.9 1277.7,806.4 1278.3,810.3 1278.8,814.6 1279.4,812.8 1279.9,815.4 1280.5,806.1 1281.0,807.6 1281.6,811.0 1282.2,811.2 1282.7,810.1 1283.3,808.8 1283.8,808.7 1284.4,808.1 1284.9,811.6 1285.5,801.0 1286.0,815.4 1286.6,808.4 1287.1,805.4 1287.7,811.9 1288.3,805.5 1288.8,811.4 1289.4,808.9 1289.9,812.1 1290.5,812.8 1291.0,814.5 1291.6,808.6 1292.1,809.3 1292.7,810.2 1293.2,805.6 1293.8,812.2 1294.4,810.7 1294.9,805.8 1295.5,814.2 1296.0,814.8 1296.6,806.0 1297.1,812.2 1297.7,814.4 1298.2,813.1 1298.8,807.1 1299.4,805.7 1299.9,809.9 1300.5,808.7 1301.0,810.3 1301.6,810.0 1302.1,812.1 1302.7,808.5 1303.2,809.8 1303.8,820.1 1304.3,810.0 1304.9,812.8 1305.5,811.3 1306.0,811.1 1306.6,807.4 1307.1,812.1 1307.7,810.3 1308.2,813.1 1308.8,817.1 1309.3,811.1 1309.9,813.0 1310.4,807.2 1311.0,810.9 1311.6,815.6 1312.1,810.3 1312.7,808.5 1313.2,811.2 1313.8,810.0 1314.3,809.8 1314.9,809.4 1315.4,817.1 1316.0,807.8 1316.5,809.3 1317.1,808.8 1317.7,814.7 1318.2,809.8 1318.8,814.9 1319.3,811.3 1319.9,810.7 1320.4,806.0 1321.0,814.7 1321.5,812.5 1322.1,812.1 1322.6,810.4 1323.2,809.5 1323.8,806.8 1324.3,813.9 1324.9,811.8 1325.4,809.8 1326.0,808.9 1326.5,811.3 1327.1,810.7 1327.6,816.3 1328.2,813.5 1328.7,809.1 1329.3,807.5 1329.9,810.3 1330.4,808.2 1331.0,811.4 1331.5,812.5 1332.1,813.3 1332.6,812.6 1333.2,810.6 1333.7,813.2 1334.3,808.5 1334.9,811.1 1335.4,814.0 1336.0,812.3 1336.5,807.3 1337.1,807.7 1337.6,806.3 1338.2,817.3 1338.7,806.5 1339.3,811.1 1339.8,817.4 1340.4,815.0 1341.0,815.8 1341.5,810.0 1342.1,814.0 1342.6,821.4 1343.2,811.6 1343.7,813.0 1344.3,810.7 1344.8,811.7 1345.4,813.0 1345.9,816.2 1346.5,809.0 1347.1,807.3 1347.6,811.9 1348.2,812.5 1348.7,816.4 1349.3,814.2 1349.8,810.0 1350.4,813.8 1350.9,815.5 1351.5,812.9 1352.0,810.9 1352.6,814.2 1353.2,810.9 1353.7,806.1 1354.3,816.3 1354.8,808.0 1355.4,811.0 1355.9,811.1 1356.5,811.1 1357.0,811.2 1357.6,807.6 1358.1,813.8 1358.7,812.3 1359.3,812.3 1359.8,815.6 1360.4,815.7 1360.9,816.5 1361.5,818.1 1362.0,813.7 1362.6,807.4 1363.1,813.0 1363.7,812.3 1364.2,812.5 1364.8,810.4 1365.4,809.5 1365.9,814.9 1366.5,815.4 1367.0,808.9 1367.6,814.1 1368.1,811.9 1368.7,811.2 1369.2,814.6 1369.8,812.3 1370.4,810.7 1370.9,812.6 1371.5,806.2 1372.0,810.6 1372.6,811.1 1373.1,808.1 1373.7,813.1 1374.2,813.4 1374.8,810.6 1375.3,812.0 1375.9,814.7 1376.5,815.9 1377.0,810.2 1377.6,813.6 1378.1,815.8 1378.7,812.5 1379.2,810.2 1379.8,810.2 1380.3,811.6 1380.9,809.4 1381.4,818.9 1382.0,810.9 1382.6,813.8 1383.1,813.2 1383.7,814.7 1384.2,811.5 1384.8,808.6 1385.3,817.8 1385.9,812.5 1386.4,813.1 1387.0,813.4 1387.5,816.7 1388.1,815.2 1388.7,816.4 1389.2,815.4 1389.8,813.3 1390.3,813.6 1390.9,810.5 1391.4,806.8 1392.0,812.1 1392.5,809.5 1393.1,820.9 1393.6,817.8 1394.2,816.6 1394.8,811.2 1395.3,819.3 1395.9,807.7 1396.4,809.2 1397.0,810.6 1397.5,810.0 1398.1,813.4 1398.6,813.6 1399.2,819.0 1399.7,816.1 1400.3,816.9 1400.9,814.4 1401.4,812.6 1402.0,811.0 1402.5,808.5 1403.1,810.5 1403.6,812.0 1404.2,815.5 1404.7,808.0 1405.3,809.0 1405.9,813.9 1406.4,810.0 1407.0,814.3 1407.5,812.0 1408.1,811.0 1408.6,809.2 1409.2,813.0 1409.7,811.1 1410.3,811.5 1410.8,811.4 1411.4,814.0 1412.0,813.9 1412.5,808.2 1413.1,812.9 1413.6,814.7 1414.2,816.7 1414.7,815.9 1415.3,814.2 1415.8,810.0 1416.4,811.2 1416.9,816.4 1417.5,811.4 1418.1,816.8 1418.6,817.5 1419.2,810.4 1419.7,815.0 1420.3,813.4 1420.8,819.9 1421.4,816.3 1421.9,812.2 1422.5,815.0 1423.0,811.0 1423.6,813.4 1424.2,814.5 1424.7,814.4 1425.3,814.9 1425.8,811.2 1426.4,808.3 1426.9,812.9 1427.5,811.3 1428.0,811.9 1428.6,820.6 1429.1,817.7 1429.7,813.6 1430.3,809.8 1430.8,810.3 1431.4,815.3 1431.9,817.5 1432.5,813.4 1433.0,814.7 1433.6,815.1 1434.1,817.6 1434.7,808.7 1435.3,814.9 1435.8,815.7 1436.4,817.4 1436.9,815.7 1437.5,811.2 1438.0,812.8 1438.6,810.0 1439.1,815.2 1439.7,815.3 1440.2,816.3 1440.8,811.8 1441.4,811.3 1441.9,819.4 1442.5,815.4 1443.0,820.1 1443.6,816.2 1444.1,810.5 1444.7,817.4 1445.2,818.7 1445.8,813.7 1446.3,809.2 1446.9,817.1 1447.5,814.7 1448.0,816.0 1448.6,807.1 1449.1,816.6 1449.7,807.0 1450.2,812.6 1450.8,817.9 1451.3,809.8 1451.9,809.7 1452.4,814.0 1453.0,820.3 1453.6,820.3 1454.1,813.6 1454.7,818.5 1455.2,817.2 1455.8,816.3 1456.3,816.6 1456.9,813.4 1457.4,818.0 1458.0,818.8 1458.5,823.7 1459.1,818.4 1459.7,808.4 1460.2,812.1 1460.8,816.7 1461.3,816.0 1461.9,810.2 1462.4,815.4 1463.0,814.8 1463.5,815.7 1464.1,815.5 1464.6,818.6 1465.2,820.3 1465.8,818.0 1466.3,812.6 1466.9,813.4 1467.4,814.0 1468.0,815.8 1468.5,814.8 1469.1,815.0 1469.6,813.3 1470.2,818.9 1470.8,818.6 1471.3,818.9 1471.9,815.9 1472.4,817.5 1473.0,813.5 1473.5,813.2 1474.1,814.6 1474.6,817.9 1475.2,815.8 1475.7,812.8 1476.3,816.5 1476.9,817.5 1477.4,816.7 1478.0,814.3 1478.5,816.4 1479.1,815.0 1479.6,815.3 1480.2,816.0 1480.7,818.5 1481.3,821.7 1481.8,820.9 1482.4,818.1 1483.0,815.1 1483.5,815.4 1484.1,815.5 1484.6,819.7 1485.2,808.2 1485.7,817.1 1486.3,810.4 1486.8,816.3 1487.4,820.2 1487.9,813.6 1488.5,809.6 1489.1,820.1 1489.6,820.7 1490.2,817.8 1490.7,820.0 1491.3,813.9 1491.8,819.7 1492.4,821.3 1492.9,818.2 1493.5,817.1 1494.0,820.0 1494.6,819.6 1495.2,814.1 1495.7,820.2 1496.3,818.4 1496.8,816.7 1497.4,820.1 1497.9,819.0 1498.5,818.4 1499.0,814.8 1499.6,818.7 1500.1,813.0 1500.7,815.9 1501.3,811.3 1501.8,811.3 1502.4,817.5 1502.9,816.0 1503.5,816.5 1504.0,817.9 1504.6,817.2 1505.1,813.6 1505.7,816.4 1506.3,816.0 1506.8,814.7 1507.4,815.8 1507.9,815.1 1508.5,814.3 1509.0,815.2 1509.6,816.8 1510.1,822.1 1510.7,813.8 1511.2,817.6 1511.8,811.9 1512.4,820.7 1512.9,815.1 1513.5,816.5 1514.0,819.8 1514.6,818.9 1515.1,811.7 1515.7,817.7 1516.2,815.4 1516.8,817.8 1517.3,816.5 1517.9,818.1 1518.5,816.8 1519.0,815.6 1519.6,819.4 1520.1,811.5 1520.7,814.7 1521.2,813.2 1521.8,815.5 1522.3,814.7 1522.9,815.5 1523.4,814.5 1524.0,814.6 1524.6,811.2 1525.1,815.8 1525.7,816.8 1526.2,814.1 1526.8,814.0 1527.3,814.0 1527.9,820.6 1528.4,816.3 1529.0,816.9 1529.5,814.9 1530.1,814.3 1530.7,813.2 1531.2,820.2 1531.8,810.9 1532.3,816.6 1532.9,815.6 1533.4,815.0 1534.0,811.2 1534.5,812.1 1535.1,818.5 1535.6,813.6 1536.2,818.1 1536.8,817.5 1537.3,817.2 1537.9,817.7 1538.4,812.1 1539.0,814.2 1539.5,817.5 1540.1,811.9 1540.6,820.2 1541.2,813.9 1541.8,815.3 1542.3,812.5 1542.9,816.5 1543.4,813.3 1544.0,814.7 1544.5,812.1 1545.1,818.8 1545.6,810.7 1546.2,816.6 1546.7,816.0 1547.3,816.5 1547.9,812.4 1548.4,818.2 1549.0,818.0 1549.5,815.7 1550.1,816.1 1550.6,814.7 1551.2,817.0 1551.7,812.8 1552.3,816.7 1552.8,816.3 1553.4,811.1 1554.0,807.6 1554.5,814.7 1555.1,814.6 1555.6,818.4 1556.2,815.1 1556.7,813.5 1557.3,811.1 1557.8,814.6 1558.4,813.2 1558.9,811.7 1559.5,814.4 1560.1,817.7 1560.6,814.9 1561.2,811.6 1561.7,815.5 1562.3,811.4 1562.8,809.9 1563.4,815.8 1563.9,812.7 1564.5,817.5 1565.0,815.1 1565.6,811.8 1566.2,814.7 1566.7,817.7 1567.3,813.3 1567.8,810.7 1568.4,811.8 1568.9,811.2 1569.5,810.0 1570.0,809.6 1570.6,814.6 1571.2,816.5 1571.7,812.1 1572.3,815.4 1572.8,815.6 1573.4,817.9 1573.9,812.1 1574.5,811.5 1575.0,813.8 1575.6,812.7 1576.1,813.2 1576.7,816.1 1577.3,810.7 1577.8,812.6 1578.4,808.8 1578.9,811.2 1579.5,809.4 1580.0,809.0 1580.6,810.6 1581.1,809.7 1581.7,812.2 1582.2,813.4 1582.8,806.0 1583.4,813.7 1583.9,803.2 1584.5,811.0 1585.0,812.3 1585.6,807.7 1586.1,808.8 1586.7,806.8 1587.2,812.1 1587.8,798.4 1588.3,805.4 1588.9,801.8 1589.5,808.7 1590.0,812.1 1590.6,811.5 1591.1,809.3 1591.7,807.5 1592.2,803.5 1592.8,810.0 1593.3,807.3 1593.9,801.2 1594.4,798.7 1595.0,800.2 1595.6,805.8 1596.1,805.5 1596.7,805.9 1597.2,795.2 1597.8,795.6 1598.3,801.7 1598.9,795.4 1599.4,796.4 1600.0,785.3 1600.5,787.6 1601.1,787.1 1601.7,783.2 1602.2,780.3 1602.8,771.4 1603.3,785.7 1603.9,774.9 1604.4,762.7 1605.0,773.4 1605.5,763.6 1606.1,763.3 1606.7,753.3 1607.2,744.8 1607.8,740.1 1608.3,742.8 1608.9,740.9 1609.4,733.4 1610.0,728.8 1610.5,727.3 1611.1,714.5 1611.6,715.1 1612.2,711.3 1612.8,699.7 1613.3,691.5 1613.9,683.4 1614.4,676.8 1615.0,676.8 1615.5,688.8 1616.1,676.0 1616.6,676.8 1617.2,693.8 1617.7,691.6 1618.3,687.7 1618.9,700.3 1619.4,694.8 1620.0,703.8 1620.5,719.6 1621.1,717.2 1621.6,710.7 1622.2,722.3 1622.7,730.1 1623.3,724.6 1623.8,726.7 1624.4,747.2 1625.0,736.1 1625.5,733.5 1626.1,747.9 1626.6,766.2 1627.2,760.2 1627.7,766.7 1628.3,752.8 1628.8,766.3 1629.4,779.5 1629.9,773.8 1630.5,785.2 1631.1,783.1 1631.6,784.7 1632.2,792.8 1632.7,784.2 1633.3,786.1 1633.8,790.3 1634.4,792.3 1634.9,785.4 1635.5,799.3 1636.0,796.3 1636.6,796.0 1637.2,800.4 1637.7,797.6 1638.3,805.0 1638.8,801.7 1639.4,805.2 1639.9,800.2 1640.5,803.3 1641.0,806.3 1641.6,802.3 1642.2,803.8 1642.7,806.3 1643.3,810.6 1643.8,809.8 1644.4,810.6 1644.9,808.9 1645.5,811.2 1646.0,813.5 1646.6,809.4 1647.1,810.5 1647.7,811.2 1648.3,803.3 1648.8,809.5 1649.4,811.4 1649.9,812.6 1650.5,809.5 1651.0,813.6 1651.6,808.9 1652.1,810.5 1652.7,816.2 1653.2,807.2 1653.8,811.2 1654.4,811.1 1654.9,811.3 1655.5,810.1 1656.0,813.7 1656.6,808.7 1657.1,808.0 1657.7,813.4 1658.2,808.6 1658.8,813.2 1659.3,812.2 1659.9,810.2 1660.5,811.3 1661.0,812.1 1661.6,813.7 1662.1,810.6 1662.7,811.9 1663.2,808.5 1663.8,811.8 1664.3,807.2 1664.9,812.6 1665.4,811.5 1666.0,818.7 1666.6,816.5 1667.1,812.5 1667.7,815.6 1668.2,813.8 1668.8,809.9 1669.3,806.4 1669.9,816.2 1670.4,814.3 1671.0,807.8 1671.5,815.1 1672.1,815.9 1672.7,811.5 1673.2,815.6 1673.8,808.7 1674.3,812.9 1674.9,813.6 1675.4,815.7 1676.0,814.7 1676.5,814.3 1677.1,815.2 1677.7,812.0 1678.2,817.8 1678.8,812.9 1679.3,816.0 1679.9,813.9 1680.4,813.2 1681.0,815.5 1681.5,815.2 1682.1,817.6 1682.6,816.9 1683.2,812.5 1683.8,815.4 1684.3,814.4 1684.9,812.0 1685.4,811.2 1686.0,814.9 1686.5,812.8 1687.1,810.6 1687.6,814.0 1688.2,814.8 1688.7,814.5 1689.3,811.1 1689.9,812.8 1690.4,817.9 1691.0,812.3 1691.5,813.5 1692.1,820.4 1692.6,815.3 1693.2,813.1 1693.7,809.3 1694.3,815.2 1694.8,810.8 1695.4,814.4 1696.0,812.2 1696.5,810.1 1697.1,818.7 1697.6,814.2 1698.2,816.8 1698.7,816.3 1699.3,812.5 1699.8,814.7 1700.4,813.5 1700.9,816.9 1701.5,815.5 1702.1,813.5 1702.6,818.7 1703.2,815.7 1703.7,815.5 1704.3,812.3 1704.8,815.4 1705.4,810.5 1705.9,815.5 1706.5,811.8 1707.0,814.7 1707.6,813.5 1708.2,814.7 1708.7,815.0 1709.3,813.9 1709.8,813.9 1710.4,810.2 1710.9,809.1 1711.5,817.2 1712.0,815.4 1712.6,810.0 1713.2,818.7 1713.7,811.9 1714.3,815.0 1714.8,814.8 1715.4,813.9 1715.9,815.1 1716.5,810.0 1717.0,813.4 1717.6,812.8 1718.1,813.6 1718.7,812.6 1719.3,811.6 1719.8,811.3 1720.4,815.4 1720.9,810.9 1721.5,814.0 1722.0,813.9 1722.6,812.7 1723.1,813.9 1723.7,814.2 1724.2,811.4 1724.8,813.5 1725.4,817.5 1725.9,809.8 1726.5,811.7 1727.0,810.5 1727.6,817.4 1728.1,808.7 1728.7,812.3 1729.2,814.5 1729.8,809.9 1730.3,811.7 1730.9,810.2 1731.5,808.5 1732.0,811.7 1732.6,813.1 1733.1,810.7 1733.7,812.1 1734.2,813.4 1734.8,814.6 1735.3,808.4 1735.9,813.0 1736.4,809.8 1737.0,806.5 1737.6,809.3 1738.1,812.8 1738.7,811.8 1739.2,808.2 1739.8,815.0 1740.3,811.8 1740.9,810.5 1741.4,809.2 1742.0,811.6 1742.6,809.4 1743.1,813.2 1743.7,811.0 1744.2,811.6 1744.8,809.2 1745.3,806.1 1745.9,811.1 1746.4,807.1 1747.0,809.2 1747.5,809.4 1748.1,807.3 1748.7,811.4 1749.2,805.5 1749.8,812.7 1750.3,807.3 1750.9,811.1 1751.4,811.8 1752.0,806.3 1752.5,806.5 1753.1,810.6 1753.6,808.6 1754.2,808.3 1754.8,803.4 1755.3,803.7 1755.9,809.1 1756.4,811.2 1757.0,805.8 1757.5,805.3 1758.1,807.9 1758.6,808.5 1759.2,808.6 1759.7,806.1 1760.3,802.3 1760.9,810.6 1761.4,805.7 1762.0,810.0 1762.5,801.9 1763.1,807.7 1763.6,805.6 1764.2,804.1 1764.7,809.1 1765.3,809.9 1765.8,805.3 1766.4,808.3 1767.0,804.1 1767.5,805.2 1768.1,806.1 1768.6,805.9 1769.2,808.4 1769.7,803.8 1770.3,809.2 1770.8,809.3 1771.4,806.4 1771.9,804.1 1772.5,801.2 1773.1,807.0 1773.6,805.5 1774.2,807.6 1774.7,804.8 1775.3,807.5 1775.8,807.4 1776.4,807.7 1776.9,808.5 1777.5,808.6 1778.1,810.3 1778.6,806.2 1779.2,809.9 1779.7,808.7 1780.3,807.4 1780.8,806.1 1781.4,812.2 1781.9,809.3 1782.5,807.6 1783.0,809.2 1783.6,809.1 1784.2,808.0 1784.7,806.0 1785.3,809.9 1785.8,809.2 1786.4,809.1 1786.9,812.3 1787.5,806.8 1788.0,807.8 1788.6,810.6 1789.1,812.4 1789.7,811.9 1790.3,812.3 1790.8,805.4 1791.4,812.0 1791.9,811.9 1792.5,812.7 1793.0,809.5 1793.6,812.5 1794.1,813.7 1794.7,815.3 1795.2,812.1 1795.8,808.4 1796.4,811.8 1796.9,813.3 1797.5,813.1 1798.0,816.5 1798.6,811.5 1799.1,809.7 1799.7,810.7 1800.2,813.9 1800.8,810.5 1801.3,810.0 1801.9,810.6 1802.5,815.5 1803.0,813.3 1803.6,812.0 1804.1,814.9 1804.7,814.6 1805.2,810.7 1805.8,815.1 1806.3,813.8 1806.9,808.4 1807.4,810.6 1808.0,814.1 1808.6,814.8 1809.1,813.0 1809.7,811.4 1810.2,814.4 1810.8,809.6 1811.3,815.3 1811.9,813.7 1812.4,814.1 1813.0,812.7 1813.6,816.3 1814.1,808.9 1814.7,812.5 1815.2,816.0 1815.8,813.0 1816.3,818.2 1816.9,815.9 1817.4,813.1 1818.0,817.7 1818.5,814.9 1819.1,816.6 1819.7,813.8 1820.2,813.9 1820.8,817.1 1821.3,815.8 1821.9,813.8 1822.4,813.6 1823.0,817.3 1823.5,820.0 1824.1,814.0 1824.6,817.6 1825.2,809.2 1825.8,812.9 1826.3,817.8 1826.9,820.1 1827.4,816.6 1828.0,817.8 1828.5,817.2 1829.1,819.0 1829.6,814.2 1830.2,818.3 1830.7,815.8 1831.3,816.1 1831.9,817.0 1832.4,816.6 1833.0,815.4 1833.5,816.6 1834.1,815.1 1834.6,820.9 1835.2,819.1 1835.7,816.6 1836.3,821.4 1836.8,820.7 1837.4,819.0 1838.0,816.6 1838.5,818.6 1839.1,819.4 1839.6,821.4 1840.2,817.8 1840.7,817.0 1841.3,823.8 1841.8,821.7 1842.4,819.3 1842.9,816.5 1843.5,819.9 1844.1,821.4 1844.6,820.7 1845.2,820.9 1845.7,819.2 1846.3,821.8 1846.8,817.8 1847.4,818.3 1847.9,818.2 1848.5,817.9 1849.1,824.0 1849.6,815.6 1850.2,820.1 1850.7,817.4 1851.3,816.8 1851.8,820.0 1852.4,816.2 1852.9,819.6 1853.5,825.2 1854.0,819.7 1854.6,821.0 1855.2,818.0 1855.7,821.1 1856.3,816.6 1856.8,820.5 1857.4,819.8 1857.9,825.1 1858.5,819.9 1859.0,819.2 1859.6,818.8 1860.1,817.3 1860.7,821.8 1861.3,823.4 1861.8,819.2 1862.4,821.7 1862.9,819.2 1863.5,820.9 1864.0,821.0 1864.6,816.6 1865.1,818.1 1865.7,822.1 1866.2,815.4 1866.8,819.9 1867.4,819.0 1867.9,817.6 1868.5,819.9 1869.0,820.4 1869.6,820.9 1870.1,813.5 1870.7,823.5 1871.2,818.4 1871.8,822.0 1872.3,819.2 1872.9,818.1 1873.5,819.2 1874.0,826.8 1874.6,823.0 1875.1,818.4 1875.7,819.7 1876.2,821.8 1876.8,820.4 1877.3,819.2 1877.9,818.5 1878.5,816.3 1879.0,820.6 1879.6,821.4 1880.1,824.0 1880.7,817.3 1881.2,820.1 1881.8,818.4 1882.3,821.4 1882.9,818.1 1883.4,816.7 1884.0,814.0 1884.6,819.8 1885.1,818.4 1885.7,820.7 1886.2,816.5 1886.8,824.1 1887.3,815.9 1887.9,818.8 1888.4,818.5 1889.0,820.1 1889.5,816.9 1890.1,814.9 1890.7,814.6 1891.2,819.0 1891.8,817.2 1892.3,817.7 1892.9,814.6 1893.4,817.0 1894.0,817.0 1894.5,818.0 1895.1,812.6 1895.6,814.2 1896.2,820.4 1896.8,814.8 1897.3,815.4 1897.9,814.4 1898.4,811.3 1899.0,812.1 1899.5,815.6 1900.1,812.5 1900.6,819.5 1901.2,809.6 1901.7,808.1 1902.3,811.9 1902.9,809.3 1903.4,816.1 1904.0,810.7 1904.5,813.0 1905.1,807.1 1905.6,812.7 1906.2,812.2 1906.7,813.6 1907.3,810.2 1907.8,810.7 1908.4,809.3 1909.0,811.2 1909.5,806.8 1910.1,809.4 1910.6,805.6 1911.2,809.2 1911.7,805.8 1912.3,804.3 1912.8,803.9 1913.4,810.4 1914.0,800.5 1914.5,800.5 1915.1,807.0 1915.6,801.5 1916.2,803.0 1916.7,802.6 1917.3,811.4 1917.8,801.5 1918.4,801.0 1918.9,801.8 1919.5,803.5 1920.1,804.1 1920.6,797.1 1921.2,803.2 1921.7,807.9 1922.3,794.7 1922.8,802.3 1923.4,802.5 1923.9,799.8 1924.5,797.8 1925.0,789.1 1925.6,800.8 1926.2,794.0 1926.7,793.0 1927.3,796.9 1927.8,781.5 1928.4,788.6 1928.9,789.5 1929.5,788.2 1930.0,785.9 1930.6,790.2 1931.1,780.7 1931.7,781.7 1932.3,777.9 1932.8,764.5 1933.4,764.6 1933.9,775.4 1934.5,760.6 1935.0,758.7 1935.6,749.4 1936.1,752.0 1936.7,744.9 1937.2,747.0 1937.8,751.8 1938.4,742.6 1938.9,742.2 1939.5,751.7 1940.0,745.6 1940.6,744.8 1941.1,746.6 1941.7,737.1 1942.2,737.5 1942.8,735.4 1943.3,743.9 1943.9,739.0 1944.5,740.9 1945.0,734.6 1945.6,746.4 1946.1,747.7 1946.7,746.7 1947.2,738.4 1947.8,744.1 1948.3,750.1 1948.9,747.4 1949.5,755.8 1950.0,761.3 1950.6,755.0 1951.1,760.8 1951.7,761.5 1952.2,772.8 1952.8,775.2 1953.3,786.0 1953.9,776.7 1954.4,775.0 1955.0,782.8 1955.6,782.0 1956.1,785.7 1956.7,791.7 1957.2,787.4 1957.8,793.0 1958.3,784.0 1958.9,797.3 1959.4,795.4 1960.0,795.3 1960.5,795.6 1961.1,803.2 1961.7,797.4 1962.2,804.0 1962.8,798.6 1963.3,801.0 1963.9,802.5 1964.4,808.3 1965.0,803.0 1965.5,803.3 1966.1,802.8 1966.6,802.4 1967.2,801.8 1967.8,809.6 1968.3,808.8 1968.9,802.4 1969.4,805.2 1970.0,801.4 1970.5,808.0 1971.1,807.5 1971.6,805.9 1972.2,803.3 1972.7,808.2 1973.3,807.8 1973.9,805.6 1974.4,808.4 1975.0,802.4 1975.5,804.7 1976.1,803.8 1976.6,807.0 1977.2,811.7 1977.7,807.0 1978.3,810.3 1978.8,807.0 1979.4,806.0 1980.0,810.1 1980.5,808.8 1981.1,811.4 1981.6,810.2 1982.2,805.2 1982.7,800.3 1983.3,808.0 1983.8,804.4 1984.4,803.8 1985.0,803.7 1985.5,806.2 1986.1,807.5 1986.6,808.2 1987.2,813.9 1987.7,805.0 1988.3,808.4 1988.8,805.1 1989.4,805.9 1989.9,809.0 1990.5,810.1 1991.1,805.6 1991.6,812.4 1992.2,806.9 1992.7,812.2 1993.3,809.8 1993.8,812.6 1994.4,811.9 1994.9,810.0 1995.5,812.3 1996.0,807.9 1996.6,808.4 1997.2,811.1 1997.7,815.7 1998.3,810.8 1998.8,811.5 1999.4,817.3 1999.9,813.8 2000.5,814.0 2001.0,811.8 2001.6,814.7 2002.1,816.2 2002.7,815.0 2003.3,817.1 2003.8,816.3 2004.4,818.1 2004.9,817.7 2005.5,815.8 2006.0,818.1 2006.6,820.2 2007.1,817.0 2007.7,813.7 2008.2,816.7 2008.8,815.9 2009.4,821.8 2009.9,817.9 2010.5,813.8 2011.0,815.8 2011.6,819.3 2012.1,813.6 2012.7,815.0 2013.2,816.0 2013.8,815.6 2014.4,814.6 2014.9,816.1 2015.5,812.7 2016.0,814.4 2016.6,814.3 2017.1,814.8 2017.7,814.7 2018.2,815.3 2018.8,814.5 2019.3,814.2 2019.9,815.8 2020.5,816.8 2021.0,816.9 2021.6,812.3 2022.1,815.2 2022.7,816.1 2023.2,813.9 2023.8,815.3 2024.3,813.8 2024.9,815.0 2025.4,810.8 2026.0,814.9 2026.6,812.8 2027.1,812.2 2027.7,813.0 2028.2,815.7 2028.8,815.5 2029.3,814.0 2029.9,815.2 2030.4,812.4 2031.0,810.6 2031.5,809.2 2032.1,813.0 2032.7,812.7 2033.2,813.0 2033.8,813.0 2034.3,815.4 2034.9,810.8 2035.4,811.1 2036.0,816.8 2036.5,814.3 2037.1,812.0 2037.6,808.3 2038.2,810.8 2038.8,811.9 2039.3,812.5 2039.9,813.1 2040.4,812.2 2041.0,815.2 2041.5,810.3 2042.1,812.3 2042.6,811.5 2043.2,814.7 2043.7,813.5 2044.3,814.9 2044.9,813.5 2045.4,821.4 2046.0,815.2 2046.5,812.2 2047.1,813.9 2047.6,813.2 2048.2,815.9 2048.7,816.5 2049.3,815.4 2049.9,814.4 2050.4,813.6 2051.0,818.5 2051.5,817.7 2052.1,809.4 2052.6,815.9 2053.2,814.2 2053.7,815.3 2054.3,819.9 2054.8,814.1 2055.4,814.5 2056.0,822.1 2056.5,816.1 2057.1,816.8 2057.6,819.9 2058.2,816.6 2058.7,817.9 2059.3,818.6 2059.8,821.2 2060.4,815.0 2060.9,816.8 2061.5,818.4 2062.1,820.8 2062.6,817.7 2063.2,820.1 2063.7,818.2 2064.3,818.6 2064.8,822.2 2065.4,819.1 2065.9,825.9 2066.5,820.5 2067.0,822.2 2067.6,821.4 2068.2,816.7 2068.7,816.8 2069.3,821.0 2069.8,817.7 2070.4,818.9 2070.9,819.3 2071.5,818.1 2072.0,822.5 2072.6,821.6 2073.1,820.3 2073.7,821.1 2074.3,818.1 2074.8,821.7 2075.4,818.1 2075.9,823.1 2076.5,818.5 2077.0,818.7 2077.6,822.2 2078.1,821.2 2078.7,817.8 2079.2,821.0 2079.8,819.7 2080.4,819.7 2080.9,821.0 2081.5,820.9 2082.0,821.7 2082.6,820.6 2083.1,820.2 2083.7,819.3 2084.2,822.6 2084.8,817.8 2085.4,823.3 2085.9,823.9 2086.5,823.8 2087.0,819.0 2087.6,823.6 2088.1,821.5 2088.7,821.3 2089.2,825.9 2089.8,819.4 2090.3,820.2 2090.9,816.3 2091.5,814.3 2092.0,819.4 2092.6,819.7 2093.1,820.2 2093.7,819.3 2094.2,814.5 2094.8,819.3 2095.3,820.8 2095.9,821.7 2096.4,816.5 2097.0,816.5 2097.6,816.9 2098.1,816.9 2098.7,814.8 2099.2,816.7 2099.8,821.3 2100.3,815.8 2100.9,814.1 2101.4,817.3 2102.0,816.8 2102.5,819.2 2103.1,816.2 2103.7,817.3 2104.2,815.9 2104.8,815.5 2105.3,818.2 2105.9,817.7 2106.4,817.2 2107.0,818.3 2107.5,815.5 2108.1,817.2 2108.6,817.5 2109.2,819.5 2109.8,813.1 2110.3,816.2 2110.9,817.8 2111.4,815.6 2112.0,816.9 2112.5,818.1 2113.1,817.6 2113.6,813.1 2114.2,814.1 2114.7,810.7 2115.3,817.8 2115.9,816.8 2116.4,819.1 2117.0,816.4 2117.5,813.9 2118.1,818.4 2118.6,813.4 2119.2,816.1 2119.7,815.6 2120.3,817.6 2120.9,817.8 2121.4,815.0 2122.0,814.3 2122.5,815.7 2123.1,814.6 2123.6,817.6 2124.2,816.4 2124.7,818.5 2125.3,820.9 2125.8,813.8 2126.4,814.2 2127.0,816.4 2127.5,816.2 2128.1,814.6 2128.6,811.8 2129.2,820.4 2129.7,815.3 2130.3,812.7 2130.8,810.2 2131.4,817.8 2131.9,815.6 2132.5,814.9 2133.1,812.7 2133.6,814.6 2134.2,813.9 2134.7,809.6 2135.3,820.0 2135.8,815.4 2136.4,813.8 2136.9,812.5 2137.5,813.2 2138.0,819.2 2138.6,815.1 2139.2,811.5 2139.7,816.0 2140.3,815.1 2140.8,815.1 2141.4,813.7 2141.9,813.6 2142.5,814.3 2143.0,813.4 2143.6,810.9 2144.1,811.7 2144.7,813.7 2145.3,810.4 2145.8,813.3 2146.4,812.9 2146.9,815.0 2147.5,813.8 2148.0,812.8 2148.6,812.7 2149.1,814.2 2149.7,815.1 2150.2,811.0 2150.8,810.1 2151.4,811.6 2151.9,808.4 2152.5,811.5 2153.0,814.7 2153.6,815.0 2154.1,816.0 2154.7,813.1 2155.2,813.2 2155.8,811.7 2156.4,811.8 2156.9,813.4 2157.5,814.6 2158.0,813.6 2158.6,808.7 2159.1,813.7 2159.7,812.7 2160.2,811.5 2160.8,813.0 2161.3,814.5 2161.9,813.0 2162.5,811.2 2163.0,819.4 2163.6,811.4 2164.1,813.6 2164.7,815.2 2165.2,811.0 2165.8,813.8 2166.3,811.1 2166.9,812.3 2167.4,811.3 2168.0,816.4 2168.6,810.2 2169.1,814.0 2169.7,813.1 2170.2,809.1 2170.8,816.6 2171.3,812.1 2171.9,812.8 2172.4,813.8 2173.0,811.7 2173.5,812.0 2174.1,813.6 2174.7,812.0 2175.2,814.0 2175.8,816.4 2176.3,812.0 2176.9,811.0 2177.4,813.9 2178.0,815.1 2178.5,815.7 2179.1,812.3 2179.6,809.9 2180.2,816.4 2180.8,816.2 2181.3,817.9 2181.9,813.1 2182.4,816.2 2183.0,817.2 2183.5,811.7 2184.1,817.5 2184.6,818.3 2185.2,816.7 2185.8,816.7 2186.3,817.2 2186.9,815.3 2187.4,813.1 2188.0,814.2 2188.5,815.8 2189.1,814.5 2189.6,818.3 2190.2,815.5 2190.7,816.2 2191.3,813.0 2191.9,817.3 2192.4,815.2 2193.0,819.6 2193.5,813.3 2194.1,817.4 2194.6,816.0 2195.2,816.1 2195.7,820.2 2196.3,818.7 2196.8,815.2 2197.4,819.7 2198.0,815.7 2198.5,818.6 2199.1,813.6 2199.6,816.4 2200.2,816.5 2200.7,816.5 2201.3,814.0 2201.8,813.5 2202.4,817.2 2202.9,818.4 2203.5,817.3 2204.1,816.6 2204.6,814.4 2205.2,816.8 2205.7,816.3 2206.3,816.0 2206.8,817.8 2207.4,817.8 2207.9,818.3 2208.5,817.0 2209.0,815.9 2209.6,817.2 2210.2,817.0 2210.7,814.4 2211.3,817.0 2211.8,814.4 2212.4,813.9 2212.9,816.1 2213.5,816.5 2214.0,819.1 2214.6,817.2 2215.1,818.8 2215.7,820.6 2216.3,818.1 2216.8,818.6 2217.4,816.5 2217.9,819.5 2218.5,818.0 2219.0,818.1 2219.6,815.8 2220.1,816.2 2220.7,816.7 2221.3,818.2 2221.8,820.1 2222.4,815.1 2222.9,817.4 2223.5,817.5 2224.0,822.5 2224.6,817.7 2225.1,817.1 2225.7,819.6 2226.2,816.0 2226.8,819.2 2227.4,815.0 2227.9,822.1 2228.5,818.2 2229.0,817.4 2229.6,815.8 2230.1,818.0 2230.7,818.5 2231.2,816.9 2231.8,820.6 2232.3,817.7 2232.9,818.6 2233.5,818.9 2234.0,821.0 2234.6,817.7 2235.1,818.6 2235.7,819.0 2236.2,819.6 2236.8,815.0 2237.3,820.7 2237.9,818.3 2238.4,817.2 2239.0,818.5 2239.6,814.9 2240.1,817.1 2240.7,819.0 2241.2,821.2 2241.8,818.5 2242.3,819.4 2242.9,818.1 2243.4,820.3 2244.0,818.0 2244.5,819.6 2245.1,818.1 2245.7,816.9 2246.2,816.9 2246.8,817.6 2247.3,821.0 2247.9,824.9 2248.4,818.5 2249.0,817.5 2249.5,819.9 2250.1,819.8 2250.6,817.9 2251.2,822.6 2251.8,820.6 2252.3,820.7 2252.9,819.1 2253.4,819.2 2254.0,820.8 2254.5,816.4 2255.1,817.5 2255.6,819.2 2256.2,816.3 2256.8,822.2 2257.3,817.9 2257.9,818.3 2258.4,819.7 2259.0,822.0 2259.5,819.1 2260.1,817.7 2260.6,817.4 2261.2,819.6 2261.7,818.1 2262.3,823.7 2262.9,821.6 2263.4,813.3 2264.0,817.5 2264.5,819.9 2265.1,823.6 2265.6,815.5 2266.2,818.5 2266.7,821.6 2267.3,818.0 2267.8,819.5 2268.4,818.4 2269.0,820.6 2269.5,817.3 2270.1,819.5 2270.6,816.7 2271.2,821.3 2271.7,820.6 2272.3,819.4 2272.8,819.5 2273.4,819.5 2273.9,818.8 2274.5,819.8 2275.1,820.2 2275.6,819.4 2276.2,818.4 2276.7,818.8 2277.3,818.7 2277.8,820.4 2278.4,819.9 2278.9,823.3 2279.5,819.3 2280.0,819.8 2280.6,818.5 2281.2,819.8 2281.7,818.8 2282.3,818.1 2282.8,820.0 2283.4,822.6 2283.9,818.1 2284.5,818.5 2285.0,819.6 2285.6,820.2 2286.1,822.2 2286.7,818.5 2287.3,819.5 2287.8,818.3 2288.4,818.2 2288.9,818.9 2289.5,817.7 2290.0,820.6 2290.6,821.7 2291.1,818.8 2291.7,818.5 2292.3,822.3 2292.8,819.4 2293.4,822.6 2293.9,814.5 2294.5,819.5 2295.0,818.0 2295.6,818.9 2296.1,821.3 2296.7,821.9 2297.2,819.6 2297.8,821.6 2298.4,817.8 2298.9,820.4 2299.5,819.6 2300.0,816.8 2300.6,821.6 2301.1,818.7 2301.7,820.7 2302.2,818.5 2302.8,820.3 2303.3,821.1 2303.9,819.9" fill="none" stroke="#ff0000" stroke-width="4.4" stroke-linejoin="round" stroke-linecap="round"/>
</g>
<g>
<rect x="844.00" y="470.30" width="55.40" height="55.40" fill="#000" stroke="#000" stroke-width="2.8" stroke-linejoin="round"/>
<rect x="1000.55" y="596.25" width="55.40" height="55.40" fill="#000" stroke="#000" stroke-width="2.8" stroke-linejoin="round"/>
<rect x="905.40" y="337.70" width="55.40" height="55.40" fill="#fff" stroke="#000" stroke-width="2.8" stroke-linejoin="round"/>
<rect x="1579.30" y="545.30" width="55.40" height="55.40" fill="#fff" stroke="#000" stroke-width="2.8" stroke-linejoin="round"/>
<rect x="1922.30" y="629.30" width="55.40" height="55.40" fill="#fff" stroke="#000" stroke-width="2.8" stroke-linejoin="round"/>
<circle cx="621.9" cy="663.2" r="30.3" fill="#000"/>
<circle cx="1158.15" cy="728.9" r="30.3" fill="#000"/>
<rect x="1965.30" y="148.30" width="55.40" height="55.40" fill="#000" stroke="#000" stroke-width="2.8" stroke-linejoin="round"/>
<rect x="1965.30" y="236.70" width="55.40" height="55.40" fill="#fff" stroke="#000" stroke-width="2.8" stroke-linejoin="round"/>
<circle cx="1994.2" cy="354.5" r="30.3" fill="#000"/>
</g>
<g>
<text transform="translate(2067.4,198.7) scale(1,1.035)" font-size="70.7"><tspan class="sym" y="0.9" font-size="73.8" textLength="47.2" lengthAdjust="spacingAndGlyphs">α</tspan><tspan x="43" y="0">-SiC</tspan></text>
<text transform="translate(2070.9,287.7) scale(1,1.035)" font-size="70.7"><tspan class="sym" y="0.5" font-size="71.7" textLength="41.2" lengthAdjust="spacingAndGlyphs">β</tspan><tspan x="40.4" y="0">-SiC</tspan></text>
<text transform="translate(2071.6,385.3) scale(1,1.035)" font-size="70.7" text-anchor="start">C</text>
</g>
<g>
<text transform="translate(1994.1,756.0)" font-size="82" text-anchor="start" style="fill:#ff0000">1 cycle</text>
<text transform="translate(1986.7,1064.9)" font-size="82" text-anchor="start" style="fill:#0000cc">3<tspan dx="-2.5"> cycles</tspan></text>
<text transform="translate(1994.3,1377.1)" font-size="82" text-anchor="start" style="fill:#940084">5<tspan dx="-2.2"> cycles</tspan></text>
</g>
</svg>
</body>
</html>
